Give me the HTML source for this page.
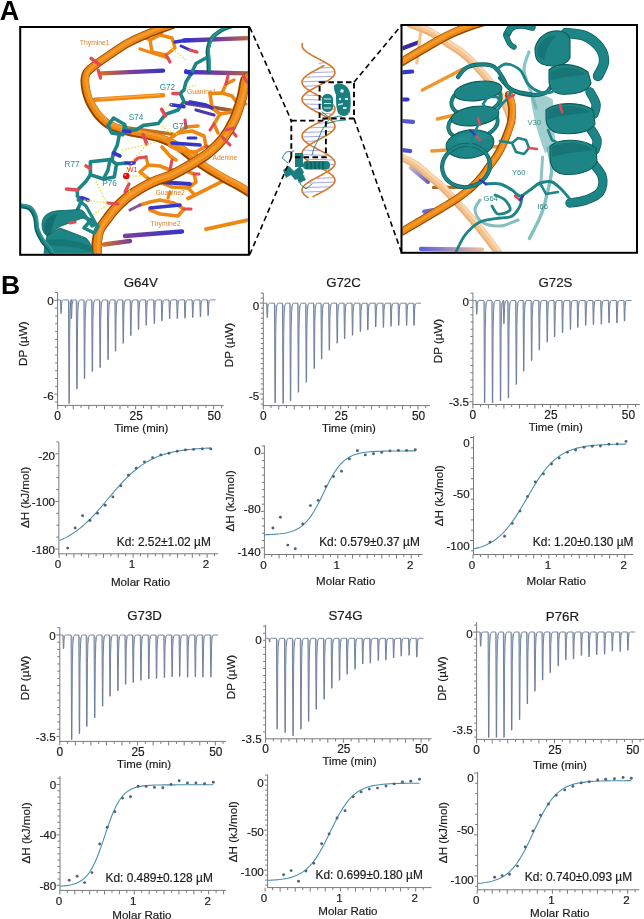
<!DOCTYPE html>
<html><head><meta charset="utf-8"><style>
html,body{margin:0;padding:0;background:#fff;}
body{width:644px;height:919px;overflow:hidden;}
svg{display:block;font-family:"Liberation Sans",sans-serif;will-change:transform;}
</style></head><body>
<svg width="644" height="919" viewBox="0 0 644 919">
<clipPath id="cl"><rect x="21.2" y="28" width="226.6" height="225.8"/></clipPath>
<g clip-path="url(#cl)">
<linearGradient id="g1" gradientUnits="userSpaceOnUse" x1="184" y1="40.5" x2="252" y2="38"><stop offset="0" stop-color="#3535c8"/><stop offset="0.55" stop-color="#7a3f9a"/><stop offset="1" stop-color="#c06a30"/></linearGradient>
<line x1="184" y1="40.5" x2="252" y2="38" stroke="url(#g1)" stroke-width="4.4" stroke-linecap="round"/>
<linearGradient id="g2" gradientUnits="userSpaceOnUse" x1="101" y1="73.4" x2="163" y2="70.6"><stop offset="0" stop-color="#d07020"/><stop offset="0.5" stop-color="#7a3f9a"/><stop offset="1" stop-color="#3535c8"/></linearGradient>
<line x1="101" y1="73.4" x2="163" y2="70.6" stroke="url(#g2)" stroke-width="4.4" stroke-linecap="round"/>
<linearGradient id="g3" gradientUnits="userSpaceOnUse" x1="186" y1="72" x2="252" y2="73.5"><stop offset="0" stop-color="#3535c8"/><stop offset="0.5" stop-color="#7a3f9a"/><stop offset="1" stop-color="#c06a30"/></linearGradient>
<line x1="186" y1="72" x2="252" y2="73.5" stroke="url(#g3)" stroke-width="4.4" stroke-linecap="round"/>
<path d="M94.6,99.8 L163.0,95.3" fill="none" stroke="#ee8812" stroke-width="4.6" stroke-linecap="round" stroke-linejoin="round" opacity="1.0"/>
<path d="M100.0,98.8 L160.0,94.7" fill="none" stroke="#f7a33c" stroke-width="1.4" stroke-linecap="round" stroke-linejoin="round" opacity="1.0"/>
<path d="M140.0,49.0 L168.0,58.0" fill="none" stroke="#ee8812" stroke-width="3.2" stroke-linecap="round" stroke-linejoin="round" opacity="1.0"/>
<linearGradient id="g4" gradientUnits="userSpaceOnUse" x1="125" y1="236" x2="182" y2="231.5"><stop offset="0" stop-color="#7a3f9a"/><stop offset="1" stop-color="#3535c8"/></linearGradient>
<line x1="125" y1="236" x2="182" y2="231.5" stroke="url(#g4)" stroke-width="4.4" stroke-linecap="round"/>
<linearGradient id="g5" gradientUnits="userSpaceOnUse" x1="104" y1="244.5" x2="130" y2="241"><stop offset="0" stop-color="#d07020"/><stop offset="1" stop-color="#7a3f9a"/></linearGradient>
<line x1="104" y1="244.5" x2="130" y2="241" stroke="url(#g5)" stroke-width="4.4" stroke-linecap="round"/>
<path d="M188.0,198.5 L222.3,181.4" fill="none" stroke="#ee8812" stroke-width="3.8" stroke-linecap="round" stroke-linejoin="round" opacity="1.0"/>
<path d="M206.0,229.2 L247.5,220.2" fill="none" stroke="#ee8812" stroke-width="3.8" stroke-linecap="round" stroke-linejoin="round" opacity="1.0"/>
<linearGradient id="g6" gradientUnits="userSpaceOnUse" x1="186" y1="103" x2="231" y2="110.3"><stop offset="0" stop-color="#5a3aa0"/><stop offset="1" stop-color="#a8641c"/></linearGradient>
<line x1="186" y1="103" x2="231" y2="110.3" stroke="url(#g6)" stroke-width="3.8" stroke-linecap="round"/>
<path d="M128.4,128.0 L173.2,134.2" fill="none" stroke="#c07020" stroke-width="3.4" stroke-linecap="round" stroke-linejoin="round" opacity="1.0"/>
<path d="M150.0,40.0 L160.0,35.0 L172.0,38.0 L175.0,48.0 L166.0,55.0 L152.0,52.0 L150.0,40.0" fill="none" stroke="#ee8812" stroke-width="3.4" stroke-linecap="round" stroke-linejoin="round" opacity="1.0"/>
<path d="M166.0,55.0 L170.0,62.0" fill="none" stroke="#e24a55" stroke-width="3.1" stroke-linecap="round" stroke-linejoin="round" opacity="1.0"/>
<path d="M160.0,35.0 L165.0,28.0" fill="none" stroke="#ee8812" stroke-width="3.2" stroke-linecap="round" stroke-linejoin="round" opacity="1.0"/>
<path d="M175.0,42.0 L188.0,40.0" fill="none" stroke="#3535c8" stroke-width="3.6" stroke-linecap="round" stroke-linejoin="round" opacity="1.0"/>
<path d="M181.0,46.0 L190.0,50.0" fill="none" stroke="#3535c8" stroke-width="3.0" stroke-linecap="round" stroke-linejoin="round" opacity="1.0"/>
<path d="M190.0,50.0 L197.0,52.0" fill="none" stroke="#e24a55" stroke-width="3.2" stroke-linecap="round" stroke-linejoin="round" opacity="1.0"/>
<path d="M143.0,37.0 L150.0,40.0" fill="none" stroke="#ee8812" stroke-width="3.2" stroke-linecap="round" stroke-linejoin="round" opacity="1.0"/>
<g fill="none" stroke-linecap="round" stroke-linejoin="round" opacity="1.0"><path d="M172.0,25.0 C168.3,26.3 157.3,30.0 150.0,33.0 C142.7,36.0 135.0,39.2 128.0,43.0 C121.0,46.8 113.7,52.2 108.0,56.0 C102.3,59.8 97.6,63.2 94.0,66.0 C90.4,68.8 88.0,70.7 86.5,73.0 C85.0,75.3 85.0,77.3 84.8,80.0 C84.6,82.7 85.1,86.0 85.6,89.0 C86.1,92.0 87.1,95.3 88.0,98.0 C88.9,100.7 89.4,102.0 91.2,105.0 C93.0,108.0 95.5,112.6 98.6,116.0 C101.7,119.4 105.1,122.9 109.8,125.4 C114.5,127.9 120.7,129.4 126.6,131.0 C132.5,132.6 139.6,133.5 145.2,134.7 C150.8,135.9 155.4,136.8 160.1,138.4 C164.8,140.0 169.2,141.9 173.2,144.0 C177.2,146.1 180.4,148.3 184.0,151.0 C187.6,153.7 191.0,157.0 195.0,160.0 C199.0,163.0 203.0,165.8 208.0,169.0 C213.0,172.2 219.7,176.0 225.0,179.0 C230.3,182.0 235.2,184.2 240.0,187.0 C244.8,189.8 251.7,194.5 254.0,196.0" stroke="#8e4500" stroke-width="8.6"/><path d="M172.0,25.0 C168.3,26.3 157.3,30.0 150.0,33.0 C142.7,36.0 135.0,39.2 128.0,43.0 C121.0,46.8 113.7,52.2 108.0,56.0 C102.3,59.8 97.6,63.2 94.0,66.0 C90.4,68.8 88.0,70.7 86.5,73.0 C85.0,75.3 85.0,77.3 84.8,80.0 C84.6,82.7 85.1,86.0 85.6,89.0 C86.1,92.0 87.1,95.3 88.0,98.0 C88.9,100.7 89.4,102.0 91.2,105.0 C93.0,108.0 95.5,112.6 98.6,116.0 C101.7,119.4 105.1,122.9 109.8,125.4 C114.5,127.9 120.7,129.4 126.6,131.0 C132.5,132.6 139.6,133.5 145.2,134.7 C150.8,135.9 155.4,136.8 160.1,138.4 C164.8,140.0 169.2,141.9 173.2,144.0 C177.2,146.1 180.4,148.3 184.0,151.0 C187.6,153.7 191.0,157.0 195.0,160.0 C199.0,163.0 203.0,165.8 208.0,169.0 C213.0,172.2 219.7,176.0 225.0,179.0 C230.3,182.0 235.2,184.2 240.0,187.0 C244.8,189.8 251.7,194.5 254.0,196.0" stroke="#ee8812" stroke-width="6.7" transform="translate(0.75,-0.75)"/><path d="M172.0,25.0 C168.3,26.3 157.3,30.0 150.0,33.0 C142.7,36.0 135.0,39.2 128.0,43.0 C121.0,46.8 113.7,52.2 108.0,56.0 C102.3,59.8 97.6,63.2 94.0,66.0 C90.4,68.8 88.0,70.7 86.5,73.0 C85.0,75.3 85.0,77.3 84.8,80.0 C84.6,82.7 85.1,86.0 85.6,89.0 C86.1,92.0 87.1,95.3 88.0,98.0 C88.9,100.7 89.4,102.0 91.2,105.0 C93.0,108.0 95.5,112.6 98.6,116.0 C101.7,119.4 105.1,122.9 109.8,125.4 C114.5,127.9 120.7,129.4 126.6,131.0 C132.5,132.6 139.6,133.5 145.2,134.7 C150.8,135.9 155.4,136.8 160.1,138.4 C164.8,140.0 169.2,141.9 173.2,144.0 C177.2,146.1 180.4,148.3 184.0,151.0 C187.6,153.7 191.0,157.0 195.0,160.0 C199.0,163.0 203.0,165.8 208.0,169.0 C213.0,172.2 219.7,176.0 225.0,179.0 C230.3,182.0 235.2,184.2 240.0,187.0 C244.8,189.8 251.7,194.5 254.0,196.0" stroke="#f7a33c" stroke-width="2.4" transform="translate(1.65,-1.65)" opacity="0.75"/></g>
<path d="M91.0,58.4 L99.5,64.7" fill="none" stroke="#e24a55" stroke-width="3.4" stroke-linecap="round" stroke-linejoin="round" opacity="1.0"/>
<path d="M98.3,70.5 L100.6,78.0" fill="none" stroke="#e24a55" stroke-width="3.4" stroke-linecap="round" stroke-linejoin="round" opacity="1.0"/>
<path d="M210.0,93.5 L222.0,93.0 L232.0,96.0 L238.0,104.0 L232.0,112.0 L220.0,114.0 L212.0,108.0 L210.0,93.5" fill="none" stroke="#ee8812" stroke-width="3.6" stroke-linecap="round" stroke-linejoin="round" opacity="1.0"/>
<path d="M222.0,93.0 L226.0,84.0 L234.0,80.0" fill="none" stroke="#ee8812" stroke-width="3.4" stroke-linecap="round" stroke-linejoin="round" opacity="1.0"/>
<path d="M232.0,112.0 L236.0,122.0 L232.0,131.0" fill="none" stroke="#ee8812" stroke-width="3.6" stroke-linecap="round" stroke-linejoin="round" opacity="1.0"/>
<path d="M220.0,114.0 L214.0,124.0 L218.0,133.0" fill="none" stroke="#ee8812" stroke-width="3.6" stroke-linecap="round" stroke-linejoin="round" opacity="1.0"/>
<path d="M214.0,124.0 L210.0,130.0" fill="none" stroke="#e24a55" stroke-width="3.1" stroke-linecap="round" stroke-linejoin="round" opacity="1.0"/>
<path d="M232.0,131.0 L236.0,136.0" fill="none" stroke="#e24a55" stroke-width="3.1" stroke-linecap="round" stroke-linejoin="round" opacity="1.0"/>
<path d="M238.0,104.0 L246.0,104.0" fill="none" stroke="#ee8812" stroke-width="3.2" stroke-linecap="round" stroke-linejoin="round" opacity="1.0"/>
<path d="M190.0,102.0 L206.0,105.0 L212.0,108.0" fill="none" stroke="#3535c8" stroke-width="3.6" stroke-linecap="round" stroke-linejoin="round" opacity="1.0"/>
<path d="M196.0,110.0 L214.0,115.0" fill="none" stroke="#4a3ab0" stroke-width="3.2" stroke-linecap="round" stroke-linejoin="round" opacity="1.0"/>
<path d="M226.0,84.0 L228.0,76.0" fill="none" stroke="#e24a55" stroke-width="3.1" stroke-linecap="round" stroke-linejoin="round" opacity="1.0"/>
<path d="M168.0,140.0 L178.0,133.0 L192.0,131.0 L204.0,136.0 L206.0,146.0 L196.0,152.0 L180.0,151.0 L170.0,146.0 L168.0,140.0" fill="none" stroke="#ee8812" stroke-width="3.6" stroke-linecap="round" stroke-linejoin="round" opacity="1.0"/>
<path d="M178.0,133.0 L186.0,127.0 L198.0,126.0" fill="none" stroke="#ee8812" stroke-width="3.6" stroke-linecap="round" stroke-linejoin="round" opacity="1.0"/>
<path d="M172.0,143.0 L200.0,145.0" fill="none" stroke="#3535c8" stroke-width="3.6" stroke-linecap="round" stroke-linejoin="round" opacity="1.0"/>
<path d="M188.0,138.0 L196.0,138.0" fill="none" stroke="#3535c8" stroke-width="3.0" stroke-linecap="round" stroke-linejoin="round" opacity="1.0"/>
<path d="M162.0,147.0 L170.0,156.0 L176.0,160.0" fill="none" stroke="#ee8812" stroke-width="3.6" stroke-linecap="round" stroke-linejoin="round" opacity="1.0"/>
<path d="M206.0,146.0 L214.0,150.0" fill="none" stroke="#e24a55" stroke-width="3.2" stroke-linecap="round" stroke-linejoin="round" opacity="1.0"/>
<path d="M185.0,120.0 L186.0,128.0" fill="none" stroke="#e24a55" stroke-width="3.1" stroke-linecap="round" stroke-linejoin="round" opacity="1.0"/>
<path d="M196.0,152.0 L198.0,160.0" fill="none" stroke="#ee8812" stroke-width="3.2" stroke-linecap="round" stroke-linejoin="round" opacity="1.0"/>
<path d="M140.0,172.0 L148.0,165.0 L160.0,166.0 L170.0,170.0 L184.0,170.0 L194.0,174.0 L196.0,182.0 L188.0,188.0 L172.0,187.0 L160.0,182.0 L150.0,180.0 L140.0,172.0" fill="none" stroke="#ee8812" stroke-width="3.6" stroke-linecap="round" stroke-linejoin="round" opacity="1.0"/>
<path d="M160.0,182.0 L190.0,184.0" fill="none" stroke="#3535c8" stroke-width="3.8" stroke-linecap="round" stroke-linejoin="round" opacity="1.0"/>
<path d="M170.0,170.0 L172.0,160.0" fill="none" stroke="#e24a55" stroke-width="3.1" stroke-linecap="round" stroke-linejoin="round" opacity="1.0"/>
<path d="M194.0,174.0 L199.0,174.0" fill="none" stroke="#e24a55" stroke-width="3.1" stroke-linecap="round" stroke-linejoin="round" opacity="1.0"/>
<path d="M148.0,165.0 L146.0,157.0" fill="none" stroke="#ee8812" stroke-width="3.2" stroke-linecap="round" stroke-linejoin="round" opacity="1.0"/>
<path d="M188.0,188.0 L194.0,194.0" fill="none" stroke="#ee8812" stroke-width="3.2" stroke-linecap="round" stroke-linejoin="round" opacity="1.0"/>
<path d="M130.0,165.0 L138.0,158.0 L146.0,157.0" fill="none" stroke="#e24a55" stroke-width="3.2" stroke-linecap="round" stroke-linejoin="round" opacity="1.0"/>
<path d="M140.0,205.0 L150.0,202.0 L160.0,200.0 L174.0,203.0 L184.0,209.0 L178.0,216.0 L160.0,214.0 L150.0,210.0" fill="none" stroke="#ee8812" stroke-width="3.6" stroke-linecap="round" stroke-linejoin="round" opacity="1.0"/>
<path d="M150.0,208.0 L180.0,205.0" fill="none" stroke="#3535c8" stroke-width="3.6" stroke-linecap="round" stroke-linejoin="round" opacity="1.0"/>
<path d="M184.0,209.0 L191.0,209.0" fill="none" stroke="#e24a55" stroke-width="3.2" stroke-linecap="round" stroke-linejoin="round" opacity="1.0"/>
<path d="M130.0,210.0 L140.0,205.0" fill="none" stroke="#8a4fa0" stroke-width="3.0" stroke-linecap="round" stroke-linejoin="round" opacity="1.0"/>
<path d="M168.0,198.0 L170.0,192.0" fill="none" stroke="#ee8812" stroke-width="3.2" stroke-linecap="round" stroke-linejoin="round" opacity="1.0"/>
<g fill="none" stroke-linecap="round" stroke-linejoin="round" opacity="1.0"><path d="M252.0,75.0 C250.9,75.8 247.2,76.3 245.5,80.0 C243.8,83.7 243.7,90.7 241.8,97.3 C239.9,103.9 237.4,112.8 234.3,119.6 C231.2,126.4 227.5,132.7 223.2,138.3 C218.9,143.9 213.6,148.9 208.3,153.2 C203.0,157.5 197.7,160.6 191.5,164.3 C185.3,168.0 176.6,172.9 171.0,175.5 C165.4,178.1 162.0,178.4 158.0,180.0 C154.0,181.6 150.8,183.0 147.0,185.0 C143.2,187.0 138.6,189.7 135.0,192.0 C131.4,194.3 128.7,196.0 125.2,199.0 C121.7,202.0 117.0,206.7 114.0,210.0 C111.0,213.3 109.4,215.7 107.0,219.0 C104.6,222.3 101.2,226.2 99.5,230.0 C97.8,233.8 97.2,237.3 96.8,242.0 C96.3,246.7 96.8,255.3 96.8,258.0" stroke="#8e4500" stroke-width="10.4"/><path d="M252.0,75.0 C250.9,75.8 247.2,76.3 245.5,80.0 C243.8,83.7 243.7,90.7 241.8,97.3 C239.9,103.9 237.4,112.8 234.3,119.6 C231.2,126.4 227.5,132.7 223.2,138.3 C218.9,143.9 213.6,148.9 208.3,153.2 C203.0,157.5 197.7,160.6 191.5,164.3 C185.3,168.0 176.6,172.9 171.0,175.5 C165.4,178.1 162.0,178.4 158.0,180.0 C154.0,181.6 150.8,183.0 147.0,185.0 C143.2,187.0 138.6,189.7 135.0,192.0 C131.4,194.3 128.7,196.0 125.2,199.0 C121.7,202.0 117.0,206.7 114.0,210.0 C111.0,213.3 109.4,215.7 107.0,219.0 C104.6,222.3 101.2,226.2 99.5,230.0 C97.8,233.8 97.2,237.3 96.8,242.0 C96.3,246.7 96.8,255.3 96.8,258.0" stroke="#ee8812" stroke-width="8.1" transform="translate(0.75,-0.75)"/><path d="M252.0,75.0 C250.9,75.8 247.2,76.3 245.5,80.0 C243.8,83.7 243.7,90.7 241.8,97.3 C239.9,103.9 237.4,112.8 234.3,119.6 C231.2,126.4 227.5,132.7 223.2,138.3 C218.9,143.9 213.6,148.9 208.3,153.2 C203.0,157.5 197.7,160.6 191.5,164.3 C185.3,168.0 176.6,172.9 171.0,175.5 C165.4,178.1 162.0,178.4 158.0,180.0 C154.0,181.6 150.8,183.0 147.0,185.0 C143.2,187.0 138.6,189.7 135.0,192.0 C131.4,194.3 128.7,196.0 125.2,199.0 C121.7,202.0 117.0,206.7 114.0,210.0 C111.0,213.3 109.4,215.7 107.0,219.0 C104.6,222.3 101.2,226.2 99.5,230.0 C97.8,233.8 97.2,237.3 96.8,242.0 C96.3,246.7 96.8,255.3 96.8,258.0" stroke="#f7a33c" stroke-width="2.9" transform="translate(1.65,-1.65)" opacity="0.75"/></g>
<path d="M243.5,76.0 L247.0,82.0" fill="none" stroke="#e24a55" stroke-width="3.2" stroke-linecap="round" stroke-linejoin="round" opacity="1.0"/>
<path d="M222.0,137.0 L230.0,145.0" fill="none" stroke="#e24a55" stroke-width="3.1" stroke-linecap="round" stroke-linejoin="round" opacity="1.0"/>
<path d="M226.0,130.0 L234.0,128.0" fill="none" stroke="#e24a55" stroke-width="3.1" stroke-linecap="round" stroke-linejoin="round" opacity="1.0"/>
<g fill="none" stroke-linecap="round" stroke-linejoin="round" opacity="1.0"><path d="M236.0,25.0 C233.7,25.8 226.0,27.8 222.0,30.0 C218.0,32.2 214.4,34.8 212.0,38.0 C209.6,41.2 208.4,45.7 207.8,49.4 C207.2,53.1 208.2,56.4 208.3,60.0 C208.5,63.6 208.6,69.2 208.7,71.0" stroke="#0c5c5c" stroke-width="4.0"/><path d="M236.0,25.0 C233.7,25.8 226.0,27.8 222.0,30.0 C218.0,32.2 214.4,34.8 212.0,38.0 C209.6,41.2 208.4,45.7 207.8,49.4 C207.2,53.1 208.2,56.4 208.3,60.0 C208.5,63.6 208.6,69.2 208.7,71.0" stroke="#1d8585" stroke-width="3.1" transform="translate(0.75,-0.75)"/><path d="M236.0,25.0 C233.7,25.8 226.0,27.8 222.0,30.0 C218.0,32.2 214.4,34.8 212.0,38.0 C209.6,41.2 208.4,45.7 207.8,49.4 C207.2,53.1 208.2,56.4 208.3,60.0 C208.5,63.6 208.6,69.2 208.7,71.0" stroke="#3aa3a3" stroke-width="1.1" transform="translate(1.65,-1.65)" opacity="0.75"/></g>
<path d="M206.0,58.0 L196.0,63.5 L191.5,73.0 L186.0,82.0 L184.0,89.8 L180.3,93.5 L184.0,101.2 L178.0,110.0 L165.7,114.2 L158.3,123.5 L143.4,125.4 L135.9,130.0 L126.6,130.0 L124.7,124.5 L113.5,118.0 L108.0,125.4 L111.7,132.9 L122.9,134.7 L124.7,124.5" fill="none" stroke="#1d8585" stroke-width="3.6" stroke-linecap="round" stroke-linejoin="round" opacity="1.0"/>
<path d="M119.1,136.0 L117.3,145.0 L113.5,153.0 L112.0,160.0" fill="none" stroke="#1d8585" stroke-width="3.6" stroke-linecap="round" stroke-linejoin="round" opacity="1.0"/>
<path d="M90.4,161.7 L110.0,159.6 L116.5,164.0 L114.3,177.0 L103.5,179.0 L90.4,174.8 L90.4,161.7" fill="none" stroke="#1d8585" stroke-width="3.6" stroke-linecap="round" stroke-linejoin="round" opacity="1.0"/>
<path d="M103.5,179.0 L108.0,170.0 L110.0,159.6" fill="none" stroke="#1d8585" stroke-width="3.6" stroke-linecap="round" stroke-linejoin="round" opacity="1.0"/>
<path d="M116.5,164.0 L126.0,163.0" fill="none" stroke="#1d8585" stroke-width="3.6" stroke-linecap="round" stroke-linejoin="round" opacity="1.0"/>
<path d="M126.0,163.0 L134.0,163.0" fill="none" stroke="#3535c8" stroke-width="3.6" stroke-linecap="round" stroke-linejoin="round" opacity="1.0"/>
<path d="M90.4,174.8 L86.0,181.3 L81.7,185.7 L77.4,190.0 L77.4,196.0 L81.7,201.0 L77.4,209.6 L81.7,216.0 L90.7,220.2" fill="none" stroke="#1d8585" stroke-width="3.6" stroke-linecap="round" stroke-linejoin="round" opacity="1.0"/>
<path d="M77.4,190.0 L66.5,189.0" fill="none" stroke="#e24a55" stroke-width="3.6" stroke-linecap="round" stroke-linejoin="round" opacity="1.0"/>
<path d="M81.7,197.6 L88.0,200.0" fill="none" stroke="#3535c8" stroke-width="3.6" stroke-linecap="round" stroke-linejoin="round" opacity="1.0"/>
<path d="M86.0,166.0 L90.4,168.3" fill="none" stroke="#e24a55" stroke-width="3.6" stroke-linecap="round" stroke-linejoin="round" opacity="1.0"/>
<path d="M161.7,109.4 L165.4,115.9" fill="none" stroke="#e24a55" stroke-width="3.6" stroke-linecap="round" stroke-linejoin="round" opacity="1.0"/>
<path d="M186.0,71.0 L191.5,74.0" fill="none" stroke="#3535c8" stroke-width="3.6" stroke-linecap="round" stroke-linejoin="round" opacity="1.0"/>
<path d="M171.0,104.7 L184.0,106.6" fill="none" stroke="#3535c8" stroke-width="3.6" stroke-linecap="round" stroke-linejoin="round" opacity="1.0"/>
<path d="M172.9,93.5 L178.0,93.5" fill="none" stroke="#e24a55" stroke-width="3.6" stroke-linecap="round" stroke-linejoin="round" opacity="1.0"/>
<path d="M143.0,134.5 L146.8,143.8" fill="none" stroke="#e24a55" stroke-width="3.6" stroke-linecap="round" stroke-linejoin="round" opacity="1.0"/>
<path d="M130.0,131.7 L124.0,131.0" fill="none" stroke="#3535c8" stroke-width="3.6" stroke-linecap="round" stroke-linejoin="round" opacity="1.0"/>
<path d="M113.5,153.0 L120.0,156.0" fill="none" stroke="#3535c8" stroke-width="3.6" stroke-linecap="round" stroke-linejoin="round" opacity="1.0"/>
<path d="M90.7,220.2 L98.0,226.0 L94.0,233.0 L84.0,228.0 L90.7,220.2" fill="none" stroke="#1d8585" stroke-width="3.6" stroke-linecap="round" stroke-linejoin="round" opacity="1.0"/>
<path d="M42,224 C42,214 52,210 64,210.5 L79,209.5 C83,210 86,213 85,217 L60,226.5 L47,236 C43,233 42,229 42,224 Z" fill="#1d8585" stroke="#0c5c5c" stroke-width="0.8"/>
<path d="M44,226 C46,218 52,214 58,214 C54,220 52,226 51,233 L47,236 C45,233 44,230 44,226 Z" fill="#0c5c5c" opacity="0.5"/>
<path d="M47,236 L60,228 L86,238 C90,242 93,248 94,258 L44,258 C44,250 45,242 47,236 Z" fill="#1d8585" stroke="#0c5c5c" stroke-width="0.8"/>
<path d="M47,240 C60,238 76,240 90,246 L92,252 C78,247 62,245 46,246 Z" fill="#0c5c5c" opacity="0.35"/>
<path d="M78.0,200.0 L86.0,206.0 L96.0,224.0 L92.0,226.0 L84.0,214.0 L76.0,212.0" fill="none" stroke="#1d8585" stroke-width="3.2" stroke-linecap="round" stroke-linejoin="round" opacity="1.0"/>
<path d="M70.0,223.0 L75.0,222.0" fill="none" stroke="#e24a55" stroke-width="3.2" stroke-linecap="round" stroke-linejoin="round" opacity="1.0"/>
<g fill="none" stroke-linecap="round" stroke-linejoin="round" opacity="1.0"><path d="M20.0,206.0 C21.6,206.4 27.3,206.5 29.8,208.4 C32.3,210.3 34.0,213.8 35.2,217.4 C36.4,221.0 35.8,226.1 37.0,230.0 C38.2,233.9 40.3,237.7 42.4,241.0 C44.5,244.3 47.8,247.2 49.6,250.0 C51.4,252.8 52.4,256.7 53.0,258.0" stroke="#0c5c5c" stroke-width="4.4"/><path d="M20.0,206.0 C21.6,206.4 27.3,206.5 29.8,208.4 C32.3,210.3 34.0,213.8 35.2,217.4 C36.4,221.0 35.8,226.1 37.0,230.0 C38.2,233.9 40.3,237.7 42.4,241.0 C44.5,244.3 47.8,247.2 49.6,250.0 C51.4,252.8 52.4,256.7 53.0,258.0" stroke="#1d8585" stroke-width="3.4" transform="translate(0.75,-0.75)"/><path d="M20.0,206.0 C21.6,206.4 27.3,206.5 29.8,208.4 C32.3,210.3 34.0,213.8 35.2,217.4 C36.4,221.0 35.8,226.1 37.0,230.0 C38.2,233.9 40.3,237.7 42.4,241.0 C44.5,244.3 47.8,247.2 49.6,250.0 C51.4,252.8 52.4,256.7 53.0,258.0" stroke="#3aa3a3" stroke-width="1.2" transform="translate(1.65,-1.65)" opacity="0.75"/></g>
<path d="M170.0,47.0 L180.0,55.0 L186.0,60.0" fill="none" stroke="#e4e44a" stroke-width="1.4" stroke-dasharray="1.6 1.6"/>
<path d="M186.0,88.0 L196.0,85.0" fill="none" stroke="#e4e44a" stroke-width="1.4" stroke-dasharray="1.6 1.6"/>
<path d="M172.0,104.0 L166.0,108.0" fill="none" stroke="#e4e44a" stroke-width="1.4" stroke-dasharray="1.6 1.6"/>
<path d="M162.0,126.0 L170.0,132.0 L178.0,134.0" fill="none" stroke="#e4e44a" stroke-width="1.4" stroke-dasharray="1.6 1.6"/>
<path d="M122.0,150.0 L140.0,146.0 L156.0,142.0" fill="none" stroke="#e4e44a" stroke-width="1.4" stroke-dasharray="1.6 1.6"/>
<path d="M126.0,172.0 L136.0,156.0 L146.0,146.0" fill="none" stroke="#e4e44a" stroke-width="1.4" stroke-dasharray="1.6 1.6"/>
<path d="M96.0,181.0 L103.0,196.0 L108.0,203.0" fill="none" stroke="#e4e44a" stroke-width="1.4" stroke-dasharray="1.6 1.6"/>
<path d="M84.0,200.0 L107.0,203.0" fill="none" stroke="#e4e44a" stroke-width="1.4" stroke-dasharray="1.6 1.6"/>
<path d="M93.0,215.0 L107.0,205.0" fill="none" stroke="#e4e44a" stroke-width="1.4" stroke-dasharray="1.6 1.6"/>
<path d="M127.0,181.0 L130.0,194.0" fill="none" stroke="#e4e44a" stroke-width="1.4" stroke-dasharray="1.6 1.6"/>
<path d="M132.0,176.0 L146.0,176.0" fill="none" stroke="#e4e44a" stroke-width="1.4" stroke-dasharray="1.6 1.6"/>
<circle cx="126.3" cy="176" r="3.3" fill="#d81010"/>
<circle cx="125.4" cy="175" r="1.1" fill="#ff8080"/>
<path d="M108.0,203.0 L118.0,204.0" fill="none" stroke="#e24a55" stroke-width="3.0" stroke-linecap="round" stroke-linejoin="round" opacity="1.0"/>
<path d="M125.0,192.0 L129.0,184.0" fill="none" stroke="#e24a55" stroke-width="3.2" stroke-linecap="round" stroke-linejoin="round" opacity="1.0"/>
<text x="79.8" y="44.6" font-size="6.8" fill="#d9822b" text-anchor="start">Thymine1</text>
<text x="159.7" y="89.6" font-size="8.2" fill="#2a8a8a" text-anchor="start">G72</text>
<text x="187" y="93.8" font-size="6.8" fill="#d9822b" text-anchor="start">Guanine1</text>
<text x="128.8" y="119.8" font-size="8.2" fill="#2a8a8a" text-anchor="start">S74</text>
<text x="172.4" y="128.8" font-size="8.2" fill="#2a8a8a" text-anchor="start">G73</text>
<text x="212.4" y="160.2" font-size="6.8" fill="#d9822b" text-anchor="start">Adenine</text>
<text x="64.5" y="167" font-size="8.2" fill="#2a8a8a" text-anchor="start">R77</text>
<text x="127" y="172" font-size="6.8" fill="#e02020" text-anchor="start">W1</text>
<text x="102.3" y="186.3" font-size="8.2" fill="#2a8a8a" text-anchor="start">P76</text>
<text x="155.4" y="194.5" font-size="6.8" fill="#d9822b" text-anchor="start">Guanine2</text>
<text x="150.6" y="225.7" font-size="6.8" fill="#d9822b" text-anchor="start">Thymine2</text>
</g>
<rect x="20.2" y="27" width="228.7" height="227.8" fill="none" stroke="#000" stroke-width="2"/>
<line x1="325.6" y1="62.6" x2="318.5" y2="63.4" stroke="#5050cc" stroke-width="0.85" opacity="0.6"/>
<line x1="332.2" y1="67.2" x2="321.2" y2="68.0" stroke="#5050cc" stroke-width="0.85" opacity="0.6"/>
<line x1="335.0" y1="71.8" x2="312.5" y2="72.6" stroke="#5050cc" stroke-width="0.85" opacity="0.6"/>
<line x1="333.2" y1="76.4" x2="305.5" y2="77.2" stroke="#5050cc" stroke-width="0.85" opacity="0.6"/>
<line x1="327.2" y1="81.0" x2="302.1" y2="81.8" stroke="#5050cc" stroke-width="0.85" opacity="0.6"/>
<line x1="318.9" y1="85.6" x2="303.3" y2="86.4" stroke="#5050cc" stroke-width="0.85" opacity="0.6"/>
<line x1="304.2" y1="94.8" x2="317.0" y2="95.6" stroke="#5050cc" stroke-width="0.85" opacity="0.6"/>
<line x1="302.0" y1="99.4" x2="325.6" y2="100.2" stroke="#5050cc" stroke-width="0.85" opacity="0.6"/>
<line x1="304.4" y1="104.0" x2="332.2" y2="104.8" stroke="#5050cc" stroke-width="0.85" opacity="0.6"/>
<line x1="310.8" y1="108.6" x2="335.0" y2="109.4" stroke="#5050cc" stroke-width="0.85" opacity="0.6"/>
<line x1="319.3" y1="113.2" x2="333.2" y2="114.0" stroke="#5050cc" stroke-width="0.85" opacity="0.6"/>
<line x1="333.3" y1="122.4" x2="318.9" y2="123.2" stroke="#5050cc" stroke-width="0.85" opacity="0.6"/>
<line x1="334.9" y1="127.0" x2="310.4" y2="127.8" stroke="#5050cc" stroke-width="0.85" opacity="0.6"/>
<line x1="332.0" y1="131.6" x2="304.2" y2="132.4" stroke="#5050cc" stroke-width="0.85" opacity="0.6"/>
<line x1="325.2" y1="136.2" x2="302.0" y2="137.0" stroke="#5050cc" stroke-width="0.85" opacity="0.6"/>
<line x1="316.6" y1="140.8" x2="304.4" y2="141.6" stroke="#5050cc" stroke-width="0.85" opacity="0.6"/>
<line x1="303.2" y1="150.0" x2="319.3" y2="150.8" stroke="#5050cc" stroke-width="0.85" opacity="0.6"/>
<line x1="302.2" y1="154.6" x2="327.6" y2="155.4" stroke="#5050cc" stroke-width="0.85" opacity="0.6"/>
<line x1="305.7" y1="159.2" x2="333.3" y2="160.0" stroke="#5050cc" stroke-width="0.85" opacity="0.6"/>
<line x1="312.9" y1="163.8" x2="334.9" y2="164.6" stroke="#5050cc" stroke-width="0.85" opacity="0.6"/>
<line x1="321.6" y1="168.4" x2="332.0" y2="169.2" stroke="#5050cc" stroke-width="0.85" opacity="0.6"/>
<line x1="334.2" y1="177.6" x2="316.6" y2="178.4" stroke="#5050cc" stroke-width="0.85" opacity="0.6"/>
<line x1="334.6" y1="182.2" x2="308.5" y2="183.0" stroke="#5050cc" stroke-width="0.85" opacity="0.6"/>
<line x1="330.5" y1="186.8" x2="303.2" y2="187.6" stroke="#5050cc" stroke-width="0.85" opacity="0.6"/>
<line x1="323.0" y1="191.4" x2="302.2" y2="192.2" stroke="#5050cc" stroke-width="0.85" opacity="0.6"/>
<path d="M302.6,43.0 L302.2,44.1 L302.0,45.2 L302.1,46.3 L302.5,47.4 L303.1,48.5 L304.0,49.6 L305.2,50.7 L306.5,51.8 L308.0,52.9 L309.8,54.0 L311.6,55.1 L313.6,56.2 L315.6,57.3 L317.7,58.4 L319.8,59.5 L321.9,60.6 L324.0,61.7 L325.9,62.8 L327.7,63.9 L329.4,65.0 L330.9,66.1 L332.2,67.2 L333.2,68.3 L334.1,69.4 L334.6,70.5 L334.9,71.6 L335.0,72.7 L334.7,73.8 L334.3,74.9 L333.5,76.0 L332.5,77.1 L331.3,78.2 L329.8,79.3 L328.2,80.4 L326.4,81.5 L324.5,82.6 L322.5,83.7 L320.4,84.8 L318.3,85.9 L316.2,87.0 L314.1,88.1 L312.1,89.2 L310.2,90.3 L308.5,91.4 L306.9,92.5 L305.5,93.6 L304.3,94.7 L303.3,95.8 L302.6,96.9 L302.2,98.0 L302.0,99.1 L302.1,100.2 L302.4,101.3 L303.1,102.4 L303.9,103.5 L305.0,104.6 L306.4,105.7 L307.9,106.8 L309.6,107.9 L311.4,109.0 L313.4,110.1 L315.4,111.2 L317.5,112.3 L319.7,113.4 L321.7,114.5 L323.8,115.6 L325.7,116.7 L327.6,117.8 L329.3,118.9 L330.8,120.0 L332.1,121.1 L333.2,122.2 L334.0,123.3 L334.6,124.4 L334.9,125.5 L335.0,126.6 L334.8,127.7 L334.3,128.8 L333.6,129.9 L332.6,131.0 L331.4,132.1 L330.0,133.2 L328.4,134.3 L326.6,135.4 L324.7,136.5 L322.7,137.6 L320.6,138.7 L318.5,139.8 L316.4,140.9 L314.3,142.0 L312.3,143.1 L310.4,144.2 L308.6,145.3 L307.0,146.4 L305.6,147.5 L304.4,148.6 L303.4,149.7 L302.7,150.8 L302.2,151.9 L302.0,153.0 L302.1,154.1 L302.4,155.2 L303.0,156.3 L303.8,157.4 L304.9,158.5 L306.2,159.6 L307.7,160.7 L309.4,161.8 L311.3,162.9 L313.2,164.0 L315.3,165.1 L317.3,166.2 L319.5,167.3 L321.6,168.4 L323.6,169.5 L325.6,170.6 L327.4,171.7 L329.1,172.8 L330.6,173.9 L332.0,175.0 L333.1,176.1 L333.9,177.2 L334.6,178.3 L334.9,179.4 L335.0,180.5 L334.8,181.6 L334.4,182.7 L333.7,183.8 L332.7,184.9 L331.5,186.0 L330.1,187.1 L328.5,188.2 L326.8,189.3 L324.9,190.4 L322.9,191.5 L320.8,192.6 L318.7,193.7 L316.6,194.8 L314.5,195.9 L312.5,197.0" fill="none" stroke="#d4782a" stroke-width="1.6"/>
<path d="M324.5,65.4 L322.8,66.3 L321.0,67.3 L319.2,68.2 L317.4,69.2 L315.6,70.1 L313.8,71.1 L312.1,72.0 L310.5,73.0 L308.9,73.9 L307.5,74.9 L306.2,75.8 L305.1,76.8 L304.1,77.7 L303.3,78.7 L302.7,79.6 L302.3,80.6 L302.0,81.5 L302.0,82.4 L302.2,83.4 L302.6,84.3 L303.1,85.3 L303.9,86.2 L304.8,87.2 L305.9,88.1 L307.1,89.1 L308.5,90.0 L310.0,91.0 L311.6,91.9 L313.3,92.9 L315.1,93.8 L316.9,94.8 L318.7,95.7 L320.5,96.7 L322.3,97.6 L324.1,98.6 L325.7,99.5 L327.3,100.4 L328.8,101.4 L330.2,102.3 L331.4,103.3 L332.4,104.2 L333.3,105.2 L334.0,106.1 L334.5,107.1 L334.9,108.0 L335.0,109.0 L334.9,109.9 L334.7,110.9 L334.2,111.8 L333.5,112.8 L332.7,113.7 L331.7,114.7 L330.5,115.6 L329.2,116.5 L327.7,117.5 L326.2,118.4 L324.5,119.4 L322.8,120.3 L321.0,121.3 L319.2,122.2 L317.4,123.2 L315.6,124.1 L313.8,125.1 L312.1,126.0 L310.5,127.0 L308.9,127.9 L307.5,128.9 L306.2,129.8 L305.1,130.8 L304.1,131.7 L303.3,132.6 L302.7,133.6 L302.3,134.5 L302.0,135.5 L302.0,136.4 L302.2,137.4 L302.6,138.3 L303.1,139.3 L303.9,140.2 L304.8,141.2 L305.9,142.1 L307.1,143.1 L308.5,144.0 L310.0,145.0 L311.6,145.9 L313.3,146.9 L315.1,147.8 L316.9,148.7 L318.7,149.7 L320.5,150.6 L322.3,151.6 L324.0,152.5 L325.7,153.5 L327.3,154.4 L328.8,155.4 L330.1,156.3 L331.4,157.3 L332.4,158.2 L333.3,159.2 L334.0,160.1 L334.5,161.1 L334.9,162.0 L335.0,163.0 L334.9,163.9 L334.7,164.9 L334.2,165.8 L333.5,166.7 L332.7,167.7 L331.7,168.6 L330.5,169.6 L329.2,170.5 L327.8,171.5 L326.2,172.4 L324.5,173.4 L322.8,174.3 L321.0,175.3 L319.2,176.2 L317.4,177.2 L315.6,178.1 L313.8,179.1 L312.1,180.0 L310.5,181.0 L309.0,181.9 L307.5,182.8 L306.2,183.8 L305.1,184.7 L304.1,185.7 L303.3,186.6 L302.7,187.6 L302.3,188.5 L302.0,189.5 L302.0,190.4 L302.2,191.4 L302.5,192.3 L303.1,193.3 L303.9,194.2 L304.8,195.2 L305.9,196.1 L307.1,197.1 L308.5,198.0" fill="none" stroke="#d4782a" stroke-width="1.6"/>
<path d="M334,88 C333,84 338,82.5 342,84 C346,85 349,88 350,93 C351,100 351,108 349.5,113 C347,117 341,117 338,113 C336,108 336,100 336,95 C335,92 334,90 334,88 Z" fill="#1b7f7f"/>
<path d="M341,89 l3,1 l-1,3 l-3,-1 z M345,98 l3,0 l0,2 l-3,0 z M338,104 l5,-1 l0,1.5 l-5,1 z M343,107 l4,0 l-1,2 l-3,0 z M339,98 l2,0 l0,2 l-2,0 z" fill="#e8f4f4" opacity="0.9"/>
<path d="M336,110 C336,114 340,118 345,117 C348,117 349,114 349,112" fill="none" stroke="#fff" stroke-width="0.8" opacity="0.7"/>
<rect x="322" y="94" width="11" height="18" rx="5" fill="#1b7f7f"/>
<path d="M324,99 h7 M324,103.5 h7 M324,108 h7" stroke="#e8f4f4" stroke-width="1.1"/>
<path d="M322.0,112.0 L330.0,118.0 L340.0,116.0 L346.0,120.0 L336.0,121.0 L326.0,124.0" fill="none" stroke="#1b7f7f" stroke-width="0.9" stroke-linecap="round" stroke-linejoin="round" opacity="1.0"/>
<path d="M330.0,118.0 L322.0,130.0 L318.0,140.0 L314.0,148.0 L312.0,155.0" fill="none" stroke="#1b7f7f" stroke-width="0.9" stroke-linecap="round" stroke-linejoin="round" opacity="1.0"/>
<rect x="303" y="161" width="27" height="8.5" rx="4" fill="#1b7f7f"/>
<path d="M307,162 v7 M311,162 v7 M315,162 v7 M319,162 v7 M323,162 v7" stroke="#0b4f4f" stroke-width="1.1"/>
<path d="M283,170 l6,-4 l5,5 l6,-5 l4,6 l-3,6 l-6,2 l-4,-5 l-5,3 z" fill="#1b7f7f"/>
<path d="M295,153 h8 v14 h-8 z" fill="#1b7f7f"/>
<path d="M296,176 l7,-2 l3,6 l-7,3 z" fill="#1b7f7f"/>
<path d="M288.0,163.0 L282.0,158.0 L286.0,152.0 L294.0,151.0" fill="none" stroke="#1b7f7f" stroke-width="0.9" stroke-linecap="round" stroke-linejoin="round" opacity="1.0"/>
<path d="M304.0,176.0 L300.0,184.0 L306.0,189.0 L312.0,184.0" fill="none" stroke="#1b7f7f" stroke-width="0.9" stroke-linecap="round" stroke-linejoin="round" opacity="1.0"/>
<rect x="319.6" y="82.2" width="34.4" height="36.3" stroke="#000" stroke-width="1.9" fill="none" stroke-dasharray="5.5 3.3"/>
<rect x="291.3" y="120.6" width="34.6" height="36.7" stroke="#000" stroke-width="1.9" fill="none" stroke-dasharray="5.5 3.3"/>
<line x1="249.8" y1="27.3" x2="291.3" y2="120.6" stroke="#000" stroke-width="1.6" fill="none" stroke-dasharray="5.5 3.6"/>
<line x1="249.8" y1="254.5" x2="291.3" y2="157.3" stroke="#000" stroke-width="1.6" fill="none" stroke-dasharray="5.5 3.6"/>
<line x1="354" y1="82.2" x2="401.5" y2="25.3" stroke="#000" stroke-width="1.6" fill="none" stroke-dasharray="5.5 3.6"/>
<line x1="354" y1="118.5" x2="401.5" y2="252.5" stroke="#000" stroke-width="1.6" fill="none" stroke-dasharray="5.5 3.6"/>
<clipPath id="cr"><rect x="402.5" y="26" width="233.5" height="225.8"/></clipPath>
<g clip-path="url(#cr)">
<path d="M402.0,48.6 L417.7,42.6" fill="none" stroke="#3a2aa8" stroke-width="4.2" stroke-linecap="round" stroke-linejoin="round" opacity="1.0"/>
<path d="M402.0,72.4 L412.1,71.5" fill="none" stroke="#3535c8" stroke-width="4.2" stroke-linecap="round" stroke-linejoin="round" opacity="1.0"/>
<path d="M402.0,99.5 L407.5,99.5" fill="none" stroke="#3535c8" stroke-width="4.2" stroke-linecap="round" stroke-linejoin="round" opacity="1.0"/>
<path d="M402.0,121.0 L413.0,121.8" fill="none" stroke="#5555d8" stroke-width="4.2" stroke-linecap="round" stroke-linejoin="round" opacity="1.0"/>
<path d="M402.0,150.1 L410.2,151.0" fill="none" stroke="#5050d0" stroke-width="4.2" stroke-linecap="round" stroke-linejoin="round" opacity="1.0"/>
<path d="M424.2,211.6 L435.4,209.7" fill="none" stroke="#6b6bd8" stroke-width="4.2" stroke-linecap="round" stroke-linejoin="round" opacity="1.0"/>
<linearGradient id="gr1" gradientUnits="userSpaceOnUse" x1="411" y1="167.8" x2="428" y2="181.8"><stop offset="0" stop-color="#c0b8c8"/><stop offset="1" stop-color="#6060d0"/></linearGradient>
<line x1="411" y1="167.8" x2="428" y2="181.8" stroke="url(#gr1)" stroke-width="4.2" stroke-linecap="round"/>
<linearGradient id="gr2" gradientUnits="userSpaceOnUse" x1="421" y1="249" x2="482" y2="249.8"><stop offset="0" stop-color="#6060e0"/><stop offset="1" stop-color="#e8c0a0"/></linearGradient>
<line x1="421" y1="249" x2="482" y2="249.8" stroke="url(#gr2)" stroke-width="4.4" stroke-linecap="round"/>
<path d="M422.4,90.1 L463.3,68.7" fill="none" stroke="#f0962e" stroke-width="3.4" stroke-linecap="round" stroke-linejoin="round" opacity="1.0"/>
<path d="M437.3,119.0 L461.5,113.4" fill="none" stroke="#f0962e" stroke-width="3.4" stroke-linecap="round" stroke-linejoin="round" opacity="1.0"/>
<path d="M431.7,151.0 L500.6,146.4" fill="none" stroke="#f0962e" stroke-width="3.4" stroke-linecap="round" stroke-linejoin="round" opacity="1.0"/>
<path d="M433.5,187.4 L470.8,187.4" fill="none" stroke="#a86a30" stroke-width="3.4" stroke-linecap="round" stroke-linejoin="round" opacity="1.0"/>
<path d="M420.5,33.3 L416.8,63.0" fill="none" stroke="#f6c48e" stroke-width="3.2" stroke-linecap="round" stroke-linejoin="round" opacity="1.0"/>
<g fill="none" stroke-linecap="round" stroke-linejoin="round" opacity="1.0"><path d="M410.0,24.0 C413.3,25.3 423.8,28.8 430.0,32.0 C436.2,35.2 441.7,39.5 447.0,43.0 C452.3,46.5 457.3,49.3 462.0,53.0 C466.7,56.7 469.8,59.5 475.0,65.0 C480.2,70.5 488.2,79.8 493.0,86.0 C497.8,92.2 500.8,96.0 504.0,102.0 C507.2,108.0 510.7,118.7 512.0,122.0" stroke="#e8b07a" stroke-width="7.6"/><path d="M410.0,24.0 C413.3,25.3 423.8,28.8 430.0,32.0 C436.2,35.2 441.7,39.5 447.0,43.0 C452.3,46.5 457.3,49.3 462.0,53.0 C466.7,56.7 469.8,59.5 475.0,65.0 C480.2,70.5 488.2,79.8 493.0,86.0 C497.8,92.2 500.8,96.0 504.0,102.0 C507.2,108.0 510.7,118.7 512.0,122.0" stroke="#f6c48e" stroke-width="5.9" transform="translate(0.75,-0.75)"/><path d="M410.0,24.0 C413.3,25.3 423.8,28.8 430.0,32.0 C436.2,35.2 441.7,39.5 447.0,43.0 C452.3,46.5 457.3,49.3 462.0,53.0 C466.7,56.7 469.8,59.5 475.0,65.0 C480.2,70.5 488.2,79.8 493.0,86.0 C497.8,92.2 500.8,96.0 504.0,102.0 C507.2,108.0 510.7,118.7 512.0,122.0" stroke="#fde0c0" stroke-width="2.1" transform="translate(1.65,-1.65)" opacity="0.75"/></g>
<g fill="none" stroke-linecap="round" stroke-linejoin="round" opacity="1.0"><path d="M400.0,157.0 C402.7,158.3 411.3,161.9 416.0,165.0 C420.7,168.1 423.8,171.8 428.0,175.3 C432.2,178.8 437.0,182.3 441.0,186.0 C445.0,189.7 448.7,193.9 452.2,197.6 C455.7,201.3 458.9,204.6 462.0,208.0 C465.1,211.4 467.8,214.6 470.8,218.1 C473.8,221.6 477.2,225.6 480.0,229.0 C482.8,232.4 484.4,234.4 487.6,238.6 C490.8,242.8 497.1,251.4 499.0,254.0" stroke="#e8b07a" stroke-width="7.6"/><path d="M400.0,157.0 C402.7,158.3 411.3,161.9 416.0,165.0 C420.7,168.1 423.8,171.8 428.0,175.3 C432.2,178.8 437.0,182.3 441.0,186.0 C445.0,189.7 448.7,193.9 452.2,197.6 C455.7,201.3 458.9,204.6 462.0,208.0 C465.1,211.4 467.8,214.6 470.8,218.1 C473.8,221.6 477.2,225.6 480.0,229.0 C482.8,232.4 484.4,234.4 487.6,238.6 C490.8,242.8 497.1,251.4 499.0,254.0" stroke="#f6c48e" stroke-width="5.9" transform="translate(0.75,-0.75)"/><path d="M400.0,157.0 C402.7,158.3 411.3,161.9 416.0,165.0 C420.7,168.1 423.8,171.8 428.0,175.3 C432.2,178.8 437.0,182.3 441.0,186.0 C445.0,189.7 448.7,193.9 452.2,197.6 C455.7,201.3 458.9,204.6 462.0,208.0 C465.1,211.4 467.8,214.6 470.8,218.1 C473.8,221.6 477.2,225.6 480.0,229.0 C482.8,232.4 484.4,234.4 487.6,238.6 C490.8,242.8 497.1,251.4 499.0,254.0" stroke="#fde0c0" stroke-width="2.1" transform="translate(1.65,-1.65)" opacity="0.75"/></g>
<g fill="none" stroke-linecap="round" stroke-linejoin="round" opacity="1.0"><path d="M400.0,63.0 C402.5,61.5 410.3,56.8 415.0,54.0 C419.7,51.2 423.8,48.8 428.0,46.4 C432.2,44.0 436.0,41.7 440.0,39.5 C444.0,37.3 447.1,35.6 452.2,33.3 C457.3,31.0 464.5,28.1 470.8,25.9 C477.1,23.7 486.8,21.0 490.0,20.0" stroke="#8e4500" stroke-width="8.6"/><path d="M400.0,63.0 C402.5,61.5 410.3,56.8 415.0,54.0 C419.7,51.2 423.8,48.8 428.0,46.4 C432.2,44.0 436.0,41.7 440.0,39.5 C444.0,37.3 447.1,35.6 452.2,33.3 C457.3,31.0 464.5,28.1 470.8,25.9 C477.1,23.7 486.8,21.0 490.0,20.0" stroke="#ee8812" stroke-width="6.7" transform="translate(0.75,-0.75)"/><path d="M400.0,63.0 C402.5,61.5 410.3,56.8 415.0,54.0 C419.7,51.2 423.8,48.8 428.0,46.4 C432.2,44.0 436.0,41.7 440.0,39.5 C444.0,37.3 447.1,35.6 452.2,33.3 C457.3,31.0 464.5,28.1 470.8,25.9 C477.1,23.7 486.8,21.0 490.0,20.0" stroke="#f7a33c" stroke-width="2.4" transform="translate(1.65,-1.65)" opacity="0.75"/></g>
<g fill="none" stroke-linecap="round" stroke-linejoin="round" opacity="1.0"><path d="M398.0,234.0 C400.8,232.3 410.0,226.9 415.0,224.0 C420.0,221.1 423.5,219.0 428.0,216.3 C432.5,213.6 437.4,210.8 442.0,208.0 C446.6,205.2 451.9,202.2 455.9,199.5 C459.9,196.8 462.9,194.5 466.0,192.0 C469.1,189.5 471.7,187.4 474.5,184.6 C477.3,181.8 480.5,178.1 483.0,175.0 C485.5,171.9 487.2,169.0 489.4,166.0 C491.6,163.0 494.1,159.8 496.0,157.0 C497.9,154.2 498.9,152.5 500.6,149.2 C502.3,145.9 504.3,141.5 506.0,137.0 C507.7,132.5 510.0,126.8 511.0,122.0 C512.0,117.2 512.3,112.5 512.0,108.0 C511.7,103.5 509.5,97.2 509.0,95.0" stroke="#8e4500" stroke-width="8.0"/><path d="M398.0,234.0 C400.8,232.3 410.0,226.9 415.0,224.0 C420.0,221.1 423.5,219.0 428.0,216.3 C432.5,213.6 437.4,210.8 442.0,208.0 C446.6,205.2 451.9,202.2 455.9,199.5 C459.9,196.8 462.9,194.5 466.0,192.0 C469.1,189.5 471.7,187.4 474.5,184.6 C477.3,181.8 480.5,178.1 483.0,175.0 C485.5,171.9 487.2,169.0 489.4,166.0 C491.6,163.0 494.1,159.8 496.0,157.0 C497.9,154.2 498.9,152.5 500.6,149.2 C502.3,145.9 504.3,141.5 506.0,137.0 C507.7,132.5 510.0,126.8 511.0,122.0 C512.0,117.2 512.3,112.5 512.0,108.0 C511.7,103.5 509.5,97.2 509.0,95.0" stroke="#ee8812" stroke-width="6.2" transform="translate(0.75,-0.75)"/><path d="M398.0,234.0 C400.8,232.3 410.0,226.9 415.0,224.0 C420.0,221.1 423.5,219.0 428.0,216.3 C432.5,213.6 437.4,210.8 442.0,208.0 C446.6,205.2 451.9,202.2 455.9,199.5 C459.9,196.8 462.9,194.5 466.0,192.0 C469.1,189.5 471.7,187.4 474.5,184.6 C477.3,181.8 480.5,178.1 483.0,175.0 C485.5,171.9 487.2,169.0 489.4,166.0 C491.6,163.0 494.1,159.8 496.0,157.0 C497.9,154.2 498.9,152.5 500.6,149.2 C502.3,145.9 504.3,141.5 506.0,137.0 C507.7,132.5 510.0,126.8 511.0,122.0 C512.0,117.2 512.3,112.5 512.0,108.0 C511.7,103.5 509.5,97.2 509.0,95.0" stroke="#f7a33c" stroke-width="2.2" transform="translate(1.65,-1.65)" opacity="0.75"/></g>
<path d="M530,92 C538,92 548,96 553,100 L555,140 C552,146 548,152 545,153 C540,140 533,120 530,92 Z" fill="#6fb4b4" opacity="0.65"/>
<path d="M529.0,52.0 C528.2,55.0 523.7,63.3 524.0,70.0 C524.3,76.7 529.0,85.7 531.0,92.0 C533.0,98.3 535.2,105.3 536.0,108.0" fill="none" stroke="#6fb4b4" stroke-width="3.2" stroke-linecap="round" stroke-linejoin="round" opacity="0.8"/>
<path d="M529.4,238.4 C531.4,234.3 538.3,222.1 541.4,214.0 C544.5,205.9 546.3,197.5 548.0,190.0 C549.7,182.5 551.7,176.0 551.7,169.0 C551.7,162.0 548.6,151.5 548.0,148.0" fill="none" stroke="#6fb4b4" stroke-width="3.4" stroke-linecap="round" stroke-linejoin="round" opacity="0.85"/>
<path d="M542.6,157.0 L540.7,185.4" fill="none" stroke="#6fb4b4" stroke-width="3.0" stroke-linecap="round" stroke-linejoin="round" opacity="0.8"/>
<path d="M480.0,200.0 C479.2,201.7 474.7,206.3 475.0,210.0 C475.3,213.7 477.8,219.3 482.0,222.0 C486.2,224.7 494.0,226.3 500.0,226.0 C506.0,225.7 515.0,221.0 518.0,220.0" fill="none" stroke="#6fb4b4" stroke-width="3.0" stroke-linecap="round" stroke-linejoin="round" opacity="0.85"/>
<path d="M500.0,78.0 C502.0,80.0 507.0,87.2 512.0,90.0 C517.0,92.8 524.5,94.5 530.0,95.0 C535.5,95.5 541.7,94.2 545.0,93.0 C548.3,91.8 549.2,88.8 550.0,88.0" fill="none" stroke="#0c5c5c" stroke-width="4.0" stroke-linecap="round" opacity="1"/>
<path d="M500.0,78.0 C502.0,80.0 507.0,87.2 512.0,90.0 C517.0,92.8 524.5,94.5 530.0,95.0 C535.5,95.5 541.7,94.2 545.0,93.0 C548.3,91.8 549.2,88.8 550.0,88.0" fill="none" stroke="#1d8585" stroke-width="2.6" stroke-linecap="round" opacity="1"/>
<path d="M507.0,34.0 C507.8,32.8 509.5,28.5 512.0,27.0 C514.5,25.5 518.7,25.0 522.0,25.0 C525.3,25.0 530.3,26.7 532.0,27.0" fill="none" stroke="#0c5c5c" stroke-width="7.4" stroke-linecap="round" opacity="1"/>
<path d="M507.0,34.0 C507.8,32.8 509.5,28.5 512.0,27.0 C514.5,25.5 518.7,25.0 522.0,25.0 C525.3,25.0 530.3,26.7 532.0,27.0" fill="none" stroke="#1d8585" stroke-width="6" stroke-linecap="round" opacity="1"/>
<path d="M506.0,36.0 C506.7,37.3 508.7,42.2 510.0,44.0 C511.3,45.8 513.3,46.5 514.0,47.0" fill="none" stroke="#0c5c5c" stroke-width="5.4" stroke-linecap="round" opacity="1"/>
<path d="M506.0,36.0 C506.7,37.3 508.7,42.2 510.0,44.0 C511.3,45.8 513.3,46.5 514.0,47.0" fill="none" stroke="#1d8585" stroke-width="4" stroke-linecap="round" opacity="1"/>
<path d="M566.0,33.0 C569.2,33.5 579.3,33.5 585.0,36.0 C590.7,38.5 596.8,43.7 600.0,48.0 C603.2,52.3 604.3,57.3 604.0,62.0 C603.7,66.7 599.0,73.7 598.0,76.0" fill="none" stroke="#0c5c5c" stroke-width="10.4" stroke-linecap="round" opacity="1"/>
<path d="M566.0,33.0 C569.2,33.5 579.3,33.5 585.0,36.0 C590.7,38.5 596.8,43.7 600.0,48.0 C603.2,52.3 604.3,57.3 604.0,62.0 C603.7,66.7 599.0,73.7 598.0,76.0" fill="none" stroke="#1d8585" stroke-width="9" stroke-linecap="round" opacity="1"/>
<path d="M590.0,92.0 C591.0,94.0 595.3,100.3 596.0,104.0 C596.7,107.7 594.3,112.3 594.0,114.0" fill="none" stroke="#0c5c5c" stroke-width="9.4" stroke-linecap="round" opacity="1"/>
<path d="M590.0,92.0 C591.0,94.0 595.3,100.3 596.0,104.0 C596.7,107.7 594.3,112.3 594.0,114.0" fill="none" stroke="#1d8585" stroke-width="8" stroke-linecap="round" opacity="1"/>
<path d="M590.0,128.0 C591.2,130.0 596.2,136.3 597.0,140.0 C597.8,143.7 595.3,148.3 595.0,150.0" fill="none" stroke="#0c5c5c" stroke-width="9.4" stroke-linecap="round" opacity="1"/>
<path d="M590.0,128.0 C591.2,130.0 596.2,136.3 597.0,140.0 C597.8,143.7 595.3,148.3 595.0,150.0" fill="none" stroke="#1d8585" stroke-width="8" stroke-linecap="round" opacity="1"/>
<path d="M590.0,160.0 C592.0,162.7 600.3,170.7 602.0,176.0 C603.7,181.3 602.7,188.0 600.0,192.0 C597.3,196.0 591.0,198.2 586.0,200.0 C581.0,201.8 572.7,202.5 570.0,203.0" fill="none" stroke="#0c5c5c" stroke-width="9.4" stroke-linecap="round" opacity="1"/>
<path d="M590.0,160.0 C592.0,162.7 600.3,170.7 602.0,176.0 C603.7,181.3 602.7,188.0 600.0,192.0 C597.3,196.0 591.0,198.2 586.0,200.0 C581.0,201.8 572.7,202.5 570.0,203.0" fill="none" stroke="#1d8585" stroke-width="8" stroke-linecap="round" opacity="1"/>
<path d="M535,48 C538,36 548,30 560,31 C566,32 570,36 570,40 L570,58 C566,66 552,68 542,64 C537,62 535,58 535,48 Z" fill="#1d8585" stroke="#0c5c5c" stroke-width="1.1"/>
<path d="M537,50 C540,40 548,35 556,36 C550,42 546,50 544,60 C539,58 537,55 537,50 Z" fill="#156d6d" opacity="0.7"/>
<path d="M549,70 C556,63 574,62 588,72 L591,83 C588,92 575,95 560,94 C552,92 549,88 549,80 Z" fill="#1d8585" stroke="#0c5c5c" stroke-width="1.1"/>
<path d="M551,72 C560,66 576,66 586,74 C576,76 562,77 551,80 Z" fill="#156d6d" opacity="0.7"/>
<path d="M546,110 C556,102 580,101 593,110 L595,124 C590,133 572,135 558,133 C549,131 546,126 546,118 Z" fill="#1d8585" stroke="#0c5c5c" stroke-width="1.1"/>
<path d="M548,111 C558,105 578,104 591,112 C578,114 562,115 548,119 Z" fill="#156d6d" opacity="0.7"/>
<path d="M550,146 C560,138 584,138 596,148 L597,162 C592,172 576,176 562,174 C553,172 550,166 550,156 Z" fill="#1d8585" stroke="#0c5c5c" stroke-width="1.1"/>
<path d="M552,147 C562,141 582,141 594,150 C582,152 566,153 552,157 Z" fill="#156d6d" opacity="0.7"/>
<path d="M458.0,77.0 C459.3,75.5 462.8,70.0 466.0,68.0 C469.2,66.0 473.0,65.2 477.0,64.7 C481.0,64.2 486.7,64.2 490.0,65.0 C493.3,65.8 494.7,66.8 497.0,69.3 C499.3,71.8 502.2,77.0 504.0,80.0 C505.8,83.0 505.7,85.0 508.0,87.0 C510.3,89.0 514.3,90.8 518.0,92.0 C521.7,93.2 528.0,93.7 530.0,94.0" fill="none" stroke="#0c5c5c" stroke-width="4.199999999999999" stroke-linecap="round" opacity="1"/>
<path d="M458.0,77.0 C459.3,75.5 462.8,70.0 466.0,68.0 C469.2,66.0 473.0,65.2 477.0,64.7 C481.0,64.2 486.7,64.2 490.0,65.0 C493.3,65.8 494.7,66.8 497.0,69.3 C499.3,71.8 502.2,77.0 504.0,80.0 C505.8,83.0 505.7,85.0 508.0,87.0 C510.3,89.0 514.3,90.8 518.0,92.0 C521.7,93.2 528.0,93.7 530.0,94.0" fill="none" stroke="#1d8585" stroke-width="2.8" stroke-linecap="round" opacity="1"/>
<ellipse cx="476" cy="100" rx="25" ry="15" fill="none" stroke="#0c5c5c" stroke-width="3.9000000000000004" transform="rotate(-12 476 100)"/>
<ellipse cx="476" cy="100" rx="25" ry="15" fill="none" stroke="#1d8585" stroke-width="2.6" transform="rotate(-12 476 100)"/>
<ellipse cx="473" cy="124" rx="25" ry="15" fill="none" stroke="#0c5c5c" stroke-width="3.9000000000000004" transform="rotate(-12 473 124)"/>
<ellipse cx="473" cy="124" rx="25" ry="15" fill="none" stroke="#1d8585" stroke-width="2.6" transform="rotate(-12 473 124)"/>
<ellipse cx="478" cy="91" rx="24" ry="9.5" fill="#1d8585" stroke="#0c5c5c" stroke-width="1.1" transform="rotate(-8 478 91)"/>
<ellipse cx="475" cy="116" rx="24" ry="9.5" fill="#1d8585" stroke="#0c5c5c" stroke-width="1.1" transform="rotate(-8 475 116)"/>
<ellipse cx="470" cy="144" rx="24" ry="14" fill="#1d8585" stroke="#0c5c5c" stroke-width="1.1" transform="rotate(-8 470 144)"/>
<ellipse cx="472" cy="138" rx="16" ry="5" fill="#238d8d" transform="rotate(-8 472 138)"/>
<ellipse cx="466" cy="166" rx="24" ry="21" fill="none" stroke="#0c5c5c" stroke-width="4.1" transform="rotate(-12 466 166)"/>
<ellipse cx="466" cy="166" rx="24" ry="21" fill="none" stroke="#1d8585" stroke-width="2.8" transform="rotate(-12 466 166)"/>
<path d="M496.0,70.0 C497.7,69.0 502.0,64.0 506.0,64.0 C510.0,64.0 516.3,66.7 520.0,70.0 C523.7,73.3 524.7,80.3 528.0,84.0 C531.3,87.7 536.0,90.7 540.0,92.0 C544.0,93.3 549.3,93.0 552.0,92.0 C554.7,91.0 555.3,87.0 556.0,86.0" fill="none" stroke="#1d8585" stroke-width="2.8" stroke-linecap="round" stroke-linejoin="round" opacity="1.0"/>
<path d="M486.0,184.0 C488.3,184.0 495.7,183.0 500.0,184.0 C504.3,185.0 508.7,188.0 512.0,190.0 C515.3,192.0 517.0,196.0 520.0,196.0 C523.0,196.0 526.7,192.2 530.0,190.0 C533.3,187.8 536.3,184.3 540.0,183.0 C543.7,181.7 548.3,180.8 552.0,182.0 C555.7,183.2 558.8,186.9 562.0,190.0 C565.2,193.1 569.5,198.8 571.0,200.5" fill="none" stroke="#1d8585" stroke-width="3.0" stroke-linecap="round" stroke-linejoin="round" opacity="1.0"/>
<path d="M455.9,252.0 C457.4,249.2 461.2,239.9 465.2,234.9 C469.2,229.9 474.2,224.8 480.0,222.0 C485.8,219.2 494.7,218.9 500.0,218.0 C505.3,217.1 508.5,218.3 511.8,216.3 C515.1,214.3 518.3,209.4 520.0,206.0 C521.7,202.6 521.7,197.7 522.0,196.0" fill="none" stroke="#1d8585" stroke-width="2.8" stroke-linecap="round" stroke-linejoin="round" opacity="1.0"/>
<path d="M495.0,195.0 C496.7,195.8 502.5,197.5 505.0,200.0 C507.5,202.5 511.2,207.7 510.0,210.0 C508.8,212.3 501.0,214.7 498.0,214.0 C495.0,213.3 493.0,207.3 492.0,206.0" fill="none" stroke="#1d8585" stroke-width="2.8" stroke-linecap="round" stroke-linejoin="round" opacity="1.0"/>
<path d="M512.0,143.0 L518.0,138.0 L526.0,140.0 L529.0,148.0 L524.0,154.0 L516.0,152.0 L512.0,143.0" fill="none" stroke="#1d8585" stroke-width="2.6" stroke-linecap="round" stroke-linejoin="round" opacity="1.0"/>
<path d="M529.0,148.0 L537.0,149.0" fill="none" stroke="#e24a55" stroke-width="2.6" stroke-linecap="round" stroke-linejoin="round" opacity="1.0"/>
<path d="M500.0,141.0 L512.0,143.0" fill="none" stroke="#1d8585" stroke-width="2.6" stroke-linecap="round" stroke-linejoin="round" opacity="1.0"/>
<path d="M483.0,104.0 L488.0,97.0 L497.0,97.0 L502.0,104.0 L497.0,111.0 L488.0,111.0 L483.0,104.0" fill="none" stroke="#1d8585" stroke-width="2.6" stroke-linecap="round" stroke-linejoin="round" opacity="1.0"/>
<path d="M502.0,104.0 L508.0,98.0 L512.0,90.0" fill="none" stroke="#1d8585" stroke-width="2.6" stroke-linecap="round" stroke-linejoin="round" opacity="1.0"/>
<path d="M488.0,111.0 L481.0,119.0 L474.0,134.0 L470.0,146.0" fill="none" stroke="#1d8585" stroke-width="2.6" stroke-linecap="round" stroke-linejoin="round" opacity="1.0"/>
<path d="M508.0,98.0 L514.0,95.0" fill="none" stroke="#e24a55" stroke-width="2.6" stroke-linecap="round" stroke-linejoin="round" opacity="1.0"/>
<path d="M478.0,118.0 L480.0,125.0" fill="none" stroke="#e24a55" stroke-width="2.4" stroke-linecap="round" stroke-linejoin="round" opacity="1.0"/>
<path d="M470.0,130.0 L476.0,136.0" fill="none" stroke="#3535c8" stroke-width="2.4" stroke-linecap="round" stroke-linejoin="round" opacity="1.0"/>
<path d="M476.0,136.0 L480.0,140.0" fill="none" stroke="#e24a55" stroke-width="2.4" stroke-linecap="round" stroke-linejoin="round" opacity="1.0"/>
<path d="M560.0,105.0 L562.0,112.0" fill="none" stroke="#e24a55" stroke-width="2.6" stroke-linecap="round" stroke-linejoin="round" opacity="1.0"/>
<path d="M548.0,130.0 L552.0,140.0 L560.0,144.0" fill="none" stroke="#1d8585" stroke-width="2.6" stroke-linecap="round" stroke-linejoin="round" opacity="1.0"/>
<path d="M515.0,196.0 L520.0,200.0" fill="none" stroke="#e24a55" stroke-width="2.6" stroke-linecap="round" stroke-linejoin="round" opacity="1.0"/>
<path d="M520.0,200.0 L523.0,196.0" fill="none" stroke="#3535c8" stroke-width="2.6" stroke-linecap="round" stroke-linejoin="round" opacity="1.0"/>
<path d="M540.0,183.0 L546.0,194.0 L558.0,192.0" fill="none" stroke="#1d8585" stroke-width="2.6" stroke-linecap="round" stroke-linejoin="round" opacity="1.0"/>
<path d="M480.0,180.0 L486.0,184.0" fill="none" stroke="#3535c8" stroke-width="2.6" stroke-linecap="round" stroke-linejoin="round" opacity="1.0"/>
<text x="527.5" y="124.5" font-size="7.6" fill="#3a9090" text-anchor="start">V30</text>
<text x="512" y="174.5" font-size="7.6" fill="#2a8484" text-anchor="start">Y60</text>
<text x="483.5" y="200.5" font-size="7.6" fill="#2a8484" text-anchor="start">G64</text>
<text x="537.5" y="208.5" font-size="7.6" fill="#2a8484" text-anchor="start">I66</text>
</g>
<rect x="401.5" y="25" width="235.5" height="227.8" fill="none" stroke="#000" stroke-width="2"/>
<line x1="57.60" y1="292.50" x2="57.60" y2="405.90" stroke="#7a7a7a" stroke-width="1.0"/>
<line x1="57.10" y1="405.40" x2="223.70" y2="405.40" stroke="#7a7a7a" stroke-width="1.0"/>
<line x1="55.10" y1="292.50" x2="57.60" y2="292.50" stroke="#7a7a7a" stroke-width="1.0"/>
<line x1="54.10" y1="300.32" x2="57.60" y2="300.32" stroke="#7a7a7a" stroke-width="1.0"/>
<line x1="55.10" y1="308.14" x2="57.60" y2="308.14" stroke="#7a7a7a" stroke-width="1.0"/>
<line x1="55.10" y1="315.96" x2="57.60" y2="315.96" stroke="#7a7a7a" stroke-width="1.0"/>
<line x1="55.10" y1="323.78" x2="57.60" y2="323.78" stroke="#7a7a7a" stroke-width="1.0"/>
<line x1="55.10" y1="331.60" x2="57.60" y2="331.60" stroke="#7a7a7a" stroke-width="1.0"/>
<line x1="55.10" y1="339.42" x2="57.60" y2="339.42" stroke="#7a7a7a" stroke-width="1.0"/>
<line x1="55.10" y1="347.24" x2="57.60" y2="347.24" stroke="#7a7a7a" stroke-width="1.0"/>
<line x1="55.10" y1="355.06" x2="57.60" y2="355.06" stroke="#7a7a7a" stroke-width="1.0"/>
<line x1="55.10" y1="362.88" x2="57.60" y2="362.88" stroke="#7a7a7a" stroke-width="1.0"/>
<line x1="55.10" y1="370.70" x2="57.60" y2="370.70" stroke="#7a7a7a" stroke-width="1.0"/>
<line x1="55.10" y1="378.52" x2="57.60" y2="378.52" stroke="#7a7a7a" stroke-width="1.0"/>
<line x1="55.10" y1="386.34" x2="57.60" y2="386.34" stroke="#7a7a7a" stroke-width="1.0"/>
<line x1="54.10" y1="394.16" x2="57.60" y2="394.16" stroke="#7a7a7a" stroke-width="1.0"/>
<line x1="55.10" y1="401.98" x2="57.60" y2="401.98" stroke="#7a7a7a" stroke-width="1.0"/>
<line x1="57.60" y1="405.40" x2="57.60" y2="409.40" stroke="#7a7a7a" stroke-width="1.0"/>
<line x1="65.41" y1="405.40" x2="65.41" y2="407.90" stroke="#7a7a7a" stroke-width="1.0"/>
<line x1="73.21" y1="405.40" x2="73.21" y2="409.40" stroke="#7a7a7a" stroke-width="1.0"/>
<line x1="81.02" y1="405.40" x2="81.02" y2="407.90" stroke="#7a7a7a" stroke-width="1.0"/>
<line x1="88.82" y1="405.40" x2="88.82" y2="409.40" stroke="#7a7a7a" stroke-width="1.0"/>
<line x1="96.62" y1="405.40" x2="96.62" y2="407.90" stroke="#7a7a7a" stroke-width="1.0"/>
<line x1="104.43" y1="405.40" x2="104.43" y2="409.40" stroke="#7a7a7a" stroke-width="1.0"/>
<line x1="112.23" y1="405.40" x2="112.23" y2="407.90" stroke="#7a7a7a" stroke-width="1.0"/>
<line x1="120.04" y1="405.40" x2="120.04" y2="409.40" stroke="#7a7a7a" stroke-width="1.0"/>
<line x1="127.84" y1="405.40" x2="127.84" y2="407.90" stroke="#7a7a7a" stroke-width="1.0"/>
<line x1="135.65" y1="405.40" x2="135.65" y2="409.40" stroke="#7a7a7a" stroke-width="1.0"/>
<line x1="143.45" y1="405.40" x2="143.45" y2="407.90" stroke="#7a7a7a" stroke-width="1.0"/>
<line x1="151.26" y1="405.40" x2="151.26" y2="409.40" stroke="#7a7a7a" stroke-width="1.0"/>
<line x1="159.06" y1="405.40" x2="159.06" y2="407.90" stroke="#7a7a7a" stroke-width="1.0"/>
<line x1="166.87" y1="405.40" x2="166.87" y2="409.40" stroke="#7a7a7a" stroke-width="1.0"/>
<line x1="174.67" y1="405.40" x2="174.67" y2="407.90" stroke="#7a7a7a" stroke-width="1.0"/>
<line x1="182.48" y1="405.40" x2="182.48" y2="409.40" stroke="#7a7a7a" stroke-width="1.0"/>
<line x1="190.28" y1="405.40" x2="190.28" y2="407.90" stroke="#7a7a7a" stroke-width="1.0"/>
<line x1="198.09" y1="405.40" x2="198.09" y2="409.40" stroke="#7a7a7a" stroke-width="1.0"/>
<line x1="205.89" y1="405.40" x2="205.89" y2="407.90" stroke="#7a7a7a" stroke-width="1.0"/>
<line x1="213.70" y1="405.40" x2="213.70" y2="409.40" stroke="#7a7a7a" stroke-width="1.0"/>
<line x1="221.50" y1="405.40" x2="221.50" y2="407.90" stroke="#7a7a7a" stroke-width="1.0"/>
<text x="53.60" y="305.05" font-size="11.6" text-anchor="end" fill="#1a1a1a" stroke="#1a1a1a" stroke-width="0.18" >0</text>
<text x="53.60" y="399.75" font-size="11.6" text-anchor="end" fill="#1a1a1a" stroke="#1a1a1a" stroke-width="0.18" >-6</text>
<text x="57.60" y="419.50" font-size="11.9" text-anchor="middle" fill="#1a1a1a" stroke="#1a1a1a" stroke-width="0.18" >0</text>
<text x="136.15" y="419.50" font-size="11.9" text-anchor="middle" fill="#1a1a1a" stroke="#1a1a1a" stroke-width="0.18" >25</text>
<text x="214.20" y="419.50" font-size="11.9" text-anchor="middle" fill="#1a1a1a" stroke="#1a1a1a" stroke-width="0.18" >50</text>
<text x="140.80" y="287.40" font-size="13.3" text-anchor="middle" fill="#1a1a1a" stroke="#1a1a1a" stroke-width="0.18" >G64V</text>
<text x="141.30" y="432.30" font-size="11.4" text-anchor="middle" fill="#1a1a1a" stroke="#1a1a1a" stroke-width="0.18" >Time (min)</text>
<text x="27.00" y="343.70" font-size="11.6" text-anchor="middle" fill="#1a1a1a" stroke="#1a1a1a" stroke-width="0.18" transform="rotate(-90 27.00 343.70)">DP (&#181;W)</text>
<path d="M60.35,299.90 L60.85,313.50 L61.25,313.00 L61.65,303.98 L62.10,301.26 L62.70,300.31Z M68.45,299.90 L68.95,403.50 L69.35,403.00 L69.75,330.98 L70.20,310.26 L70.80,303.01Z M70.75,299.90 L71.25,318.70 L71.65,318.20 L72.05,305.54 L72.50,301.78 L73.10,300.46Z M76.25,299.90 L76.75,389.20 L77.15,388.70 L77.55,326.69 L78.00,308.83 L78.60,302.58Z M83.85,299.90 L84.35,378.70 L84.75,378.20 L85.15,323.54 L85.60,307.78 L86.20,302.26Z M91.65,299.90 L92.15,371.60 L92.55,371.10 L92.95,321.41 L93.40,307.07 L94.00,302.05Z M99.45,299.90 L99.95,367.70 L100.35,367.20 L100.75,320.24 L101.20,306.68 L101.80,301.93Z M107.35,299.90 L107.85,359.80 L108.25,359.30 L108.65,317.87 L109.10,305.89 L109.70,301.70Z M114.85,299.90 L115.35,351.30 L115.75,350.80 L116.15,315.32 L116.60,305.04 L117.20,301.44Z M122.55,299.90 L123.05,343.50 L123.45,343.00 L123.85,312.98 L124.30,304.26 L124.90,301.21Z M130.15,299.90 L130.65,335.70 L131.05,335.20 L131.45,310.64 L131.90,303.48 L132.50,300.97Z M137.85,299.90 L138.35,329.70 L138.75,329.20 L139.15,308.84 L139.60,302.88 L140.20,300.79Z M145.55,299.90 L146.05,325.50 L146.45,325.00 L146.85,307.58 L147.30,302.46 L147.90,300.67Z M153.65,299.90 L154.15,323.80 L154.55,323.30 L154.95,307.07 L155.40,302.29 L156.00,300.62Z M161.25,299.90 L161.75,320.90 L162.15,320.40 L162.55,306.20 L163.00,302.00 L163.60,300.53Z M168.95,299.90 L169.45,319.00 L169.85,318.50 L170.25,305.63 L170.70,301.81 L171.30,300.47Z M176.65,299.90 L177.15,318.60 L177.55,318.10 L177.95,305.51 L178.40,301.77 L179.00,300.46Z M184.35,299.90 L184.85,318.30 L185.25,317.80 L185.65,305.42 L186.10,301.74 L186.70,300.45Z M192.05,299.90 L192.55,317.50 L192.95,317.00 L193.35,305.18 L193.80,301.66 L194.40,300.43Z M199.75,299.90 L200.25,317.00 L200.65,316.50 L201.05,305.03 L201.50,301.61 L202.10,300.41Z M207.45,299.90 L207.95,315.70 L208.35,315.20 L208.75,304.64 L209.20,301.48 L209.80,300.37Z" fill="#b4c3d8" stroke="none"/>
<path d="M58.10,299.90 L60.35,299.90 L60.85,313.50 L61.25,313.00 L61.65,303.98 L62.10,301.26 L62.70,300.31 Q63.20,299.40 64.30,299.90 L68.45,299.90 L68.95,403.50 L69.35,403.00 L69.75,330.98 L70.20,310.26 L70.80,303.01 Q71.30,299.40 72.40,299.90 L70.75,299.90 L71.25,318.70 L71.65,318.20 L72.05,305.54 L72.50,301.78 L73.10,300.46 Q73.60,299.40 74.70,299.90 L76.25,299.90 L76.75,389.20 L77.15,388.70 L77.55,326.69 L78.00,308.83 L78.60,302.58 Q79.10,299.40 80.20,299.90 L83.85,299.90 L84.35,378.70 L84.75,378.20 L85.15,323.54 L85.60,307.78 L86.20,302.26 Q86.70,299.40 87.80,299.90 L91.65,299.90 L92.15,371.60 L92.55,371.10 L92.95,321.41 L93.40,307.07 L94.00,302.05 Q94.50,299.40 95.60,299.90 L99.45,299.90 L99.95,367.70 L100.35,367.20 L100.75,320.24 L101.20,306.68 L101.80,301.93 Q102.30,299.40 103.40,299.90 L107.35,299.90 L107.85,359.80 L108.25,359.30 L108.65,317.87 L109.10,305.89 L109.70,301.70 Q110.20,299.40 111.30,299.90 L114.85,299.90 L115.35,351.30 L115.75,350.80 L116.15,315.32 L116.60,305.04 L117.20,301.44 Q117.70,299.40 118.80,299.90 L122.55,299.90 L123.05,343.50 L123.45,343.00 L123.85,312.98 L124.30,304.26 L124.90,301.21 Q125.40,299.40 126.50,299.90 L130.15,299.90 L130.65,335.70 L131.05,335.20 L131.45,310.64 L131.90,303.48 L132.50,300.97 Q133.00,299.40 134.10,299.90 L137.85,299.90 L138.35,329.70 L138.75,329.20 L139.15,308.84 L139.60,302.88 L140.20,300.79 Q140.70,299.40 141.80,299.90 L145.55,299.90 L146.05,325.50 L146.45,325.00 L146.85,307.58 L147.30,302.46 L147.90,300.67 Q148.40,299.40 149.50,299.90 L153.65,299.90 L154.15,323.80 L154.55,323.30 L154.95,307.07 L155.40,302.29 L156.00,300.62 Q156.50,299.40 157.60,299.90 L161.25,299.90 L161.75,320.90 L162.15,320.40 L162.55,306.20 L163.00,302.00 L163.60,300.53 Q164.10,299.40 165.20,299.90 L168.95,299.90 L169.45,319.00 L169.85,318.50 L170.25,305.63 L170.70,301.81 L171.30,300.47 Q171.80,299.40 172.90,299.90 L176.65,299.90 L177.15,318.60 L177.55,318.10 L177.95,305.51 L178.40,301.77 L179.00,300.46 Q179.50,299.40 180.60,299.90 L184.35,299.90 L184.85,318.30 L185.25,317.80 L185.65,305.42 L186.10,301.74 L186.70,300.45 Q187.20,299.40 188.30,299.90 L192.05,299.90 L192.55,317.50 L192.95,317.00 L193.35,305.18 L193.80,301.66 L194.40,300.43 Q194.90,299.40 196.00,299.90 L199.75,299.90 L200.25,317.00 L200.65,316.50 L201.05,305.03 L201.50,301.61 L202.10,300.41 Q202.60,299.40 203.70,299.90 L207.45,299.90 L207.95,315.70 L208.35,315.20 L208.75,304.64 L209.20,301.48 L209.80,300.37 Q210.30,299.40 211.40,299.90 L215.60,299.90" fill="none" stroke="#63748f" stroke-width="0.85" stroke-linejoin="round"/>
<line x1="263.30" y1="293.00" x2="263.30" y2="406.10" stroke="#7a7a7a" stroke-width="1.0"/>
<line x1="262.80" y1="405.60" x2="430.00" y2="405.60" stroke="#7a7a7a" stroke-width="1.0"/>
<line x1="260.80" y1="293.00" x2="263.30" y2="293.00" stroke="#7a7a7a" stroke-width="1.0"/>
<line x1="260.80" y1="298.05" x2="263.30" y2="298.05" stroke="#7a7a7a" stroke-width="1.0"/>
<line x1="259.80" y1="303.10" x2="263.30" y2="303.10" stroke="#7a7a7a" stroke-width="1.0"/>
<line x1="260.80" y1="308.15" x2="263.30" y2="308.15" stroke="#7a7a7a" stroke-width="1.0"/>
<line x1="260.80" y1="313.20" x2="263.30" y2="313.20" stroke="#7a7a7a" stroke-width="1.0"/>
<line x1="260.80" y1="318.25" x2="263.30" y2="318.25" stroke="#7a7a7a" stroke-width="1.0"/>
<line x1="260.80" y1="323.30" x2="263.30" y2="323.30" stroke="#7a7a7a" stroke-width="1.0"/>
<line x1="260.80" y1="328.35" x2="263.30" y2="328.35" stroke="#7a7a7a" stroke-width="1.0"/>
<line x1="260.80" y1="333.40" x2="263.30" y2="333.40" stroke="#7a7a7a" stroke-width="1.0"/>
<line x1="260.80" y1="338.45" x2="263.30" y2="338.45" stroke="#7a7a7a" stroke-width="1.0"/>
<line x1="260.80" y1="343.50" x2="263.30" y2="343.50" stroke="#7a7a7a" stroke-width="1.0"/>
<line x1="260.80" y1="348.55" x2="263.30" y2="348.55" stroke="#7a7a7a" stroke-width="1.0"/>
<line x1="260.80" y1="353.60" x2="263.30" y2="353.60" stroke="#7a7a7a" stroke-width="1.0"/>
<line x1="260.80" y1="358.65" x2="263.30" y2="358.65" stroke="#7a7a7a" stroke-width="1.0"/>
<line x1="260.80" y1="363.70" x2="263.30" y2="363.70" stroke="#7a7a7a" stroke-width="1.0"/>
<line x1="260.80" y1="368.75" x2="263.30" y2="368.75" stroke="#7a7a7a" stroke-width="1.0"/>
<line x1="260.80" y1="373.80" x2="263.30" y2="373.80" stroke="#7a7a7a" stroke-width="1.0"/>
<line x1="260.80" y1="378.85" x2="263.30" y2="378.85" stroke="#7a7a7a" stroke-width="1.0"/>
<line x1="260.80" y1="383.90" x2="263.30" y2="383.90" stroke="#7a7a7a" stroke-width="1.0"/>
<line x1="260.80" y1="388.95" x2="263.30" y2="388.95" stroke="#7a7a7a" stroke-width="1.0"/>
<line x1="259.80" y1="394.00" x2="263.30" y2="394.00" stroke="#7a7a7a" stroke-width="1.0"/>
<line x1="260.80" y1="399.05" x2="263.30" y2="399.05" stroke="#7a7a7a" stroke-width="1.0"/>
<line x1="260.80" y1="404.10" x2="263.30" y2="404.10" stroke="#7a7a7a" stroke-width="1.0"/>
<line x1="263.30" y1="405.60" x2="263.30" y2="409.60" stroke="#7a7a7a" stroke-width="1.0"/>
<line x1="271.04" y1="405.60" x2="271.04" y2="408.10" stroke="#7a7a7a" stroke-width="1.0"/>
<line x1="278.77" y1="405.60" x2="278.77" y2="409.60" stroke="#7a7a7a" stroke-width="1.0"/>
<line x1="286.50" y1="405.60" x2="286.50" y2="408.10" stroke="#7a7a7a" stroke-width="1.0"/>
<line x1="294.24" y1="405.60" x2="294.24" y2="409.60" stroke="#7a7a7a" stroke-width="1.0"/>
<line x1="301.98" y1="405.60" x2="301.98" y2="408.10" stroke="#7a7a7a" stroke-width="1.0"/>
<line x1="309.71" y1="405.60" x2="309.71" y2="409.60" stroke="#7a7a7a" stroke-width="1.0"/>
<line x1="317.44" y1="405.60" x2="317.44" y2="408.10" stroke="#7a7a7a" stroke-width="1.0"/>
<line x1="325.18" y1="405.60" x2="325.18" y2="409.60" stroke="#7a7a7a" stroke-width="1.0"/>
<line x1="332.92" y1="405.60" x2="332.92" y2="408.10" stroke="#7a7a7a" stroke-width="1.0"/>
<line x1="340.65" y1="405.60" x2="340.65" y2="409.60" stroke="#7a7a7a" stroke-width="1.0"/>
<line x1="348.38" y1="405.60" x2="348.38" y2="408.10" stroke="#7a7a7a" stroke-width="1.0"/>
<line x1="356.12" y1="405.60" x2="356.12" y2="409.60" stroke="#7a7a7a" stroke-width="1.0"/>
<line x1="363.86" y1="405.60" x2="363.86" y2="408.10" stroke="#7a7a7a" stroke-width="1.0"/>
<line x1="371.59" y1="405.60" x2="371.59" y2="409.60" stroke="#7a7a7a" stroke-width="1.0"/>
<line x1="379.32" y1="405.60" x2="379.32" y2="408.10" stroke="#7a7a7a" stroke-width="1.0"/>
<line x1="387.06" y1="405.60" x2="387.06" y2="409.60" stroke="#7a7a7a" stroke-width="1.0"/>
<line x1="394.80" y1="405.60" x2="394.80" y2="408.10" stroke="#7a7a7a" stroke-width="1.0"/>
<line x1="402.53" y1="405.60" x2="402.53" y2="409.60" stroke="#7a7a7a" stroke-width="1.0"/>
<line x1="410.26" y1="405.60" x2="410.26" y2="408.10" stroke="#7a7a7a" stroke-width="1.0"/>
<line x1="418.00" y1="405.60" x2="418.00" y2="409.60" stroke="#7a7a7a" stroke-width="1.0"/>
<line x1="425.74" y1="405.60" x2="425.74" y2="408.10" stroke="#7a7a7a" stroke-width="1.0"/>
<text x="259.30" y="309.55" font-size="11.6" text-anchor="end" fill="#1a1a1a" stroke="#1a1a1a" stroke-width="0.18" >0</text>
<text x="259.30" y="400.15" font-size="11.6" text-anchor="end" fill="#1a1a1a" stroke="#1a1a1a" stroke-width="0.18" >-5</text>
<text x="263.30" y="419.70" font-size="11.9" text-anchor="middle" fill="#1a1a1a" stroke="#1a1a1a" stroke-width="0.18" >0</text>
<text x="341.15" y="419.70" font-size="11.9" text-anchor="middle" fill="#1a1a1a" stroke="#1a1a1a" stroke-width="0.18" >25</text>
<text x="418.50" y="419.70" font-size="11.9" text-anchor="middle" fill="#1a1a1a" stroke="#1a1a1a" stroke-width="0.18" >50</text>
<text x="343.50" y="287.40" font-size="13.3" text-anchor="middle" fill="#1a1a1a" stroke="#1a1a1a" stroke-width="0.18" >G72C</text>
<text x="348.90" y="432.30" font-size="11.4" text-anchor="middle" fill="#1a1a1a" stroke="#1a1a1a" stroke-width="0.18" >Time (min)</text>
<text x="232.70" y="345.00" font-size="11.6" text-anchor="middle" fill="#1a1a1a" stroke="#1a1a1a" stroke-width="0.18" transform="rotate(-90 232.70 345.00)">DP (&#181;W)</text>
<path d="M266.55,303.20 L267.05,317.70 L267.45,317.20 L267.85,307.55 L268.30,304.65 L268.90,303.63Z M274.45,303.20 L274.95,403.00 L275.35,402.50 L275.75,333.14 L276.20,313.18 L276.80,306.19Z M282.45,303.20 L282.95,403.50 L283.35,403.00 L283.75,333.29 L284.20,313.23 L284.80,306.21Z M289.85,303.20 L290.35,400.90 L290.75,400.40 L291.15,332.51 L291.60,312.97 L292.20,306.13Z M297.75,303.20 L298.25,392.40 L298.65,391.90 L299.05,329.96 L299.50,312.12 L300.10,305.88Z M305.65,303.20 L306.15,382.40 L306.55,381.90 L306.95,326.96 L307.40,311.12 L308.00,305.58Z M313.55,303.20 L314.05,368.70 L314.45,368.20 L314.85,322.85 L315.30,309.75 L315.90,305.16Z M320.95,303.20 L321.45,359.20 L321.85,358.70 L322.25,320.00 L322.70,308.80 L323.30,304.88Z M328.65,303.20 L329.15,350.20 L329.55,349.70 L329.95,317.30 L330.40,307.90 L331.00,304.61Z M336.55,303.20 L337.05,343.30 L337.45,342.80 L337.85,315.23 L338.30,307.21 L338.90,304.40Z M343.95,303.20 L344.45,338.80 L344.85,338.30 L345.25,313.88 L345.70,306.76 L346.30,304.27Z M351.85,303.20 L352.35,335.40 L352.75,334.90 L353.15,312.86 L353.60,306.42 L354.20,304.17Z M359.75,303.20 L360.25,331.70 L360.65,331.20 L361.05,311.75 L361.50,306.05 L362.10,304.06Z M367.15,303.20 L367.65,330.10 L368.05,329.60 L368.45,311.27 L368.90,305.89 L369.50,304.01Z M375.05,303.20 L375.55,327.00 L375.95,326.50 L376.35,310.34 L376.80,305.58 L377.40,303.91Z M382.75,303.20 L383.25,327.50 L383.65,327.00 L384.05,310.49 L384.50,305.63 L385.10,303.93Z M390.35,303.20 L390.85,326.40 L391.25,325.90 L391.65,310.16 L392.10,305.52 L392.70,303.90Z M398.05,303.20 L398.55,325.60 L398.95,325.10 L399.35,309.92 L399.80,305.44 L400.40,303.87Z M405.95,303.20 L406.45,325.60 L406.85,325.10 L407.25,309.92 L407.70,305.44 L408.30,303.87Z M413.35,303.20 L413.85,325.60 L414.25,325.10 L414.65,309.92 L415.10,305.44 L415.70,303.87Z" fill="#b4c3d8" stroke="none"/>
<path d="M263.80,303.20 L266.55,303.20 L267.05,317.70 L267.45,317.20 L267.85,307.55 L268.30,304.65 L268.90,303.63 Q269.40,302.70 270.50,303.20 L274.45,303.20 L274.95,403.00 L275.35,402.50 L275.75,333.14 L276.20,313.18 L276.80,306.19 Q277.30,302.70 278.40,303.20 L282.45,303.20 L282.95,403.50 L283.35,403.00 L283.75,333.29 L284.20,313.23 L284.80,306.21 Q285.30,302.70 286.40,303.20 L289.85,303.20 L290.35,400.90 L290.75,400.40 L291.15,332.51 L291.60,312.97 L292.20,306.13 Q292.70,302.70 293.80,303.20 L297.75,303.20 L298.25,392.40 L298.65,391.90 L299.05,329.96 L299.50,312.12 L300.10,305.88 Q300.60,302.70 301.70,303.20 L305.65,303.20 L306.15,382.40 L306.55,381.90 L306.95,326.96 L307.40,311.12 L308.00,305.58 Q308.50,302.70 309.60,303.20 L313.55,303.20 L314.05,368.70 L314.45,368.20 L314.85,322.85 L315.30,309.75 L315.90,305.16 Q316.40,302.70 317.50,303.20 L320.95,303.20 L321.45,359.20 L321.85,358.70 L322.25,320.00 L322.70,308.80 L323.30,304.88 Q323.80,302.70 324.90,303.20 L328.65,303.20 L329.15,350.20 L329.55,349.70 L329.95,317.30 L330.40,307.90 L331.00,304.61 Q331.50,302.70 332.60,303.20 L336.55,303.20 L337.05,343.30 L337.45,342.80 L337.85,315.23 L338.30,307.21 L338.90,304.40 Q339.40,302.70 340.50,303.20 L343.95,303.20 L344.45,338.80 L344.85,338.30 L345.25,313.88 L345.70,306.76 L346.30,304.27 Q346.80,302.70 347.90,303.20 L351.85,303.20 L352.35,335.40 L352.75,334.90 L353.15,312.86 L353.60,306.42 L354.20,304.17 Q354.70,302.70 355.80,303.20 L359.75,303.20 L360.25,331.70 L360.65,331.20 L361.05,311.75 L361.50,306.05 L362.10,304.06 Q362.60,302.70 363.70,303.20 L367.15,303.20 L367.65,330.10 L368.05,329.60 L368.45,311.27 L368.90,305.89 L369.50,304.01 Q370.00,302.70 371.10,303.20 L375.05,303.20 L375.55,327.00 L375.95,326.50 L376.35,310.34 L376.80,305.58 L377.40,303.91 Q377.90,302.70 379.00,303.20 L382.75,303.20 L383.25,327.50 L383.65,327.00 L384.05,310.49 L384.50,305.63 L385.10,303.93 Q385.60,302.70 386.70,303.20 L390.35,303.20 L390.85,326.40 L391.25,325.90 L391.65,310.16 L392.10,305.52 L392.70,303.90 Q393.20,302.70 394.30,303.20 L398.05,303.20 L398.55,325.60 L398.95,325.10 L399.35,309.92 L399.80,305.44 L400.40,303.87 Q400.90,302.70 402.00,303.20 L405.95,303.20 L406.45,325.60 L406.85,325.10 L407.25,309.92 L407.70,305.44 L408.30,303.87 Q408.80,302.70 409.90,303.20 L413.35,303.20 L413.85,325.60 L414.25,325.10 L414.65,309.92 L415.10,305.44 L415.70,303.87 Q416.20,302.70 417.30,303.20 L421.00,303.20" fill="none" stroke="#63748f" stroke-width="0.85" stroke-linejoin="round"/>
<line x1="472.90" y1="292.70" x2="472.90" y2="405.00" stroke="#7a7a7a" stroke-width="1.0"/>
<line x1="472.40" y1="404.50" x2="639.90" y2="404.50" stroke="#7a7a7a" stroke-width="1.0"/>
<line x1="470.40" y1="293.10" x2="472.90" y2="293.10" stroke="#7a7a7a" stroke-width="1.0"/>
<line x1="469.40" y1="300.34" x2="472.90" y2="300.34" stroke="#7a7a7a" stroke-width="1.0"/>
<line x1="470.40" y1="307.58" x2="472.90" y2="307.58" stroke="#7a7a7a" stroke-width="1.0"/>
<line x1="470.40" y1="314.82" x2="472.90" y2="314.82" stroke="#7a7a7a" stroke-width="1.0"/>
<line x1="470.40" y1="322.06" x2="472.90" y2="322.06" stroke="#7a7a7a" stroke-width="1.0"/>
<line x1="470.40" y1="329.30" x2="472.90" y2="329.30" stroke="#7a7a7a" stroke-width="1.0"/>
<line x1="470.40" y1="336.54" x2="472.90" y2="336.54" stroke="#7a7a7a" stroke-width="1.0"/>
<line x1="470.40" y1="343.78" x2="472.90" y2="343.78" stroke="#7a7a7a" stroke-width="1.0"/>
<line x1="470.40" y1="351.02" x2="472.90" y2="351.02" stroke="#7a7a7a" stroke-width="1.0"/>
<line x1="470.40" y1="358.26" x2="472.90" y2="358.26" stroke="#7a7a7a" stroke-width="1.0"/>
<line x1="470.40" y1="365.50" x2="472.90" y2="365.50" stroke="#7a7a7a" stroke-width="1.0"/>
<line x1="470.40" y1="372.74" x2="472.90" y2="372.74" stroke="#7a7a7a" stroke-width="1.0"/>
<line x1="470.40" y1="379.98" x2="472.90" y2="379.98" stroke="#7a7a7a" stroke-width="1.0"/>
<line x1="470.40" y1="387.22" x2="472.90" y2="387.22" stroke="#7a7a7a" stroke-width="1.0"/>
<line x1="470.40" y1="394.46" x2="472.90" y2="394.46" stroke="#7a7a7a" stroke-width="1.0"/>
<line x1="469.40" y1="401.70" x2="472.90" y2="401.70" stroke="#7a7a7a" stroke-width="1.0"/>
<line x1="472.90" y1="404.50" x2="472.90" y2="408.50" stroke="#7a7a7a" stroke-width="1.0"/>
<line x1="480.65" y1="404.50" x2="480.65" y2="407.00" stroke="#7a7a7a" stroke-width="1.0"/>
<line x1="488.40" y1="404.50" x2="488.40" y2="408.50" stroke="#7a7a7a" stroke-width="1.0"/>
<line x1="496.15" y1="404.50" x2="496.15" y2="407.00" stroke="#7a7a7a" stroke-width="1.0"/>
<line x1="503.90" y1="404.50" x2="503.90" y2="408.50" stroke="#7a7a7a" stroke-width="1.0"/>
<line x1="511.65" y1="404.50" x2="511.65" y2="407.00" stroke="#7a7a7a" stroke-width="1.0"/>
<line x1="519.40" y1="404.50" x2="519.40" y2="408.50" stroke="#7a7a7a" stroke-width="1.0"/>
<line x1="527.15" y1="404.50" x2="527.15" y2="407.00" stroke="#7a7a7a" stroke-width="1.0"/>
<line x1="534.90" y1="404.50" x2="534.90" y2="408.50" stroke="#7a7a7a" stroke-width="1.0"/>
<line x1="542.65" y1="404.50" x2="542.65" y2="407.00" stroke="#7a7a7a" stroke-width="1.0"/>
<line x1="550.40" y1="404.50" x2="550.40" y2="408.50" stroke="#7a7a7a" stroke-width="1.0"/>
<line x1="558.15" y1="404.50" x2="558.15" y2="407.00" stroke="#7a7a7a" stroke-width="1.0"/>
<line x1="565.90" y1="404.50" x2="565.90" y2="408.50" stroke="#7a7a7a" stroke-width="1.0"/>
<line x1="573.65" y1="404.50" x2="573.65" y2="407.00" stroke="#7a7a7a" stroke-width="1.0"/>
<line x1="581.40" y1="404.50" x2="581.40" y2="408.50" stroke="#7a7a7a" stroke-width="1.0"/>
<line x1="589.15" y1="404.50" x2="589.15" y2="407.00" stroke="#7a7a7a" stroke-width="1.0"/>
<line x1="596.90" y1="404.50" x2="596.90" y2="408.50" stroke="#7a7a7a" stroke-width="1.0"/>
<line x1="604.65" y1="404.50" x2="604.65" y2="407.00" stroke="#7a7a7a" stroke-width="1.0"/>
<line x1="612.40" y1="404.50" x2="612.40" y2="408.50" stroke="#7a7a7a" stroke-width="1.0"/>
<line x1="620.15" y1="404.50" x2="620.15" y2="407.00" stroke="#7a7a7a" stroke-width="1.0"/>
<line x1="627.90" y1="404.50" x2="627.90" y2="408.50" stroke="#7a7a7a" stroke-width="1.0"/>
<line x1="635.65" y1="404.50" x2="635.65" y2="407.00" stroke="#7a7a7a" stroke-width="1.0"/>
<text x="468.90" y="305.65" font-size="11.6" text-anchor="end" fill="#1a1a1a" stroke="#1a1a1a" stroke-width="0.18" >0</text>
<text x="468.90" y="406.05" font-size="11.6" text-anchor="end" fill="#1a1a1a" stroke="#1a1a1a" stroke-width="0.18" >-3.5</text>
<text x="472.90" y="418.60" font-size="11.9" text-anchor="middle" fill="#1a1a1a" stroke="#1a1a1a" stroke-width="0.18" >0</text>
<text x="550.90" y="418.60" font-size="11.9" text-anchor="middle" fill="#1a1a1a" stroke="#1a1a1a" stroke-width="0.18" >25</text>
<text x="628.40" y="418.60" font-size="11.9" text-anchor="middle" fill="#1a1a1a" stroke="#1a1a1a" stroke-width="0.18" >50</text>
<text x="555.50" y="287.40" font-size="13.3" text-anchor="middle" fill="#1a1a1a" stroke="#1a1a1a" stroke-width="0.18" >G72S</text>
<text x="555.80" y="430.60" font-size="11.4" text-anchor="middle" fill="#1a1a1a" stroke="#1a1a1a" stroke-width="0.18" >Time (min)</text>
<text x="442.30" y="341.00" font-size="11.6" text-anchor="middle" fill="#1a1a1a" stroke="#1a1a1a" stroke-width="0.18" transform="rotate(-90 442.30 341.00)">DP (&#181;W)</text>
<path d="M476.05,300.50 L476.55,314.30 L476.95,313.80 L477.35,304.64 L477.80,301.88 L478.40,300.91Z M483.95,300.50 L484.45,403.00 L484.85,402.50 L485.25,331.25 L485.70,310.75 L486.30,303.57Z M491.85,300.50 L492.35,403.00 L492.75,402.50 L493.15,331.25 L493.60,310.75 L494.20,303.57Z M499.85,300.50 L500.35,400.90 L500.75,400.40 L501.15,330.62 L501.60,310.54 L502.20,303.51Z M503.25,300.50 L503.75,323.80 L504.15,323.30 L504.55,307.49 L505.00,302.83 L505.60,301.20Z M507.75,300.50 L508.25,398.20 L508.65,397.70 L509.05,329.81 L509.50,310.27 L510.10,303.43Z M515.65,300.50 L516.15,384.50 L516.55,384.00 L516.95,325.70 L517.40,308.90 L518.00,303.02Z M523.05,300.50 L523.55,371.30 L523.95,370.80 L524.35,321.74 L524.80,307.58 L525.40,302.62Z M530.95,300.50 L531.45,360.70 L531.85,360.20 L532.25,318.56 L532.70,306.52 L533.30,302.31Z M538.65,300.50 L539.15,350.20 L539.55,349.70 L539.95,315.41 L540.40,305.47 L541.00,301.99Z M546.55,300.50 L547.05,342.30 L547.45,341.80 L547.85,313.04 L548.30,304.68 L548.90,301.75Z M553.95,300.50 L554.45,337.00 L554.85,336.50 L555.25,311.45 L555.70,304.15 L556.30,301.60Z M561.85,300.50 L562.35,332.80 L562.75,332.30 L563.15,310.19 L563.60,303.73 L564.20,301.47Z M569.75,300.50 L570.25,329.60 L570.65,329.10 L571.05,309.23 L571.50,303.41 L572.10,301.37Z M577.15,300.50 L577.65,327.50 L578.05,327.00 L578.45,308.60 L578.90,303.20 L579.50,301.31Z M585.05,300.50 L585.55,325.60 L585.95,325.10 L586.35,308.03 L586.80,303.01 L587.40,301.25Z M592.75,300.50 L593.25,324.80 L593.65,324.30 L594.05,307.79 L594.50,302.93 L595.10,301.23Z M600.65,300.50 L601.15,324.30 L601.55,323.80 L601.95,307.64 L602.40,302.88 L603.00,301.21Z M608.35,300.50 L608.85,323.00 L609.25,322.50 L609.65,307.25 L610.10,302.75 L610.70,301.18Z M616.25,300.50 L616.75,323.00 L617.15,322.50 L617.55,307.25 L618.00,302.75 L618.60,301.18Z M623.85,300.50 L624.35,321.20 L624.75,320.70 L625.15,306.71 L625.60,302.57 L626.20,301.12Z" fill="#b4c3d8" stroke="none"/>
<path d="M473.40,300.50 L476.05,300.50 L476.55,314.30 L476.95,313.80 L477.35,304.64 L477.80,301.88 L478.40,300.91 Q478.90,300.00 480.00,300.50 L483.95,300.50 L484.45,403.00 L484.85,402.50 L485.25,331.25 L485.70,310.75 L486.30,303.57 Q486.80,300.00 487.90,300.50 L491.85,300.50 L492.35,403.00 L492.75,402.50 L493.15,331.25 L493.60,310.75 L494.20,303.57 Q494.70,300.00 495.80,300.50 L499.85,300.50 L500.35,400.90 L500.75,400.40 L501.15,330.62 L501.60,310.54 L502.20,303.51 Q502.70,300.00 503.80,300.50 L503.25,300.50 L503.75,323.80 L504.15,323.30 L504.55,307.49 L505.00,302.83 L505.60,301.20 Q506.10,300.00 507.20,300.50 L507.75,300.50 L508.25,398.20 L508.65,397.70 L509.05,329.81 L509.50,310.27 L510.10,303.43 Q510.60,300.00 511.70,300.50 L515.65,300.50 L516.15,384.50 L516.55,384.00 L516.95,325.70 L517.40,308.90 L518.00,303.02 Q518.50,300.00 519.60,300.50 L523.05,300.50 L523.55,371.30 L523.95,370.80 L524.35,321.74 L524.80,307.58 L525.40,302.62 Q525.90,300.00 527.00,300.50 L530.95,300.50 L531.45,360.70 L531.85,360.20 L532.25,318.56 L532.70,306.52 L533.30,302.31 Q533.80,300.00 534.90,300.50 L538.65,300.50 L539.15,350.20 L539.55,349.70 L539.95,315.41 L540.40,305.47 L541.00,301.99 Q541.50,300.00 542.60,300.50 L546.55,300.50 L547.05,342.30 L547.45,341.80 L547.85,313.04 L548.30,304.68 L548.90,301.75 Q549.40,300.00 550.50,300.50 L553.95,300.50 L554.45,337.00 L554.85,336.50 L555.25,311.45 L555.70,304.15 L556.30,301.60 Q556.80,300.00 557.90,300.50 L561.85,300.50 L562.35,332.80 L562.75,332.30 L563.15,310.19 L563.60,303.73 L564.20,301.47 Q564.70,300.00 565.80,300.50 L569.75,300.50 L570.25,329.60 L570.65,329.10 L571.05,309.23 L571.50,303.41 L572.10,301.37 Q572.60,300.00 573.70,300.50 L577.15,300.50 L577.65,327.50 L578.05,327.00 L578.45,308.60 L578.90,303.20 L579.50,301.31 Q580.00,300.00 581.10,300.50 L585.05,300.50 L585.55,325.60 L585.95,325.10 L586.35,308.03 L586.80,303.01 L587.40,301.25 Q587.90,300.00 589.00,300.50 L592.75,300.50 L593.25,324.80 L593.65,324.30 L594.05,307.79 L594.50,302.93 L595.10,301.23 Q595.60,300.00 596.70,300.50 L600.65,300.50 L601.15,324.30 L601.55,323.80 L601.95,307.64 L602.40,302.88 L603.00,301.21 Q603.50,300.00 604.60,300.50 L608.35,300.50 L608.85,323.00 L609.25,322.50 L609.65,307.25 L610.10,302.75 L610.70,301.18 Q611.20,300.00 612.30,300.50 L616.25,300.50 L616.75,323.00 L617.15,322.50 L617.55,307.25 L618.00,302.75 L618.60,301.18 Q619.10,300.00 620.20,300.50 L623.85,300.50 L624.35,321.20 L624.75,320.70 L625.15,306.71 L625.60,302.57 L626.20,301.12 Q626.70,300.00 627.80,300.50 L631.60,300.50" fill="none" stroke="#63748f" stroke-width="0.85" stroke-linejoin="round"/>
<line x1="59.80" y1="627.40" x2="59.80" y2="741.90" stroke="#7a7a7a" stroke-width="1.0"/>
<line x1="59.30" y1="741.40" x2="226.00" y2="741.40" stroke="#7a7a7a" stroke-width="1.0"/>
<line x1="57.30" y1="627.70" x2="59.80" y2="627.70" stroke="#7a7a7a" stroke-width="1.0"/>
<line x1="56.30" y1="634.95" x2="59.80" y2="634.95" stroke="#7a7a7a" stroke-width="1.0"/>
<line x1="57.30" y1="642.20" x2="59.80" y2="642.20" stroke="#7a7a7a" stroke-width="1.0"/>
<line x1="57.30" y1="649.45" x2="59.80" y2="649.45" stroke="#7a7a7a" stroke-width="1.0"/>
<line x1="57.30" y1="656.70" x2="59.80" y2="656.70" stroke="#7a7a7a" stroke-width="1.0"/>
<line x1="57.30" y1="663.95" x2="59.80" y2="663.95" stroke="#7a7a7a" stroke-width="1.0"/>
<line x1="57.30" y1="671.20" x2="59.80" y2="671.20" stroke="#7a7a7a" stroke-width="1.0"/>
<line x1="57.30" y1="678.45" x2="59.80" y2="678.45" stroke="#7a7a7a" stroke-width="1.0"/>
<line x1="57.30" y1="685.70" x2="59.80" y2="685.70" stroke="#7a7a7a" stroke-width="1.0"/>
<line x1="57.30" y1="692.95" x2="59.80" y2="692.95" stroke="#7a7a7a" stroke-width="1.0"/>
<line x1="57.30" y1="700.20" x2="59.80" y2="700.20" stroke="#7a7a7a" stroke-width="1.0"/>
<line x1="57.30" y1="707.45" x2="59.80" y2="707.45" stroke="#7a7a7a" stroke-width="1.0"/>
<line x1="57.30" y1="714.70" x2="59.80" y2="714.70" stroke="#7a7a7a" stroke-width="1.0"/>
<line x1="57.30" y1="721.95" x2="59.80" y2="721.95" stroke="#7a7a7a" stroke-width="1.0"/>
<line x1="57.30" y1="729.20" x2="59.80" y2="729.20" stroke="#7a7a7a" stroke-width="1.0"/>
<line x1="56.30" y1="736.45" x2="59.80" y2="736.45" stroke="#7a7a7a" stroke-width="1.0"/>
<line x1="59.80" y1="741.40" x2="59.80" y2="745.40" stroke="#7a7a7a" stroke-width="1.0"/>
<line x1="67.58" y1="741.40" x2="67.58" y2="743.90" stroke="#7a7a7a" stroke-width="1.0"/>
<line x1="75.35" y1="741.40" x2="75.35" y2="745.40" stroke="#7a7a7a" stroke-width="1.0"/>
<line x1="83.12" y1="741.40" x2="83.12" y2="743.90" stroke="#7a7a7a" stroke-width="1.0"/>
<line x1="90.90" y1="741.40" x2="90.90" y2="745.40" stroke="#7a7a7a" stroke-width="1.0"/>
<line x1="98.67" y1="741.40" x2="98.67" y2="743.90" stroke="#7a7a7a" stroke-width="1.0"/>
<line x1="106.45" y1="741.40" x2="106.45" y2="745.40" stroke="#7a7a7a" stroke-width="1.0"/>
<line x1="114.22" y1="741.40" x2="114.22" y2="743.90" stroke="#7a7a7a" stroke-width="1.0"/>
<line x1="122.00" y1="741.40" x2="122.00" y2="745.40" stroke="#7a7a7a" stroke-width="1.0"/>
<line x1="129.77" y1="741.40" x2="129.77" y2="743.90" stroke="#7a7a7a" stroke-width="1.0"/>
<line x1="137.55" y1="741.40" x2="137.55" y2="745.40" stroke="#7a7a7a" stroke-width="1.0"/>
<line x1="145.32" y1="741.40" x2="145.32" y2="743.90" stroke="#7a7a7a" stroke-width="1.0"/>
<line x1="153.10" y1="741.40" x2="153.10" y2="745.40" stroke="#7a7a7a" stroke-width="1.0"/>
<line x1="160.88" y1="741.40" x2="160.88" y2="743.90" stroke="#7a7a7a" stroke-width="1.0"/>
<line x1="168.65" y1="741.40" x2="168.65" y2="745.40" stroke="#7a7a7a" stroke-width="1.0"/>
<line x1="176.43" y1="741.40" x2="176.43" y2="743.90" stroke="#7a7a7a" stroke-width="1.0"/>
<line x1="184.20" y1="741.40" x2="184.20" y2="745.40" stroke="#7a7a7a" stroke-width="1.0"/>
<line x1="191.97" y1="741.40" x2="191.97" y2="743.90" stroke="#7a7a7a" stroke-width="1.0"/>
<line x1="199.75" y1="741.40" x2="199.75" y2="745.40" stroke="#7a7a7a" stroke-width="1.0"/>
<line x1="207.52" y1="741.40" x2="207.52" y2="743.90" stroke="#7a7a7a" stroke-width="1.0"/>
<line x1="215.30" y1="741.40" x2="215.30" y2="745.40" stroke="#7a7a7a" stroke-width="1.0"/>
<line x1="223.07" y1="741.40" x2="223.07" y2="743.90" stroke="#7a7a7a" stroke-width="1.0"/>
<text x="55.80" y="639.65" font-size="11.6" text-anchor="end" fill="#1a1a1a" stroke="#1a1a1a" stroke-width="0.18" >0</text>
<text x="55.80" y="740.95" font-size="11.6" text-anchor="end" fill="#1a1a1a" stroke="#1a1a1a" stroke-width="0.18" >-3.5</text>
<text x="59.80" y="755.50" font-size="11.9" text-anchor="middle" fill="#1a1a1a" stroke="#1a1a1a" stroke-width="0.18" >0</text>
<text x="138.05" y="755.50" font-size="11.9" text-anchor="middle" fill="#1a1a1a" stroke="#1a1a1a" stroke-width="0.18" >25</text>
<text x="215.80" y="755.50" font-size="11.9" text-anchor="middle" fill="#1a1a1a" stroke="#1a1a1a" stroke-width="0.18" >50</text>
<text x="144.60" y="620.00" font-size="13.3" text-anchor="middle" fill="#1a1a1a" stroke="#1a1a1a" stroke-width="0.18" >G73D</text>
<text x="144.10" y="768.00" font-size="11.4" text-anchor="middle" fill="#1a1a1a" stroke="#1a1a1a" stroke-width="0.18" >Time (min)</text>
<text x="29.20" y="678.00" font-size="11.6" text-anchor="middle" fill="#1a1a1a" stroke="#1a1a1a" stroke-width="0.18" transform="rotate(-90 29.20 678.00)">DP (&#181;W)</text>
<path d="M62.85,635.00 L63.35,648.80 L63.75,648.30 L64.15,639.14 L64.60,636.38 L65.20,635.41Z M71.05,635.00 L71.55,739.80 L71.95,739.30 L72.35,666.44 L72.80,645.48 L73.40,638.14Z M78.75,635.00 L79.25,733.80 L79.65,733.30 L80.05,664.64 L80.50,644.88 L81.10,637.96Z M86.15,635.00 L86.65,726.60 L87.05,726.10 L87.45,662.48 L87.90,644.16 L88.50,637.75Z M94.05,635.00 L94.55,717.90 L94.95,717.40 L95.35,659.87 L95.80,643.29 L96.40,637.49Z M101.95,635.00 L102.45,706.30 L102.85,705.80 L103.25,656.39 L103.70,642.13 L104.30,637.14Z M109.35,635.00 L109.85,696.30 L110.25,695.80 L110.65,653.39 L111.10,641.13 L111.70,636.84Z M117.25,635.00 L117.75,691.00 L118.15,690.50 L118.55,651.80 L119.00,640.60 L119.60,636.68Z M124.95,635.00 L125.45,684.40 L125.85,683.90 L126.25,649.82 L126.70,639.94 L127.30,636.48Z M132.55,635.00 L133.05,682.60 L133.45,682.10 L133.85,649.28 L134.30,639.76 L134.90,636.43Z M140.25,635.00 L140.75,680.40 L141.15,679.90 L141.55,648.62 L142.00,639.54 L142.60,636.36Z M148.15,635.00 L148.65,679.10 L149.05,678.60 L149.45,648.23 L149.90,639.41 L150.50,636.32Z M155.85,635.00 L156.35,678.60 L156.75,678.10 L157.15,648.08 L157.60,639.36 L158.20,636.31Z M163.75,635.00 L164.25,677.80 L164.65,677.30 L165.05,647.84 L165.50,639.28 L166.10,636.28Z M171.45,635.00 L171.95,677.00 L172.35,676.50 L172.75,647.60 L173.20,639.20 L173.80,636.26Z M179.05,635.00 L179.55,676.50 L179.95,676.00 L180.35,647.45 L180.80,639.15 L181.40,636.25Z M186.95,635.00 L187.45,677.30 L187.85,676.80 L188.25,647.69 L188.70,639.23 L189.30,636.27Z M194.65,635.00 L195.15,677.00 L195.55,676.50 L195.95,647.60 L196.40,639.20 L197.00,636.26Z M202.25,635.00 L202.75,677.30 L203.15,676.80 L203.55,647.69 L204.00,639.23 L204.60,636.27Z M210.25,635.00 L210.75,677.30 L211.15,676.80 L211.55,647.69 L212.00,639.23 L212.60,636.27Z" fill="#b4c3d8" stroke="none"/>
<path d="M60.30,635.00 L62.85,635.00 L63.35,648.80 L63.75,648.30 L64.15,639.14 L64.60,636.38 L65.20,635.41 Q65.70,634.50 66.80,635.00 L71.05,635.00 L71.55,739.80 L71.95,739.30 L72.35,666.44 L72.80,645.48 L73.40,638.14 Q73.90,634.50 75.00,635.00 L78.75,635.00 L79.25,733.80 L79.65,733.30 L80.05,664.64 L80.50,644.88 L81.10,637.96 Q81.60,634.50 82.70,635.00 L86.15,635.00 L86.65,726.60 L87.05,726.10 L87.45,662.48 L87.90,644.16 L88.50,637.75 Q89.00,634.50 90.10,635.00 L94.05,635.00 L94.55,717.90 L94.95,717.40 L95.35,659.87 L95.80,643.29 L96.40,637.49 Q96.90,634.50 98.00,635.00 L101.95,635.00 L102.45,706.30 L102.85,705.80 L103.25,656.39 L103.70,642.13 L104.30,637.14 Q104.80,634.50 105.90,635.00 L109.35,635.00 L109.85,696.30 L110.25,695.80 L110.65,653.39 L111.10,641.13 L111.70,636.84 Q112.20,634.50 113.30,635.00 L117.25,635.00 L117.75,691.00 L118.15,690.50 L118.55,651.80 L119.00,640.60 L119.60,636.68 Q120.10,634.50 121.20,635.00 L124.95,635.00 L125.45,684.40 L125.85,683.90 L126.25,649.82 L126.70,639.94 L127.30,636.48 Q127.80,634.50 128.90,635.00 L132.55,635.00 L133.05,682.60 L133.45,682.10 L133.85,649.28 L134.30,639.76 L134.90,636.43 Q135.40,634.50 136.50,635.00 L140.25,635.00 L140.75,680.40 L141.15,679.90 L141.55,648.62 L142.00,639.54 L142.60,636.36 Q143.10,634.50 144.20,635.00 L148.15,635.00 L148.65,679.10 L149.05,678.60 L149.45,648.23 L149.90,639.41 L150.50,636.32 Q151.00,634.50 152.10,635.00 L155.85,635.00 L156.35,678.60 L156.75,678.10 L157.15,648.08 L157.60,639.36 L158.20,636.31 Q158.70,634.50 159.80,635.00 L163.75,635.00 L164.25,677.80 L164.65,677.30 L165.05,647.84 L165.50,639.28 L166.10,636.28 Q166.60,634.50 167.70,635.00 L171.45,635.00 L171.95,677.00 L172.35,676.50 L172.75,647.60 L173.20,639.20 L173.80,636.26 Q174.30,634.50 175.40,635.00 L179.05,635.00 L179.55,676.50 L179.95,676.00 L180.35,647.45 L180.80,639.15 L181.40,636.25 Q181.90,634.50 183.00,635.00 L186.95,635.00 L187.45,677.30 L187.85,676.80 L188.25,647.69 L188.70,639.23 L189.30,636.27 Q189.80,634.50 190.90,635.00 L194.65,635.00 L195.15,677.00 L195.55,676.50 L195.95,647.60 L196.40,639.20 L197.00,636.26 Q197.50,634.50 198.60,635.00 L202.25,635.00 L202.75,677.30 L203.15,676.80 L203.55,647.69 L204.00,639.23 L204.60,636.27 Q205.10,634.50 206.20,635.00 L210.25,635.00 L210.75,677.30 L211.15,676.80 L211.55,647.69 L212.00,639.23 L212.60,636.27 Q213.10,634.50 214.20,635.00 L218.10,635.00" fill="none" stroke="#63748f" stroke-width="0.85" stroke-linejoin="round"/>
<line x1="265.60" y1="624.70" x2="265.60" y2="739.30" stroke="#7a7a7a" stroke-width="1.0"/>
<line x1="265.10" y1="738.80" x2="431.50" y2="738.80" stroke="#7a7a7a" stroke-width="1.0"/>
<line x1="263.10" y1="626.20" x2="265.60" y2="626.20" stroke="#7a7a7a" stroke-width="1.0"/>
<line x1="263.10" y1="633.25" x2="265.60" y2="633.25" stroke="#7a7a7a" stroke-width="1.0"/>
<line x1="263.10" y1="640.30" x2="265.60" y2="640.30" stroke="#7a7a7a" stroke-width="1.0"/>
<line x1="263.10" y1="647.35" x2="265.60" y2="647.35" stroke="#7a7a7a" stroke-width="1.0"/>
<line x1="263.10" y1="654.40" x2="265.60" y2="654.40" stroke="#7a7a7a" stroke-width="1.0"/>
<line x1="263.10" y1="661.45" x2="265.60" y2="661.45" stroke="#7a7a7a" stroke-width="1.0"/>
<line x1="263.10" y1="668.50" x2="265.60" y2="668.50" stroke="#7a7a7a" stroke-width="1.0"/>
<line x1="263.10" y1="675.55" x2="265.60" y2="675.55" stroke="#7a7a7a" stroke-width="1.0"/>
<line x1="263.10" y1="682.60" x2="265.60" y2="682.60" stroke="#7a7a7a" stroke-width="1.0"/>
<line x1="263.10" y1="689.65" x2="265.60" y2="689.65" stroke="#7a7a7a" stroke-width="1.0"/>
<line x1="263.10" y1="696.70" x2="265.60" y2="696.70" stroke="#7a7a7a" stroke-width="1.0"/>
<line x1="263.10" y1="703.75" x2="265.60" y2="703.75" stroke="#7a7a7a" stroke-width="1.0"/>
<line x1="263.10" y1="710.80" x2="265.60" y2="710.80" stroke="#7a7a7a" stroke-width="1.0"/>
<line x1="263.10" y1="717.85" x2="265.60" y2="717.85" stroke="#7a7a7a" stroke-width="1.0"/>
<line x1="263.10" y1="724.90" x2="265.60" y2="724.90" stroke="#7a7a7a" stroke-width="1.0"/>
<line x1="263.10" y1="731.95" x2="265.60" y2="731.95" stroke="#7a7a7a" stroke-width="1.0"/>
<line x1="265.60" y1="738.80" x2="265.60" y2="742.80" stroke="#7a7a7a" stroke-width="1.0"/>
<line x1="273.38" y1="738.80" x2="273.38" y2="741.30" stroke="#7a7a7a" stroke-width="1.0"/>
<line x1="281.15" y1="738.80" x2="281.15" y2="742.80" stroke="#7a7a7a" stroke-width="1.0"/>
<line x1="288.93" y1="738.80" x2="288.93" y2="741.30" stroke="#7a7a7a" stroke-width="1.0"/>
<line x1="296.70" y1="738.80" x2="296.70" y2="742.80" stroke="#7a7a7a" stroke-width="1.0"/>
<line x1="304.48" y1="738.80" x2="304.48" y2="741.30" stroke="#7a7a7a" stroke-width="1.0"/>
<line x1="312.25" y1="738.80" x2="312.25" y2="742.80" stroke="#7a7a7a" stroke-width="1.0"/>
<line x1="320.03" y1="738.80" x2="320.03" y2="741.30" stroke="#7a7a7a" stroke-width="1.0"/>
<line x1="327.80" y1="738.80" x2="327.80" y2="742.80" stroke="#7a7a7a" stroke-width="1.0"/>
<line x1="335.58" y1="738.80" x2="335.58" y2="741.30" stroke="#7a7a7a" stroke-width="1.0"/>
<line x1="343.35" y1="738.80" x2="343.35" y2="742.80" stroke="#7a7a7a" stroke-width="1.0"/>
<line x1="351.12" y1="738.80" x2="351.12" y2="741.30" stroke="#7a7a7a" stroke-width="1.0"/>
<line x1="358.90" y1="738.80" x2="358.90" y2="742.80" stroke="#7a7a7a" stroke-width="1.0"/>
<line x1="366.68" y1="738.80" x2="366.68" y2="741.30" stroke="#7a7a7a" stroke-width="1.0"/>
<line x1="374.45" y1="738.80" x2="374.45" y2="742.80" stroke="#7a7a7a" stroke-width="1.0"/>
<line x1="382.23" y1="738.80" x2="382.23" y2="741.30" stroke="#7a7a7a" stroke-width="1.0"/>
<line x1="390.00" y1="738.80" x2="390.00" y2="742.80" stroke="#7a7a7a" stroke-width="1.0"/>
<line x1="397.77" y1="738.80" x2="397.77" y2="741.30" stroke="#7a7a7a" stroke-width="1.0"/>
<line x1="405.55" y1="738.80" x2="405.55" y2="742.80" stroke="#7a7a7a" stroke-width="1.0"/>
<line x1="413.33" y1="738.80" x2="413.33" y2="741.30" stroke="#7a7a7a" stroke-width="1.0"/>
<line x1="421.10" y1="738.80" x2="421.10" y2="742.80" stroke="#7a7a7a" stroke-width="1.0"/>
<line x1="428.88" y1="738.80" x2="428.88" y2="741.30" stroke="#7a7a7a" stroke-width="1.0"/>
<text x="261.60" y="643.95" font-size="11.6" text-anchor="end" fill="#1a1a1a" stroke="#1a1a1a" stroke-width="0.18" >0</text>
<text x="261.60" y="742.55" font-size="11.6" text-anchor="end" fill="#1a1a1a" stroke="#1a1a1a" stroke-width="0.18" >-3.5</text>
<text x="265.60" y="752.90" font-size="11.9" text-anchor="middle" fill="#1a1a1a" stroke="#1a1a1a" stroke-width="0.18" >0</text>
<text x="343.85" y="752.90" font-size="11.9" text-anchor="middle" fill="#1a1a1a" stroke="#1a1a1a" stroke-width="0.18" >25</text>
<text x="421.60" y="752.90" font-size="11.9" text-anchor="middle" fill="#1a1a1a" stroke="#1a1a1a" stroke-width="0.18" >50</text>
<text x="345.50" y="620.00" font-size="13.3" text-anchor="middle" fill="#1a1a1a" stroke="#1a1a1a" stroke-width="0.18" >S74G</text>
<text x="349.50" y="765.20" font-size="11.4" text-anchor="middle" fill="#1a1a1a" stroke="#1a1a1a" stroke-width="0.18" >Time (min)</text>
<text x="235.00" y="677.00" font-size="11.6" text-anchor="middle" fill="#1a1a1a" stroke="#1a1a1a" stroke-width="0.18" transform="rotate(-90 235.00 677.00)">DP (&#181;W)</text>
<path d="M268.85,638.30 L269.35,642.20 L269.75,641.70 L270.15,639.47 L270.60,638.69 L271.20,638.42Z M276.45,638.30 L276.95,729.30 L277.35,728.80 L277.75,665.60 L278.20,647.40 L278.80,641.03Z M284.45,638.30 L284.95,732.70 L285.35,732.20 L285.75,666.62 L286.20,647.74 L286.80,641.13Z M292.35,638.30 L292.85,735.90 L293.25,735.40 L293.65,667.58 L294.10,648.06 L294.70,641.23Z M300.25,638.30 L300.75,729.30 L301.15,728.80 L301.55,665.60 L302.00,647.40 L302.60,641.03Z M307.95,638.30 L308.45,721.40 L308.85,720.90 L309.25,663.23 L309.70,646.61 L310.30,640.79Z M315.55,638.30 L316.05,709.50 L316.45,709.00 L316.85,659.66 L317.30,645.42 L317.90,640.44Z M323.45,638.30 L323.95,699.40 L324.35,698.90 L324.75,656.63 L325.20,644.41 L325.80,640.13Z M331.15,638.30 L331.65,688.40 L332.05,687.90 L332.45,653.33 L332.90,643.31 L333.50,639.80Z M338.85,638.30 L339.35,680.40 L339.75,679.90 L340.15,650.93 L340.60,642.51 L341.20,639.56Z M346.45,638.30 L346.95,674.40 L347.35,673.90 L347.75,649.13 L348.20,641.91 L348.80,639.38Z M354.35,638.30 L354.85,669.40 L355.25,668.90 L355.65,647.63 L356.10,641.41 L356.70,639.23Z M362.05,638.30 L362.55,664.10 L362.95,663.60 L363.35,646.04 L363.80,640.88 L364.40,639.07Z M369.65,638.30 L370.15,663.30 L370.55,662.80 L370.95,645.80 L371.40,640.80 L372.00,639.05Z M377.65,638.30 L378.15,660.60 L378.55,660.10 L378.95,644.99 L379.40,640.53 L380.00,638.97Z M385.25,638.30 L385.75,660.10 L386.15,659.60 L386.55,644.84 L387.00,640.48 L387.60,638.95Z M392.95,638.30 L393.45,658.00 L393.85,657.50 L394.25,644.21 L394.70,640.27 L395.30,638.89Z M400.55,638.30 L401.05,656.20 L401.45,655.70 L401.85,643.67 L402.30,640.09 L402.90,638.84Z M408.45,638.30 L408.95,655.40 L409.35,654.90 L409.75,643.43 L410.20,640.01 L410.80,638.81Z M416.15,638.30 L416.65,657.20 L417.05,656.70 L417.45,643.97 L417.90,640.19 L418.50,638.87Z" fill="#b4c3d8" stroke="none"/>
<path d="M266.10,638.30 L268.85,638.30 L269.35,642.20 L269.75,641.70 L270.15,639.47 L270.60,638.69 L271.20,638.42 Q271.70,637.80 272.80,638.30 L276.45,638.30 L276.95,729.30 L277.35,728.80 L277.75,665.60 L278.20,647.40 L278.80,641.03 Q279.30,637.80 280.40,638.30 L284.45,638.30 L284.95,732.70 L285.35,732.20 L285.75,666.62 L286.20,647.74 L286.80,641.13 Q287.30,637.80 288.40,638.30 L292.35,638.30 L292.85,735.90 L293.25,735.40 L293.65,667.58 L294.10,648.06 L294.70,641.23 Q295.20,637.80 296.30,638.30 L300.25,638.30 L300.75,729.30 L301.15,728.80 L301.55,665.60 L302.00,647.40 L302.60,641.03 Q303.10,637.80 304.20,638.30 L307.95,638.30 L308.45,721.40 L308.85,720.90 L309.25,663.23 L309.70,646.61 L310.30,640.79 Q310.80,637.80 311.90,638.30 L315.55,638.30 L316.05,709.50 L316.45,709.00 L316.85,659.66 L317.30,645.42 L317.90,640.44 Q318.40,637.80 319.50,638.30 L323.45,638.30 L323.95,699.40 L324.35,698.90 L324.75,656.63 L325.20,644.41 L325.80,640.13 Q326.30,637.80 327.40,638.30 L331.15,638.30 L331.65,688.40 L332.05,687.90 L332.45,653.33 L332.90,643.31 L333.50,639.80 Q334.00,637.80 335.10,638.30 L338.85,638.30 L339.35,680.40 L339.75,679.90 L340.15,650.93 L340.60,642.51 L341.20,639.56 Q341.70,637.80 342.80,638.30 L346.45,638.30 L346.95,674.40 L347.35,673.90 L347.75,649.13 L348.20,641.91 L348.80,639.38 Q349.30,637.80 350.40,638.30 L354.35,638.30 L354.85,669.40 L355.25,668.90 L355.65,647.63 L356.10,641.41 L356.70,639.23 Q357.20,637.80 358.30,638.30 L362.05,638.30 L362.55,664.10 L362.95,663.60 L363.35,646.04 L363.80,640.88 L364.40,639.07 Q364.90,637.80 366.00,638.30 L369.65,638.30 L370.15,663.30 L370.55,662.80 L370.95,645.80 L371.40,640.80 L372.00,639.05 Q372.50,637.80 373.60,638.30 L377.65,638.30 L378.15,660.60 L378.55,660.10 L378.95,644.99 L379.40,640.53 L380.00,638.97 Q380.50,637.80 381.60,638.30 L385.25,638.30 L385.75,660.10 L386.15,659.60 L386.55,644.84 L387.00,640.48 L387.60,638.95 Q388.10,637.80 389.20,638.30 L392.95,638.30 L393.45,658.00 L393.85,657.50 L394.25,644.21 L394.70,640.27 L395.30,638.89 Q395.80,637.80 396.90,638.30 L400.55,638.30 L401.05,656.20 L401.45,655.70 L401.85,643.67 L402.30,640.09 L402.90,638.84 Q403.40,637.80 404.50,638.30 L408.45,638.30 L408.95,655.40 L409.35,654.90 L409.75,643.43 L410.20,640.01 L410.80,638.81 Q411.30,637.80 412.40,638.30 L416.15,638.30 L416.65,657.20 L417.05,656.70 L417.45,643.97 L417.90,640.19 L418.50,638.87 Q419.00,637.80 420.10,638.30 L423.60,638.30" fill="none" stroke="#63748f" stroke-width="0.85" stroke-linejoin="round"/>
<line x1="476.60" y1="622.00" x2="476.60" y2="739.90" stroke="#7a7a7a" stroke-width="1.0"/>
<line x1="476.10" y1="739.40" x2="644.00" y2="739.40" stroke="#7a7a7a" stroke-width="1.0"/>
<line x1="474.10" y1="625.10" x2="476.60" y2="625.10" stroke="#7a7a7a" stroke-width="1.0"/>
<line x1="473.10" y1="632.10" x2="476.60" y2="632.10" stroke="#7a7a7a" stroke-width="1.0"/>
<line x1="474.10" y1="639.10" x2="476.60" y2="639.10" stroke="#7a7a7a" stroke-width="1.0"/>
<line x1="474.10" y1="646.10" x2="476.60" y2="646.10" stroke="#7a7a7a" stroke-width="1.0"/>
<line x1="474.10" y1="653.10" x2="476.60" y2="653.10" stroke="#7a7a7a" stroke-width="1.0"/>
<line x1="474.10" y1="660.10" x2="476.60" y2="660.10" stroke="#7a7a7a" stroke-width="1.0"/>
<line x1="474.10" y1="667.10" x2="476.60" y2="667.10" stroke="#7a7a7a" stroke-width="1.0"/>
<line x1="474.10" y1="674.10" x2="476.60" y2="674.10" stroke="#7a7a7a" stroke-width="1.0"/>
<line x1="474.10" y1="681.10" x2="476.60" y2="681.10" stroke="#7a7a7a" stroke-width="1.0"/>
<line x1="474.10" y1="688.10" x2="476.60" y2="688.10" stroke="#7a7a7a" stroke-width="1.0"/>
<line x1="474.10" y1="695.10" x2="476.60" y2="695.10" stroke="#7a7a7a" stroke-width="1.0"/>
<line x1="474.10" y1="702.10" x2="476.60" y2="702.10" stroke="#7a7a7a" stroke-width="1.0"/>
<line x1="474.10" y1="709.10" x2="476.60" y2="709.10" stroke="#7a7a7a" stroke-width="1.0"/>
<line x1="474.10" y1="716.10" x2="476.60" y2="716.10" stroke="#7a7a7a" stroke-width="1.0"/>
<line x1="474.10" y1="723.10" x2="476.60" y2="723.10" stroke="#7a7a7a" stroke-width="1.0"/>
<line x1="474.10" y1="730.10" x2="476.60" y2="730.10" stroke="#7a7a7a" stroke-width="1.0"/>
<line x1="474.10" y1="737.10" x2="476.60" y2="737.10" stroke="#7a7a7a" stroke-width="1.0"/>
<line x1="476.60" y1="739.40" x2="476.60" y2="743.40" stroke="#7a7a7a" stroke-width="1.0"/>
<line x1="484.39" y1="739.40" x2="484.39" y2="741.90" stroke="#7a7a7a" stroke-width="1.0"/>
<line x1="492.17" y1="739.40" x2="492.17" y2="743.40" stroke="#7a7a7a" stroke-width="1.0"/>
<line x1="499.96" y1="739.40" x2="499.96" y2="741.90" stroke="#7a7a7a" stroke-width="1.0"/>
<line x1="507.74" y1="739.40" x2="507.74" y2="743.40" stroke="#7a7a7a" stroke-width="1.0"/>
<line x1="515.52" y1="739.40" x2="515.52" y2="741.90" stroke="#7a7a7a" stroke-width="1.0"/>
<line x1="523.31" y1="739.40" x2="523.31" y2="743.40" stroke="#7a7a7a" stroke-width="1.0"/>
<line x1="531.10" y1="739.40" x2="531.10" y2="741.90" stroke="#7a7a7a" stroke-width="1.0"/>
<line x1="538.88" y1="739.40" x2="538.88" y2="743.40" stroke="#7a7a7a" stroke-width="1.0"/>
<line x1="546.66" y1="739.40" x2="546.66" y2="741.90" stroke="#7a7a7a" stroke-width="1.0"/>
<line x1="554.45" y1="739.40" x2="554.45" y2="743.40" stroke="#7a7a7a" stroke-width="1.0"/>
<line x1="562.24" y1="739.40" x2="562.24" y2="741.90" stroke="#7a7a7a" stroke-width="1.0"/>
<line x1="570.02" y1="739.40" x2="570.02" y2="743.40" stroke="#7a7a7a" stroke-width="1.0"/>
<line x1="577.81" y1="739.40" x2="577.81" y2="741.90" stroke="#7a7a7a" stroke-width="1.0"/>
<line x1="585.59" y1="739.40" x2="585.59" y2="743.40" stroke="#7a7a7a" stroke-width="1.0"/>
<line x1="593.38" y1="739.40" x2="593.38" y2="741.90" stroke="#7a7a7a" stroke-width="1.0"/>
<line x1="601.16" y1="739.40" x2="601.16" y2="743.40" stroke="#7a7a7a" stroke-width="1.0"/>
<line x1="608.95" y1="739.40" x2="608.95" y2="741.90" stroke="#7a7a7a" stroke-width="1.0"/>
<line x1="616.73" y1="739.40" x2="616.73" y2="743.40" stroke="#7a7a7a" stroke-width="1.0"/>
<line x1="624.51" y1="739.40" x2="624.51" y2="741.90" stroke="#7a7a7a" stroke-width="1.0"/>
<line x1="632.30" y1="739.40" x2="632.30" y2="743.40" stroke="#7a7a7a" stroke-width="1.0"/>
<line x1="640.09" y1="739.40" x2="640.09" y2="741.90" stroke="#7a7a7a" stroke-width="1.0"/>
<text x="472.60" y="637.75" font-size="11.6" text-anchor="end" fill="#1a1a1a" stroke="#1a1a1a" stroke-width="0.18" >0</text>
<text x="472.60" y="733.95" font-size="11.6" text-anchor="end" fill="#1a1a1a" stroke="#1a1a1a" stroke-width="0.18" >-3.5</text>
<text x="476.60" y="753.50" font-size="11.9" text-anchor="middle" fill="#1a1a1a" stroke="#1a1a1a" stroke-width="0.18" >0</text>
<text x="554.95" y="753.50" font-size="11.9" text-anchor="middle" fill="#1a1a1a" stroke="#1a1a1a" stroke-width="0.18" >25</text>
<text x="632.80" y="753.50" font-size="11.9" text-anchor="middle" fill="#1a1a1a" stroke="#1a1a1a" stroke-width="0.18" >50</text>
<text x="562.40" y="620.50" font-size="13.3" text-anchor="middle" fill="#1a1a1a" stroke="#1a1a1a" stroke-width="0.18" >P76R</text>
<text x="559.90" y="768.60" font-size="11.4" text-anchor="middle" fill="#1a1a1a" stroke="#1a1a1a" stroke-width="0.18" >Time (min)</text>
<text x="446.00" y="678.60" font-size="11.6" text-anchor="middle" fill="#1a1a1a" stroke="#1a1a1a" stroke-width="0.18" transform="rotate(-90 446.00 678.60)">DP (&#181;W)</text>
<path d="M479.95,632.00 L480.45,646.40 L480.85,645.90 L481.25,636.32 L481.70,633.44 L482.30,632.43Z M488.05,632.00 L488.55,737.50 L488.95,737.00 L489.35,663.65 L489.80,642.55 L490.40,635.16Z M495.75,632.00 L496.25,737.50 L496.65,737.00 L497.05,663.65 L497.50,642.55 L498.10,635.16Z M503.35,632.00 L503.85,737.50 L504.25,737.00 L504.65,663.65 L505.10,642.55 L505.70,635.16Z M511.05,632.00 L511.55,730.30 L511.95,729.80 L512.35,661.49 L512.80,641.83 L513.40,634.95Z M518.95,632.00 L519.45,719.80 L519.85,719.30 L520.25,658.34 L520.70,640.78 L521.30,634.63Z M526.65,632.00 L527.15,704.00 L527.55,703.50 L527.95,653.60 L528.40,639.20 L529.00,634.16Z M534.25,632.00 L534.75,691.30 L535.15,690.80 L535.55,649.79 L536.00,637.93 L536.60,633.78Z M541.95,632.00 L542.45,680.20 L542.85,679.70 L543.25,646.46 L543.70,636.82 L544.30,633.45Z M549.55,632.00 L550.05,672.80 L550.45,672.30 L550.85,644.24 L551.30,636.08 L551.90,633.22Z M557.55,632.00 L558.05,666.20 L558.45,665.70 L558.85,642.26 L559.30,635.42 L559.90,633.03Z M565.15,632.00 L565.65,660.10 L566.05,659.60 L566.45,640.43 L566.90,634.81 L567.50,632.84Z M572.85,632.00 L573.35,659.10 L573.75,658.60 L574.15,640.13 L574.60,634.71 L575.20,632.81Z M580.75,632.00 L581.25,655.60 L581.65,655.10 L582.05,639.08 L582.50,634.36 L583.10,632.71Z M588.35,632.00 L588.85,657.00 L589.25,656.50 L589.65,639.50 L590.10,634.50 L590.70,632.75Z M596.05,632.00 L596.55,654.80 L596.95,654.30 L597.35,638.84 L597.80,634.28 L598.40,632.68Z M603.95,632.00 L604.45,654.30 L604.85,653.80 L605.25,638.69 L605.70,634.23 L606.30,632.67Z M611.65,632.00 L612.15,651.20 L612.55,650.70 L612.95,637.76 L613.40,633.92 L614.00,632.58Z M619.55,632.00 L620.05,651.70 L620.45,651.20 L620.85,637.91 L621.30,633.97 L621.90,632.59Z M627.25,632.00 L627.75,650.40 L628.15,649.90 L628.55,637.52 L629.00,633.84 L629.60,632.55Z" fill="#b4c3d8" stroke="none"/>
<path d="M477.10,632.00 L479.95,632.00 L480.45,646.40 L480.85,645.90 L481.25,636.32 L481.70,633.44 L482.30,632.43 Q482.80,631.50 483.90,632.00 L488.05,632.00 L488.55,737.50 L488.95,737.00 L489.35,663.65 L489.80,642.55 L490.40,635.16 Q490.90,631.50 492.00,632.00 L495.75,632.00 L496.25,737.50 L496.65,737.00 L497.05,663.65 L497.50,642.55 L498.10,635.16 Q498.60,631.50 499.70,632.00 L503.35,632.00 L503.85,737.50 L504.25,737.00 L504.65,663.65 L505.10,642.55 L505.70,635.16 Q506.20,631.50 507.30,632.00 L511.05,632.00 L511.55,730.30 L511.95,729.80 L512.35,661.49 L512.80,641.83 L513.40,634.95 Q513.90,631.50 515.00,632.00 L518.95,632.00 L519.45,719.80 L519.85,719.30 L520.25,658.34 L520.70,640.78 L521.30,634.63 Q521.80,631.50 522.90,632.00 L526.65,632.00 L527.15,704.00 L527.55,703.50 L527.95,653.60 L528.40,639.20 L529.00,634.16 Q529.50,631.50 530.60,632.00 L534.25,632.00 L534.75,691.30 L535.15,690.80 L535.55,649.79 L536.00,637.93 L536.60,633.78 Q537.10,631.50 538.20,632.00 L541.95,632.00 L542.45,680.20 L542.85,679.70 L543.25,646.46 L543.70,636.82 L544.30,633.45 Q544.80,631.50 545.90,632.00 L549.55,632.00 L550.05,672.80 L550.45,672.30 L550.85,644.24 L551.30,636.08 L551.90,633.22 Q552.40,631.50 553.50,632.00 L557.55,632.00 L558.05,666.20 L558.45,665.70 L558.85,642.26 L559.30,635.42 L559.90,633.03 Q560.40,631.50 561.50,632.00 L565.15,632.00 L565.65,660.10 L566.05,659.60 L566.45,640.43 L566.90,634.81 L567.50,632.84 Q568.00,631.50 569.10,632.00 L572.85,632.00 L573.35,659.10 L573.75,658.60 L574.15,640.13 L574.60,634.71 L575.20,632.81 Q575.70,631.50 576.80,632.00 L580.75,632.00 L581.25,655.60 L581.65,655.10 L582.05,639.08 L582.50,634.36 L583.10,632.71 Q583.60,631.50 584.70,632.00 L588.35,632.00 L588.85,657.00 L589.25,656.50 L589.65,639.50 L590.10,634.50 L590.70,632.75 Q591.20,631.50 592.30,632.00 L596.05,632.00 L596.55,654.80 L596.95,654.30 L597.35,638.84 L597.80,634.28 L598.40,632.68 Q598.90,631.50 600.00,632.00 L603.95,632.00 L604.45,654.30 L604.85,653.80 L605.25,638.69 L605.70,634.23 L606.30,632.67 Q606.80,631.50 607.90,632.00 L611.65,632.00 L612.15,651.20 L612.55,650.70 L612.95,637.76 L613.40,633.92 L614.00,632.58 Q614.50,631.50 615.60,632.00 L619.55,632.00 L620.05,651.70 L620.45,651.20 L620.85,637.91 L621.30,633.97 L621.90,632.59 Q622.40,631.50 623.50,632.00 L627.25,632.00 L627.75,650.40 L628.15,649.90 L628.55,637.52 L629.00,633.84 L629.60,632.55 Q630.10,631.50 631.20,632.00 L635.10,632.00" fill="none" stroke="#63748f" stroke-width="0.85" stroke-linejoin="round"/>
<line x1="58.85" y1="442.10" x2="58.85" y2="554.30" stroke="#7a7a7a" stroke-width="1.0"/>
<line x1="58.35" y1="553.80" x2="218.00" y2="553.80" stroke="#7a7a7a" stroke-width="1.0"/>
<line x1="56.35" y1="441.90" x2="58.85" y2="441.90" stroke="#7a7a7a" stroke-width="1.0"/>
<line x1="55.35" y1="453.80" x2="58.85" y2="453.80" stroke="#7a7a7a" stroke-width="1.0"/>
<line x1="56.35" y1="465.70" x2="58.85" y2="465.70" stroke="#7a7a7a" stroke-width="1.0"/>
<line x1="56.35" y1="477.60" x2="58.85" y2="477.60" stroke="#7a7a7a" stroke-width="1.0"/>
<line x1="56.35" y1="489.50" x2="58.85" y2="489.50" stroke="#7a7a7a" stroke-width="1.0"/>
<line x1="55.35" y1="501.40" x2="58.85" y2="501.40" stroke="#7a7a7a" stroke-width="1.0"/>
<line x1="56.35" y1="513.30" x2="58.85" y2="513.30" stroke="#7a7a7a" stroke-width="1.0"/>
<line x1="56.35" y1="525.20" x2="58.85" y2="525.20" stroke="#7a7a7a" stroke-width="1.0"/>
<line x1="56.35" y1="537.10" x2="58.85" y2="537.10" stroke="#7a7a7a" stroke-width="1.0"/>
<line x1="55.35" y1="549.00" x2="58.85" y2="549.00" stroke="#7a7a7a" stroke-width="1.0"/>
<line x1="59.10" y1="553.80" x2="59.10" y2="557.80" stroke="#7a7a7a" stroke-width="1.0"/>
<line x1="66.50" y1="553.80" x2="66.50" y2="556.30" stroke="#7a7a7a" stroke-width="1.0"/>
<line x1="73.90" y1="553.80" x2="73.90" y2="557.80" stroke="#7a7a7a" stroke-width="1.0"/>
<line x1="81.30" y1="553.80" x2="81.30" y2="556.30" stroke="#7a7a7a" stroke-width="1.0"/>
<line x1="88.70" y1="553.80" x2="88.70" y2="557.80" stroke="#7a7a7a" stroke-width="1.0"/>
<line x1="96.10" y1="553.80" x2="96.10" y2="556.30" stroke="#7a7a7a" stroke-width="1.0"/>
<line x1="103.50" y1="553.80" x2="103.50" y2="557.80" stroke="#7a7a7a" stroke-width="1.0"/>
<line x1="110.90" y1="553.80" x2="110.90" y2="556.30" stroke="#7a7a7a" stroke-width="1.0"/>
<line x1="118.30" y1="553.80" x2="118.30" y2="557.80" stroke="#7a7a7a" stroke-width="1.0"/>
<line x1="125.70" y1="553.80" x2="125.70" y2="556.30" stroke="#7a7a7a" stroke-width="1.0"/>
<line x1="133.10" y1="553.80" x2="133.10" y2="557.80" stroke="#7a7a7a" stroke-width="1.0"/>
<line x1="140.50" y1="553.80" x2="140.50" y2="556.30" stroke="#7a7a7a" stroke-width="1.0"/>
<line x1="147.90" y1="553.80" x2="147.90" y2="557.80" stroke="#7a7a7a" stroke-width="1.0"/>
<line x1="155.30" y1="553.80" x2="155.30" y2="556.30" stroke="#7a7a7a" stroke-width="1.0"/>
<line x1="162.70" y1="553.80" x2="162.70" y2="557.80" stroke="#7a7a7a" stroke-width="1.0"/>
<line x1="170.10" y1="553.80" x2="170.10" y2="556.30" stroke="#7a7a7a" stroke-width="1.0"/>
<line x1="177.50" y1="553.80" x2="177.50" y2="557.80" stroke="#7a7a7a" stroke-width="1.0"/>
<line x1="184.90" y1="553.80" x2="184.90" y2="556.30" stroke="#7a7a7a" stroke-width="1.0"/>
<line x1="192.30" y1="553.80" x2="192.30" y2="557.80" stroke="#7a7a7a" stroke-width="1.0"/>
<line x1="199.70" y1="553.80" x2="199.70" y2="556.30" stroke="#7a7a7a" stroke-width="1.0"/>
<line x1="207.10" y1="553.80" x2="207.10" y2="557.80" stroke="#7a7a7a" stroke-width="1.0"/>
<line x1="214.50" y1="553.80" x2="214.50" y2="556.30" stroke="#7a7a7a" stroke-width="1.0"/>
<text x="55.05" y="459.75" font-size="11.6" text-anchor="end" fill="#1a1a1a" stroke="#1a1a1a" stroke-width="0.18" >-20</text>
<text x="55.05" y="506.15" font-size="11.6" text-anchor="end" fill="#1a1a1a" stroke="#1a1a1a" stroke-width="0.18" >-100</text>
<text x="55.05" y="553.85" font-size="11.6" text-anchor="end" fill="#1a1a1a" stroke="#1a1a1a" stroke-width="0.18" >-180</text>
<text x="58.10" y="568.30" font-size="11.6" text-anchor="middle" fill="#1a1a1a" stroke="#1a1a1a" stroke-width="0.18" >0</text>
<text x="132.10" y="568.30" font-size="11.6" text-anchor="middle" fill="#1a1a1a" stroke="#1a1a1a" stroke-width="0.18" >1</text>
<text x="206.10" y="568.30" font-size="11.6" text-anchor="middle" fill="#1a1a1a" stroke="#1a1a1a" stroke-width="0.18" >2</text>
<text x="140.60" y="585.80" font-size="11.6" text-anchor="middle" fill="#1a1a1a" stroke="#1a1a1a" stroke-width="0.18" >Molar Ratio</text>
<text x="28.65" y="497.50" font-size="11.7" text-anchor="middle" fill="#1a1a1a" stroke="#1a1a1a" stroke-width="0.18" transform="rotate(-90 28.65 497.50)">&#916;H (kJ/mol)</text>
<path d="M59.35,540.49 L61.27,539.68 L63.18,538.80 L65.10,537.87 L67.02,536.87 L68.94,535.80 L70.85,534.66 L72.77,533.45 L74.69,532.16 L76.60,530.80 L78.52,529.36 L80.44,527.84 L82.36,526.25 L84.27,524.58 L86.19,522.83 L88.11,521.01 L90.02,519.12 L91.94,517.16 L93.86,515.13 L95.77,513.05 L97.69,510.92 L99.61,508.74 L101.53,506.53 L103.44,504.28 L105.36,502.01 L107.28,499.73 L109.19,497.45 L111.11,495.17 L113.03,492.91 L114.95,490.66 L116.86,488.45 L118.78,486.28 L120.70,484.15 L122.61,482.08 L124.53,480.06 L126.45,478.10 L128.37,476.22 L130.28,474.40 L132.20,472.66 L134.12,471.00 L136.03,469.41 L137.95,467.90 L139.87,466.47 L141.78,465.12 L143.70,463.84 L145.62,462.63 L147.54,461.50 L149.45,460.44 L151.37,459.45 L153.29,458.52 L155.20,457.65 L157.12,456.84 L159.04,456.09 L160.96,455.39 L162.87,454.74 L164.79,454.13 L166.71,453.58 L168.62,453.06 L170.54,452.58 L172.46,452.14 L174.38,451.73 L176.29,451.36 L178.21,451.01 L180.13,450.69 L182.04,450.40 L183.96,450.13 L185.88,449.88 L187.79,449.65 L189.71,449.44 L191.63,449.24 L193.55,449.07 L195.46,448.90 L197.38,448.75 L199.30,448.62 L201.21,448.49 L203.13,448.37 L205.05,448.27 L206.97,448.17 L208.88,448.08 L210.80,448.00" fill="none" stroke="#4a8fae" stroke-width="1.1"/>
<circle cx="67.70" cy="548.10" r="1.45" fill="#4d6478"/>
<circle cx="75.10" cy="527.90" r="1.45" fill="#4d6478"/>
<circle cx="82.60" cy="515.80" r="1.45" fill="#4d6478"/>
<circle cx="90.00" cy="520.50" r="1.45" fill="#4d6478"/>
<circle cx="97.50" cy="513.30" r="1.45" fill="#4d6478"/>
<circle cx="105.20" cy="505.30" r="1.45" fill="#4d6478"/>
<circle cx="112.90" cy="496.90" r="1.45" fill="#4d6478"/>
<circle cx="120.80" cy="485.70" r="1.45" fill="#4d6478"/>
<circle cx="128.50" cy="475.30" r="1.45" fill="#4d6478"/>
<circle cx="136.20" cy="468.30" r="1.45" fill="#4d6478"/>
<circle cx="144.40" cy="461.90" r="1.45" fill="#4d6478"/>
<circle cx="152.60" cy="457.60" r="1.45" fill="#4d6478"/>
<circle cx="160.80" cy="454.90" r="1.45" fill="#4d6478"/>
<circle cx="169.00" cy="453.20" r="1.45" fill="#4d6478"/>
<circle cx="177.20" cy="451.20" r="1.45" fill="#4d6478"/>
<circle cx="185.40" cy="449.90" r="1.45" fill="#4d6478"/>
<circle cx="193.60" cy="449.40" r="1.45" fill="#4d6478"/>
<circle cx="202.30" cy="448.90" r="1.45" fill="#4d6478"/>
<circle cx="210.80" cy="448.90" r="1.45" fill="#4d6478"/>
<text x="210.80" y="546.10" font-size="11.9" text-anchor="end" fill="#1a1a1a" stroke="#1a1a1a" stroke-width="0.18" >Kd: 2.52&#177;1.02 &#181;M</text>
<line x1="264.40" y1="445.40" x2="264.40" y2="555.00" stroke="#7a7a7a" stroke-width="1.0"/>
<line x1="263.90" y1="554.50" x2="422.60" y2="554.50" stroke="#7a7a7a" stroke-width="1.0"/>
<line x1="261.90" y1="446.00" x2="264.40" y2="446.00" stroke="#7a7a7a" stroke-width="1.0"/>
<line x1="260.90" y1="453.27" x2="264.40" y2="453.27" stroke="#7a7a7a" stroke-width="1.0"/>
<line x1="261.90" y1="460.54" x2="264.40" y2="460.54" stroke="#7a7a7a" stroke-width="1.0"/>
<line x1="261.90" y1="467.81" x2="264.40" y2="467.81" stroke="#7a7a7a" stroke-width="1.0"/>
<line x1="261.90" y1="475.08" x2="264.40" y2="475.08" stroke="#7a7a7a" stroke-width="1.0"/>
<line x1="261.90" y1="482.35" x2="264.40" y2="482.35" stroke="#7a7a7a" stroke-width="1.0"/>
<line x1="261.90" y1="489.62" x2="264.40" y2="489.62" stroke="#7a7a7a" stroke-width="1.0"/>
<line x1="261.90" y1="496.89" x2="264.40" y2="496.89" stroke="#7a7a7a" stroke-width="1.0"/>
<line x1="261.90" y1="504.16" x2="264.40" y2="504.16" stroke="#7a7a7a" stroke-width="1.0"/>
<line x1="260.90" y1="511.43" x2="264.40" y2="511.43" stroke="#7a7a7a" stroke-width="1.0"/>
<line x1="261.90" y1="518.70" x2="264.40" y2="518.70" stroke="#7a7a7a" stroke-width="1.0"/>
<line x1="261.90" y1="525.97" x2="264.40" y2="525.97" stroke="#7a7a7a" stroke-width="1.0"/>
<line x1="261.90" y1="533.24" x2="264.40" y2="533.24" stroke="#7a7a7a" stroke-width="1.0"/>
<line x1="261.90" y1="540.51" x2="264.40" y2="540.51" stroke="#7a7a7a" stroke-width="1.0"/>
<line x1="260.90" y1="547.78" x2="264.40" y2="547.78" stroke="#7a7a7a" stroke-width="1.0"/>
<line x1="264.40" y1="554.50" x2="264.40" y2="558.50" stroke="#7a7a7a" stroke-width="1.0"/>
<line x1="271.74" y1="554.50" x2="271.74" y2="557.00" stroke="#7a7a7a" stroke-width="1.0"/>
<line x1="279.08" y1="554.50" x2="279.08" y2="558.50" stroke="#7a7a7a" stroke-width="1.0"/>
<line x1="286.42" y1="554.50" x2="286.42" y2="557.00" stroke="#7a7a7a" stroke-width="1.0"/>
<line x1="293.76" y1="554.50" x2="293.76" y2="558.50" stroke="#7a7a7a" stroke-width="1.0"/>
<line x1="301.10" y1="554.50" x2="301.10" y2="557.00" stroke="#7a7a7a" stroke-width="1.0"/>
<line x1="308.44" y1="554.50" x2="308.44" y2="558.50" stroke="#7a7a7a" stroke-width="1.0"/>
<line x1="315.78" y1="554.50" x2="315.78" y2="557.00" stroke="#7a7a7a" stroke-width="1.0"/>
<line x1="323.12" y1="554.50" x2="323.12" y2="558.50" stroke="#7a7a7a" stroke-width="1.0"/>
<line x1="330.46" y1="554.50" x2="330.46" y2="557.00" stroke="#7a7a7a" stroke-width="1.0"/>
<line x1="337.80" y1="554.50" x2="337.80" y2="558.50" stroke="#7a7a7a" stroke-width="1.0"/>
<line x1="345.14" y1="554.50" x2="345.14" y2="557.00" stroke="#7a7a7a" stroke-width="1.0"/>
<line x1="352.48" y1="554.50" x2="352.48" y2="558.50" stroke="#7a7a7a" stroke-width="1.0"/>
<line x1="359.82" y1="554.50" x2="359.82" y2="557.00" stroke="#7a7a7a" stroke-width="1.0"/>
<line x1="367.16" y1="554.50" x2="367.16" y2="558.50" stroke="#7a7a7a" stroke-width="1.0"/>
<line x1="374.50" y1="554.50" x2="374.50" y2="557.00" stroke="#7a7a7a" stroke-width="1.0"/>
<line x1="381.84" y1="554.50" x2="381.84" y2="558.50" stroke="#7a7a7a" stroke-width="1.0"/>
<line x1="389.18" y1="554.50" x2="389.18" y2="557.00" stroke="#7a7a7a" stroke-width="1.0"/>
<line x1="396.52" y1="554.50" x2="396.52" y2="558.50" stroke="#7a7a7a" stroke-width="1.0"/>
<line x1="403.86" y1="554.50" x2="403.86" y2="557.00" stroke="#7a7a7a" stroke-width="1.0"/>
<line x1="411.20" y1="554.50" x2="411.20" y2="558.50" stroke="#7a7a7a" stroke-width="1.0"/>
<line x1="418.54" y1="554.50" x2="418.54" y2="557.00" stroke="#7a7a7a" stroke-width="1.0"/>
<text x="260.60" y="454.65" font-size="11.6" text-anchor="end" fill="#1a1a1a" stroke="#1a1a1a" stroke-width="0.18" >0</text>
<text x="260.60" y="513.45" font-size="11.6" text-anchor="end" fill="#1a1a1a" stroke="#1a1a1a" stroke-width="0.18" >-80</text>
<text x="260.60" y="556.45" font-size="11.6" text-anchor="end" fill="#1a1a1a" stroke="#1a1a1a" stroke-width="0.18" >-140</text>
<text x="263.40" y="569.00" font-size="11.6" text-anchor="middle" fill="#1a1a1a" stroke="#1a1a1a" stroke-width="0.18" >0</text>
<text x="336.80" y="569.00" font-size="11.6" text-anchor="middle" fill="#1a1a1a" stroke="#1a1a1a" stroke-width="0.18" >1</text>
<text x="410.20" y="569.00" font-size="11.6" text-anchor="middle" fill="#1a1a1a" stroke="#1a1a1a" stroke-width="0.18" >2</text>
<text x="345.70" y="584.80" font-size="11.6" text-anchor="middle" fill="#1a1a1a" stroke="#1a1a1a" stroke-width="0.18" >Molar Ratio</text>
<text x="234.20" y="501.00" font-size="11.7" text-anchor="middle" fill="#1a1a1a" stroke="#1a1a1a" stroke-width="0.18" transform="rotate(-90 234.20 501.00)">&#916;H (kJ/mol)</text>
<path d="M264.90,534.70 L266.80,534.64 L268.71,534.58 L270.61,534.50 L272.52,534.41 L274.42,534.29 L276.32,534.16 L278.23,533.99 L280.13,533.80 L282.03,533.56 L283.94,533.28 L285.84,532.94 L287.75,532.54 L289.65,532.06 L291.55,531.48 L293.46,530.80 L295.36,530.00 L297.26,529.05 L299.17,527.94 L301.07,526.64 L302.98,525.14 L304.88,523.40 L306.78,521.40 L308.69,519.14 L310.59,516.61 L312.49,513.79 L314.40,510.69 L316.30,507.35 L318.21,503.78 L320.11,500.04 L322.01,496.18 L323.92,492.26 L325.82,488.35 L327.73,484.53 L329.63,480.84 L331.53,477.34 L333.44,474.08 L335.34,471.08 L337.24,468.35 L339.15,465.91 L341.05,463.74 L342.96,461.84 L344.86,460.18 L346.76,458.75 L348.67,457.52 L350.57,456.46 L352.47,455.57 L354.38,454.81 L356.28,454.17 L358.19,453.63 L360.09,453.17 L361.99,452.79 L363.90,452.48 L365.80,452.21 L367.71,451.99 L369.61,451.80 L371.51,451.65 L373.42,451.52 L375.32,451.42 L377.22,451.33 L379.13,451.25 L381.03,451.19 L382.94,451.14 L384.84,451.10 L386.74,451.06 L388.65,451.04 L390.55,451.01 L392.45,450.99 L394.36,450.97 L396.26,450.96 L398.17,450.95 L400.07,450.94 L401.97,450.93 L403.88,450.93 L405.78,450.92 L407.68,450.92 L409.59,450.91 L411.49,450.91 L413.40,450.91 L415.30,450.90" fill="none" stroke="#4a8fae" stroke-width="1.1"/>
<circle cx="272.90" cy="528.00" r="1.45" fill="#4d6478"/>
<circle cx="280.40" cy="517.30" r="1.45" fill="#4d6478"/>
<circle cx="287.80" cy="545.10" r="1.45" fill="#4d6478"/>
<circle cx="295.30" cy="548.80" r="1.45" fill="#4d6478"/>
<circle cx="302.70" cy="524.00" r="1.45" fill="#4d6478"/>
<circle cx="310.40" cy="505.60" r="1.45" fill="#4d6478"/>
<circle cx="318.10" cy="500.40" r="1.45" fill="#4d6478"/>
<circle cx="325.80" cy="486.50" r="1.45" fill="#4d6478"/>
<circle cx="333.50" cy="476.50" r="1.45" fill="#4d6478"/>
<circle cx="341.50" cy="471.30" r="1.45" fill="#4d6478"/>
<circle cx="349.40" cy="458.90" r="1.45" fill="#4d6478"/>
<circle cx="357.40" cy="450.70" r="1.45" fill="#4d6478"/>
<circle cx="365.30" cy="454.90" r="1.45" fill="#4d6478"/>
<circle cx="373.50" cy="453.70" r="1.45" fill="#4d6478"/>
<circle cx="381.70" cy="452.40" r="1.45" fill="#4d6478"/>
<circle cx="389.90" cy="450.90" r="1.45" fill="#4d6478"/>
<circle cx="398.40" cy="450.40" r="1.45" fill="#4d6478"/>
<circle cx="406.60" cy="450.40" r="1.45" fill="#4d6478"/>
<circle cx="415.30" cy="449.70" r="1.45" fill="#4d6478"/>
<text x="419.80" y="545.60" font-size="11.9" text-anchor="end" fill="#1a1a1a" stroke="#1a1a1a" stroke-width="0.18" >Kd: 0.579&#177;0.37 &#181;M</text>
<line x1="473.50" y1="436.10" x2="473.50" y2="555.00" stroke="#7a7a7a" stroke-width="1.0"/>
<line x1="473.00" y1="554.50" x2="633.00" y2="554.50" stroke="#7a7a7a" stroke-width="1.0"/>
<line x1="470.00" y1="437.50" x2="473.50" y2="437.50" stroke="#7a7a7a" stroke-width="1.0"/>
<line x1="471.00" y1="447.80" x2="473.50" y2="447.80" stroke="#7a7a7a" stroke-width="1.0"/>
<line x1="471.00" y1="458.10" x2="473.50" y2="458.10" stroke="#7a7a7a" stroke-width="1.0"/>
<line x1="471.00" y1="468.40" x2="473.50" y2="468.40" stroke="#7a7a7a" stroke-width="1.0"/>
<line x1="471.00" y1="478.70" x2="473.50" y2="478.70" stroke="#7a7a7a" stroke-width="1.0"/>
<line x1="470.00" y1="489.00" x2="473.50" y2="489.00" stroke="#7a7a7a" stroke-width="1.0"/>
<line x1="471.00" y1="499.30" x2="473.50" y2="499.30" stroke="#7a7a7a" stroke-width="1.0"/>
<line x1="471.00" y1="509.60" x2="473.50" y2="509.60" stroke="#7a7a7a" stroke-width="1.0"/>
<line x1="471.00" y1="519.90" x2="473.50" y2="519.90" stroke="#7a7a7a" stroke-width="1.0"/>
<line x1="471.00" y1="530.20" x2="473.50" y2="530.20" stroke="#7a7a7a" stroke-width="1.0"/>
<line x1="470.00" y1="540.50" x2="473.50" y2="540.50" stroke="#7a7a7a" stroke-width="1.0"/>
<line x1="471.00" y1="550.80" x2="473.50" y2="550.80" stroke="#7a7a7a" stroke-width="1.0"/>
<line x1="473.00" y1="554.50" x2="473.00" y2="558.50" stroke="#7a7a7a" stroke-width="1.0"/>
<line x1="480.59" y1="554.50" x2="480.59" y2="557.00" stroke="#7a7a7a" stroke-width="1.0"/>
<line x1="488.18" y1="554.50" x2="488.18" y2="558.50" stroke="#7a7a7a" stroke-width="1.0"/>
<line x1="495.77" y1="554.50" x2="495.77" y2="557.00" stroke="#7a7a7a" stroke-width="1.0"/>
<line x1="503.36" y1="554.50" x2="503.36" y2="558.50" stroke="#7a7a7a" stroke-width="1.0"/>
<line x1="510.95" y1="554.50" x2="510.95" y2="557.00" stroke="#7a7a7a" stroke-width="1.0"/>
<line x1="518.54" y1="554.50" x2="518.54" y2="558.50" stroke="#7a7a7a" stroke-width="1.0"/>
<line x1="526.13" y1="554.50" x2="526.13" y2="557.00" stroke="#7a7a7a" stroke-width="1.0"/>
<line x1="533.72" y1="554.50" x2="533.72" y2="558.50" stroke="#7a7a7a" stroke-width="1.0"/>
<line x1="541.31" y1="554.50" x2="541.31" y2="557.00" stroke="#7a7a7a" stroke-width="1.0"/>
<line x1="548.90" y1="554.50" x2="548.90" y2="558.50" stroke="#7a7a7a" stroke-width="1.0"/>
<line x1="556.49" y1="554.50" x2="556.49" y2="557.00" stroke="#7a7a7a" stroke-width="1.0"/>
<line x1="564.08" y1="554.50" x2="564.08" y2="558.50" stroke="#7a7a7a" stroke-width="1.0"/>
<line x1="571.67" y1="554.50" x2="571.67" y2="557.00" stroke="#7a7a7a" stroke-width="1.0"/>
<line x1="579.26" y1="554.50" x2="579.26" y2="558.50" stroke="#7a7a7a" stroke-width="1.0"/>
<line x1="586.85" y1="554.50" x2="586.85" y2="557.00" stroke="#7a7a7a" stroke-width="1.0"/>
<line x1="594.44" y1="554.50" x2="594.44" y2="558.50" stroke="#7a7a7a" stroke-width="1.0"/>
<line x1="602.03" y1="554.50" x2="602.03" y2="557.00" stroke="#7a7a7a" stroke-width="1.0"/>
<line x1="609.62" y1="554.50" x2="609.62" y2="558.50" stroke="#7a7a7a" stroke-width="1.0"/>
<line x1="617.21" y1="554.50" x2="617.21" y2="557.00" stroke="#7a7a7a" stroke-width="1.0"/>
<line x1="624.80" y1="554.50" x2="624.80" y2="558.50" stroke="#7a7a7a" stroke-width="1.0"/>
<text x="469.70" y="446.75" font-size="11.6" text-anchor="end" fill="#1a1a1a" stroke="#1a1a1a" stroke-width="0.18" >0</text>
<text x="469.70" y="498.05" font-size="11.6" text-anchor="end" fill="#1a1a1a" stroke="#1a1a1a" stroke-width="0.18" >-50</text>
<text x="469.70" y="549.65" font-size="11.6" text-anchor="end" fill="#1a1a1a" stroke="#1a1a1a" stroke-width="0.18" >-100</text>
<text x="472.00" y="569.00" font-size="11.6" text-anchor="middle" fill="#1a1a1a" stroke="#1a1a1a" stroke-width="0.18" >0</text>
<text x="547.90" y="569.00" font-size="11.6" text-anchor="middle" fill="#1a1a1a" stroke="#1a1a1a" stroke-width="0.18" >1</text>
<text x="623.80" y="569.00" font-size="11.6" text-anchor="middle" fill="#1a1a1a" stroke="#1a1a1a" stroke-width="0.18" >2</text>
<text x="556.20" y="585.20" font-size="11.6" text-anchor="middle" fill="#1a1a1a" stroke="#1a1a1a" stroke-width="0.18" >Molar Ratio</text>
<text x="443.30" y="495.80" font-size="11.7" text-anchor="middle" fill="#1a1a1a" stroke="#1a1a1a" stroke-width="0.18" transform="rotate(-90 443.30 495.80)">&#916;H (kJ/mol)</text>
<path d="M474.00,548.83 L475.93,548.37 L477.86,547.87 L479.78,547.30 L481.71,546.66 L483.64,545.95 L485.57,545.16 L487.49,544.28 L489.42,543.31 L491.35,542.23 L493.28,541.03 L495.21,539.72 L497.13,538.27 L499.06,536.69 L500.99,534.96 L502.92,533.09 L504.85,531.06 L506.77,528.87 L508.70,526.52 L510.63,524.02 L512.56,521.37 L514.48,518.58 L516.41,515.66 L518.34,512.61 L520.27,509.47 L522.20,506.24 L524.12,502.96 L526.05,499.63 L527.98,496.30 L529.91,492.98 L531.84,489.70 L533.76,486.48 L535.69,483.35 L537.62,480.32 L539.55,477.41 L541.47,474.63 L543.40,471.99 L545.33,469.51 L547.26,467.18 L549.19,465.01 L551.11,463.00 L553.04,461.14 L554.97,459.43 L556.90,457.86 L558.83,456.43 L560.75,455.13 L562.68,453.95 L564.61,452.88 L566.54,451.91 L568.46,451.05 L570.39,450.26 L572.32,449.56 L574.25,448.94 L576.18,448.37 L578.10,447.87 L580.03,447.42 L581.96,447.02 L583.89,446.67 L585.82,446.35 L587.74,446.07 L589.67,445.82 L591.60,445.60 L593.53,445.40 L595.45,445.22 L597.38,445.07 L599.31,444.93 L601.24,444.81 L603.17,444.70 L605.09,444.60 L607.02,444.52 L608.95,444.44 L610.88,444.38 L612.81,444.32 L614.73,444.26 L616.66,444.22 L618.59,444.18 L620.52,444.14 L622.44,444.11 L624.37,444.08 L626.30,444.06" fill="none" stroke="#4a8fae" stroke-width="1.1"/>
<circle cx="490.00" cy="542.10" r="1.45" fill="#4d6478"/>
<circle cx="504.60" cy="536.20" r="1.45" fill="#4d6478"/>
<circle cx="512.30" cy="523.40" r="1.45" fill="#4d6478"/>
<circle cx="520.00" cy="511.10" r="1.45" fill="#4d6478"/>
<circle cx="527.60" cy="496.50" r="1.45" fill="#4d6478"/>
<circle cx="535.30" cy="481.90" r="1.45" fill="#4d6478"/>
<circle cx="543.50" cy="473.90" r="1.45" fill="#4d6478"/>
<circle cx="551.50" cy="464.00" r="1.45" fill="#4d6478"/>
<circle cx="559.20" cy="458.10" r="1.45" fill="#4d6478"/>
<circle cx="567.40" cy="452.20" r="1.45" fill="#4d6478"/>
<circle cx="575.60" cy="450.10" r="1.45" fill="#4d6478"/>
<circle cx="584.00" cy="447.30" r="1.45" fill="#4d6478"/>
<circle cx="592.20" cy="446.30" r="1.45" fill="#4d6478"/>
<circle cx="600.40" cy="446.00" r="1.45" fill="#4d6478"/>
<circle cx="608.90" cy="444.20" r="1.45" fill="#4d6478"/>
<circle cx="617.30" cy="444.00" r="1.45" fill="#4d6478"/>
<circle cx="626.00" cy="441.40" r="1.45" fill="#4d6478"/>
<text x="633.50" y="546.00" font-size="11.9" text-anchor="end" fill="#1a1a1a" stroke="#1a1a1a" stroke-width="0.18" >Kd: 1.20&#177;0.130 &#181;M</text>
<line x1="60.00" y1="776.00" x2="60.00" y2="890.90" stroke="#7a7a7a" stroke-width="1.0"/>
<line x1="59.50" y1="890.40" x2="226.00" y2="890.40" stroke="#7a7a7a" stroke-width="1.0"/>
<line x1="57.50" y1="778.20" x2="60.00" y2="778.20" stroke="#7a7a7a" stroke-width="1.0"/>
<line x1="56.50" y1="784.50" x2="60.00" y2="784.50" stroke="#7a7a7a" stroke-width="1.0"/>
<line x1="57.50" y1="790.80" x2="60.00" y2="790.80" stroke="#7a7a7a" stroke-width="1.0"/>
<line x1="57.50" y1="797.10" x2="60.00" y2="797.10" stroke="#7a7a7a" stroke-width="1.0"/>
<line x1="57.50" y1="803.40" x2="60.00" y2="803.40" stroke="#7a7a7a" stroke-width="1.0"/>
<line x1="57.50" y1="809.70" x2="60.00" y2="809.70" stroke="#7a7a7a" stroke-width="1.0"/>
<line x1="57.50" y1="816.00" x2="60.00" y2="816.00" stroke="#7a7a7a" stroke-width="1.0"/>
<line x1="57.50" y1="822.30" x2="60.00" y2="822.30" stroke="#7a7a7a" stroke-width="1.0"/>
<line x1="57.50" y1="828.60" x2="60.00" y2="828.60" stroke="#7a7a7a" stroke-width="1.0"/>
<line x1="56.50" y1="834.90" x2="60.00" y2="834.90" stroke="#7a7a7a" stroke-width="1.0"/>
<line x1="57.50" y1="841.20" x2="60.00" y2="841.20" stroke="#7a7a7a" stroke-width="1.0"/>
<line x1="57.50" y1="847.50" x2="60.00" y2="847.50" stroke="#7a7a7a" stroke-width="1.0"/>
<line x1="57.50" y1="853.80" x2="60.00" y2="853.80" stroke="#7a7a7a" stroke-width="1.0"/>
<line x1="57.50" y1="860.10" x2="60.00" y2="860.10" stroke="#7a7a7a" stroke-width="1.0"/>
<line x1="57.50" y1="866.40" x2="60.00" y2="866.40" stroke="#7a7a7a" stroke-width="1.0"/>
<line x1="57.50" y1="872.70" x2="60.00" y2="872.70" stroke="#7a7a7a" stroke-width="1.0"/>
<line x1="57.50" y1="879.00" x2="60.00" y2="879.00" stroke="#7a7a7a" stroke-width="1.0"/>
<line x1="56.50" y1="885.30" x2="60.00" y2="885.30" stroke="#7a7a7a" stroke-width="1.0"/>
<line x1="59.90" y1="890.40" x2="59.90" y2="894.40" stroke="#7a7a7a" stroke-width="1.0"/>
<line x1="67.34" y1="890.40" x2="67.34" y2="892.90" stroke="#7a7a7a" stroke-width="1.0"/>
<line x1="74.78" y1="890.40" x2="74.78" y2="894.40" stroke="#7a7a7a" stroke-width="1.0"/>
<line x1="82.22" y1="890.40" x2="82.22" y2="892.90" stroke="#7a7a7a" stroke-width="1.0"/>
<line x1="89.66" y1="890.40" x2="89.66" y2="894.40" stroke="#7a7a7a" stroke-width="1.0"/>
<line x1="97.10" y1="890.40" x2="97.10" y2="892.90" stroke="#7a7a7a" stroke-width="1.0"/>
<line x1="104.54" y1="890.40" x2="104.54" y2="894.40" stroke="#7a7a7a" stroke-width="1.0"/>
<line x1="111.98" y1="890.40" x2="111.98" y2="892.90" stroke="#7a7a7a" stroke-width="1.0"/>
<line x1="119.42" y1="890.40" x2="119.42" y2="894.40" stroke="#7a7a7a" stroke-width="1.0"/>
<line x1="126.86" y1="890.40" x2="126.86" y2="892.90" stroke="#7a7a7a" stroke-width="1.0"/>
<line x1="134.30" y1="890.40" x2="134.30" y2="894.40" stroke="#7a7a7a" stroke-width="1.0"/>
<line x1="141.74" y1="890.40" x2="141.74" y2="892.90" stroke="#7a7a7a" stroke-width="1.0"/>
<line x1="149.18" y1="890.40" x2="149.18" y2="894.40" stroke="#7a7a7a" stroke-width="1.0"/>
<line x1="156.62" y1="890.40" x2="156.62" y2="892.90" stroke="#7a7a7a" stroke-width="1.0"/>
<line x1="164.06" y1="890.40" x2="164.06" y2="894.40" stroke="#7a7a7a" stroke-width="1.0"/>
<line x1="171.50" y1="890.40" x2="171.50" y2="892.90" stroke="#7a7a7a" stroke-width="1.0"/>
<line x1="178.94" y1="890.40" x2="178.94" y2="894.40" stroke="#7a7a7a" stroke-width="1.0"/>
<line x1="186.38" y1="890.40" x2="186.38" y2="892.90" stroke="#7a7a7a" stroke-width="1.0"/>
<line x1="193.82" y1="890.40" x2="193.82" y2="894.40" stroke="#7a7a7a" stroke-width="1.0"/>
<line x1="201.26" y1="890.40" x2="201.26" y2="892.90" stroke="#7a7a7a" stroke-width="1.0"/>
<line x1="208.70" y1="890.40" x2="208.70" y2="894.40" stroke="#7a7a7a" stroke-width="1.0"/>
<line x1="216.14" y1="890.40" x2="216.14" y2="892.90" stroke="#7a7a7a" stroke-width="1.0"/>
<line x1="223.58" y1="890.40" x2="223.58" y2="894.40" stroke="#7a7a7a" stroke-width="1.0"/>
<text x="56.20" y="789.15" font-size="11.6" text-anchor="end" fill="#1a1a1a" stroke="#1a1a1a" stroke-width="0.18" >0</text>
<text x="56.20" y="839.15" font-size="11.6" text-anchor="end" fill="#1a1a1a" stroke="#1a1a1a" stroke-width="0.18" >-40</text>
<text x="56.20" y="889.85" font-size="11.6" text-anchor="end" fill="#1a1a1a" stroke="#1a1a1a" stroke-width="0.18" >-80</text>
<text x="58.90" y="904.90" font-size="11.6" text-anchor="middle" fill="#1a1a1a" stroke="#1a1a1a" stroke-width="0.18" >0</text>
<text x="133.30" y="904.90" font-size="11.6" text-anchor="middle" fill="#1a1a1a" stroke="#1a1a1a" stroke-width="0.18" >1</text>
<text x="207.70" y="904.90" font-size="11.6" text-anchor="middle" fill="#1a1a1a" stroke="#1a1a1a" stroke-width="0.18" >2</text>
<text x="141.90" y="918.60" font-size="11.6" text-anchor="middle" fill="#1a1a1a" stroke="#1a1a1a" stroke-width="0.18" >Molar Ratio</text>
<text x="29.80" y="833.00" font-size="11.7" text-anchor="middle" fill="#1a1a1a" stroke="#1a1a1a" stroke-width="0.18" transform="rotate(-90 29.80 833.00)">&#916;H (kJ/mol)</text>
<path d="M60.50,886.17 L62.43,886.03 L64.37,885.85 L66.30,885.63 L68.24,885.36 L70.17,885.01 L72.11,884.59 L74.04,884.05 L75.97,883.39 L77.91,882.58 L79.84,881.57 L81.78,880.33 L83.71,878.83 L85.64,877.01 L87.58,874.81 L89.51,872.21 L91.45,869.14 L93.38,865.58 L95.32,861.52 L97.25,856.97 L99.18,851.96 L101.12,846.58 L103.05,840.94 L104.99,835.16 L106.92,829.40 L108.85,823.81 L110.79,818.50 L112.72,813.58 L114.66,809.12 L116.59,805.17 L118.53,801.71 L120.46,798.74 L122.39,796.23 L124.33,794.11 L126.26,792.36 L128.20,790.92 L130.13,789.73 L132.06,788.77 L134.00,787.99 L135.93,787.35 L137.87,786.84 L139.80,786.44 L141.74,786.11 L143.67,785.84 L145.60,785.63 L147.54,785.46 L149.47,785.33 L151.41,785.22 L153.34,785.14 L155.27,785.07 L157.21,785.01 L159.14,784.97 L161.08,784.93 L163.01,784.91 L164.95,784.88 L166.88,784.87 L168.81,784.85 L170.75,784.84 L172.68,784.83 L174.62,784.83 L176.55,784.82 L178.48,784.82 L180.42,784.81 L182.35,784.81 L184.29,784.81 L186.22,784.81 L188.16,784.80 L190.09,784.80 L192.02,784.80 L193.96,784.80 L195.89,784.80 L197.83,784.80 L199.76,784.80 L201.69,784.80 L203.63,784.80 L205.56,784.80 L207.50,784.80 L209.43,784.80 L211.37,784.80 L213.30,784.80" fill="none" stroke="#4a8fae" stroke-width="1.1"/>
<circle cx="69.20" cy="880.30" r="1.45" fill="#4d6478"/>
<circle cx="77.10" cy="876.30" r="1.45" fill="#4d6478"/>
<circle cx="84.60" cy="882.60" r="1.45" fill="#4d6478"/>
<circle cx="92.00" cy="872.60" r="1.45" fill="#4d6478"/>
<circle cx="99.70" cy="844.00" r="1.45" fill="#4d6478"/>
<circle cx="107.20" cy="827.20" r="1.45" fill="#4d6478"/>
<circle cx="114.90" cy="811.80" r="1.45" fill="#4d6478"/>
<circle cx="122.60" cy="798.10" r="1.45" fill="#4d6478"/>
<circle cx="130.50" cy="796.80" r="1.45" fill="#4d6478"/>
<circle cx="138.20" cy="786.20" r="1.45" fill="#4d6478"/>
<circle cx="146.20" cy="786.40" r="1.45" fill="#4d6478"/>
<circle cx="154.40" cy="787.40" r="1.45" fill="#4d6478"/>
<circle cx="162.80" cy="787.70" r="1.45" fill="#4d6478"/>
<circle cx="171.00" cy="784.40" r="1.45" fill="#4d6478"/>
<circle cx="179.20" cy="780.70" r="1.45" fill="#4d6478"/>
<circle cx="187.40" cy="782.90" r="1.45" fill="#4d6478"/>
<circle cx="195.90" cy="782.90" r="1.45" fill="#4d6478"/>
<circle cx="204.60" cy="783.70" r="1.45" fill="#4d6478"/>
<circle cx="213.30" cy="782.20" r="1.45" fill="#4d6478"/>
<text x="212.80" y="882.10" font-size="11.9" text-anchor="end" fill="#1a1a1a" stroke="#1a1a1a" stroke-width="0.18" >Kd: 0.489&#177;0.128 &#181;M</text>
<line x1="267.60" y1="774.60" x2="267.60" y2="888.10" stroke="#7a7a7a" stroke-width="1.0"/>
<line x1="267.10" y1="887.60" x2="431.50" y2="887.60" stroke="#7a7a7a" stroke-width="1.0"/>
<line x1="265.10" y1="775.10" x2="267.60" y2="775.10" stroke="#7a7a7a" stroke-width="1.0"/>
<line x1="264.10" y1="780.10" x2="267.60" y2="780.10" stroke="#7a7a7a" stroke-width="1.0"/>
<line x1="265.10" y1="785.10" x2="267.60" y2="785.10" stroke="#7a7a7a" stroke-width="1.0"/>
<line x1="265.10" y1="790.10" x2="267.60" y2="790.10" stroke="#7a7a7a" stroke-width="1.0"/>
<line x1="265.10" y1="795.10" x2="267.60" y2="795.10" stroke="#7a7a7a" stroke-width="1.0"/>
<line x1="265.10" y1="800.10" x2="267.60" y2="800.10" stroke="#7a7a7a" stroke-width="1.0"/>
<line x1="265.10" y1="805.10" x2="267.60" y2="805.10" stroke="#7a7a7a" stroke-width="1.0"/>
<line x1="265.10" y1="810.10" x2="267.60" y2="810.10" stroke="#7a7a7a" stroke-width="1.0"/>
<line x1="265.10" y1="815.10" x2="267.60" y2="815.10" stroke="#7a7a7a" stroke-width="1.0"/>
<line x1="265.10" y1="820.10" x2="267.60" y2="820.10" stroke="#7a7a7a" stroke-width="1.0"/>
<line x1="265.10" y1="825.10" x2="267.60" y2="825.10" stroke="#7a7a7a" stroke-width="1.0"/>
<line x1="264.10" y1="830.10" x2="267.60" y2="830.10" stroke="#7a7a7a" stroke-width="1.0"/>
<line x1="265.10" y1="835.10" x2="267.60" y2="835.10" stroke="#7a7a7a" stroke-width="1.0"/>
<line x1="265.10" y1="840.10" x2="267.60" y2="840.10" stroke="#7a7a7a" stroke-width="1.0"/>
<line x1="265.10" y1="845.10" x2="267.60" y2="845.10" stroke="#7a7a7a" stroke-width="1.0"/>
<line x1="265.10" y1="850.10" x2="267.60" y2="850.10" stroke="#7a7a7a" stroke-width="1.0"/>
<line x1="265.10" y1="855.10" x2="267.60" y2="855.10" stroke="#7a7a7a" stroke-width="1.0"/>
<line x1="265.10" y1="860.10" x2="267.60" y2="860.10" stroke="#7a7a7a" stroke-width="1.0"/>
<line x1="265.10" y1="865.10" x2="267.60" y2="865.10" stroke="#7a7a7a" stroke-width="1.0"/>
<line x1="264.10" y1="870.10" x2="267.60" y2="870.10" stroke="#7a7a7a" stroke-width="1.0"/>
<line x1="265.10" y1="875.10" x2="267.60" y2="875.10" stroke="#7a7a7a" stroke-width="1.0"/>
<line x1="265.10" y1="880.10" x2="267.60" y2="880.10" stroke="#7a7a7a" stroke-width="1.0"/>
<line x1="265.10" y1="885.10" x2="267.60" y2="885.10" stroke="#7a7a7a" stroke-width="1.0"/>
<line x1="265.10" y1="887.60" x2="265.10" y2="891.60" stroke="#7a7a7a" stroke-width="1.0"/>
<line x1="272.63" y1="887.60" x2="272.63" y2="890.10" stroke="#7a7a7a" stroke-width="1.0"/>
<line x1="280.16" y1="887.60" x2="280.16" y2="891.60" stroke="#7a7a7a" stroke-width="1.0"/>
<line x1="287.69" y1="887.60" x2="287.69" y2="890.10" stroke="#7a7a7a" stroke-width="1.0"/>
<line x1="295.22" y1="887.60" x2="295.22" y2="891.60" stroke="#7a7a7a" stroke-width="1.0"/>
<line x1="302.75" y1="887.60" x2="302.75" y2="890.10" stroke="#7a7a7a" stroke-width="1.0"/>
<line x1="310.28" y1="887.60" x2="310.28" y2="891.60" stroke="#7a7a7a" stroke-width="1.0"/>
<line x1="317.81" y1="887.60" x2="317.81" y2="890.10" stroke="#7a7a7a" stroke-width="1.0"/>
<line x1="325.34" y1="887.60" x2="325.34" y2="891.60" stroke="#7a7a7a" stroke-width="1.0"/>
<line x1="332.87" y1="887.60" x2="332.87" y2="890.10" stroke="#7a7a7a" stroke-width="1.0"/>
<line x1="340.40" y1="887.60" x2="340.40" y2="891.60" stroke="#7a7a7a" stroke-width="1.0"/>
<line x1="347.93" y1="887.60" x2="347.93" y2="890.10" stroke="#7a7a7a" stroke-width="1.0"/>
<line x1="355.46" y1="887.60" x2="355.46" y2="891.60" stroke="#7a7a7a" stroke-width="1.0"/>
<line x1="362.99" y1="887.60" x2="362.99" y2="890.10" stroke="#7a7a7a" stroke-width="1.0"/>
<line x1="370.52" y1="887.60" x2="370.52" y2="891.60" stroke="#7a7a7a" stroke-width="1.0"/>
<line x1="378.05" y1="887.60" x2="378.05" y2="890.10" stroke="#7a7a7a" stroke-width="1.0"/>
<line x1="385.58" y1="887.60" x2="385.58" y2="891.60" stroke="#7a7a7a" stroke-width="1.0"/>
<line x1="393.11" y1="887.60" x2="393.11" y2="890.10" stroke="#7a7a7a" stroke-width="1.0"/>
<line x1="400.64" y1="887.60" x2="400.64" y2="891.60" stroke="#7a7a7a" stroke-width="1.0"/>
<line x1="408.17" y1="887.60" x2="408.17" y2="890.10" stroke="#7a7a7a" stroke-width="1.0"/>
<line x1="415.70" y1="887.60" x2="415.70" y2="891.60" stroke="#7a7a7a" stroke-width="1.0"/>
<line x1="423.23" y1="887.60" x2="423.23" y2="890.10" stroke="#7a7a7a" stroke-width="1.0"/>
<text x="263.80" y="786.65" font-size="11.6" text-anchor="end" fill="#1a1a1a" stroke="#1a1a1a" stroke-width="0.18" >0</text>
<text x="263.80" y="836.35" font-size="11.6" text-anchor="end" fill="#1a1a1a" stroke="#1a1a1a" stroke-width="0.18" >-50</text>
<text x="263.80" y="875.95" font-size="11.6" text-anchor="end" fill="#1a1a1a" stroke="#1a1a1a" stroke-width="0.18" >-100</text>
<text x="264.10" y="902.10" font-size="11.6" text-anchor="middle" fill="#1a1a1a" stroke="#1a1a1a" stroke-width="0.18" >0</text>
<text x="339.40" y="902.10" font-size="11.6" text-anchor="middle" fill="#1a1a1a" stroke="#1a1a1a" stroke-width="0.18" >1</text>
<text x="414.70" y="902.10" font-size="11.6" text-anchor="middle" fill="#1a1a1a" stroke="#1a1a1a" stroke-width="0.18" >2</text>
<text x="347.90" y="914.80" font-size="11.6" text-anchor="middle" fill="#1a1a1a" stroke="#1a1a1a" stroke-width="0.18" >Molar Ratio</text>
<text x="237.40" y="831.80" font-size="11.7" text-anchor="middle" fill="#1a1a1a" stroke="#1a1a1a" stroke-width="0.18" transform="rotate(-90 237.40 831.80)">&#916;H (kJ/mol)</text>
<path d="M268.10,880.32 L270.02,880.23 L271.93,880.13 L273.85,880.00 L275.77,879.86 L277.68,879.68 L279.60,879.48 L281.52,879.25 L283.43,878.98 L285.35,878.66 L287.26,878.29 L289.18,877.85 L291.10,877.35 L293.01,876.76 L294.93,876.08 L296.85,875.29 L298.76,874.38 L300.68,873.33 L302.60,872.13 L304.51,870.77 L306.43,869.21 L308.35,867.45 L310.26,865.47 L312.18,863.26 L314.09,860.81 L316.01,858.11 L317.93,855.17 L319.84,852.00 L321.76,848.61 L323.68,845.03 L325.59,841.30 L327.51,837.44 L329.43,833.52 L331.34,829.57 L333.26,825.66 L335.18,821.83 L337.09,818.13 L339.01,814.59 L340.93,811.24 L342.84,808.12 L344.76,805.24 L346.67,802.60 L348.59,800.21 L350.51,798.05 L352.42,796.12 L354.34,794.41 L356.26,792.90 L358.17,791.57 L360.09,790.40 L362.01,789.39 L363.92,788.51 L365.84,787.75 L367.76,787.09 L369.67,786.52 L371.59,786.03 L373.51,785.61 L375.42,785.25 L377.34,784.94 L379.25,784.68 L381.17,784.45 L383.09,784.26 L385.00,784.10 L386.92,783.96 L388.84,783.84 L390.75,783.73 L392.67,783.65 L394.59,783.57 L396.50,783.51 L398.42,783.45 L400.34,783.41 L402.25,783.37 L404.17,783.34 L406.08,783.31 L408.00,783.28 L409.92,783.26 L411.83,783.25 L413.75,783.23 L415.67,783.22 L417.58,783.21 L419.50,783.20" fill="none" stroke="#4a8fae" stroke-width="1.1"/>
<circle cx="283.60" cy="874.80" r="1.45" fill="#4d6478"/>
<circle cx="291.10" cy="870.60" r="1.45" fill="#4d6478"/>
<circle cx="298.50" cy="881.30" r="1.45" fill="#4d6478"/>
<circle cx="306.00" cy="871.10" r="1.45" fill="#4d6478"/>
<circle cx="313.70" cy="863.20" r="1.45" fill="#4d6478"/>
<circle cx="321.60" cy="843.80" r="1.45" fill="#4d6478"/>
<circle cx="329.10" cy="833.90" r="1.45" fill="#4d6478"/>
<circle cx="337.00" cy="818.00" r="1.45" fill="#4d6478"/>
<circle cx="345.00" cy="810.70" r="1.45" fill="#4d6478"/>
<circle cx="353.20" cy="796.80" r="1.45" fill="#4d6478"/>
<circle cx="361.10" cy="791.90" r="1.45" fill="#4d6478"/>
<circle cx="369.30" cy="789.10" r="1.45" fill="#4d6478"/>
<circle cx="377.50" cy="788.10" r="1.45" fill="#4d6478"/>
<circle cx="386.00" cy="786.10" r="1.45" fill="#4d6478"/>
<circle cx="394.20" cy="783.90" r="1.45" fill="#4d6478"/>
<circle cx="402.40" cy="781.90" r="1.45" fill="#4d6478"/>
<circle cx="410.80" cy="781.20" r="1.45" fill="#4d6478"/>
<circle cx="419.50" cy="779.20" r="1.45" fill="#4d6478"/>
<text x="422.80" y="878.90" font-size="11.9" text-anchor="end" fill="#1a1a1a" stroke="#1a1a1a" stroke-width="0.18" >Kd: 0.699&#177;0.180 &#181;M</text>
<line x1="477.60" y1="772.00" x2="477.60" y2="890.30" stroke="#7a7a7a" stroke-width="1.0"/>
<line x1="477.10" y1="889.80" x2="639.20" y2="889.80" stroke="#7a7a7a" stroke-width="1.0"/>
<line x1="474.10" y1="773.00" x2="477.60" y2="773.00" stroke="#7a7a7a" stroke-width="1.0"/>
<line x1="475.10" y1="783.30" x2="477.60" y2="783.30" stroke="#7a7a7a" stroke-width="1.0"/>
<line x1="475.10" y1="793.60" x2="477.60" y2="793.60" stroke="#7a7a7a" stroke-width="1.0"/>
<line x1="475.10" y1="803.90" x2="477.60" y2="803.90" stroke="#7a7a7a" stroke-width="1.0"/>
<line x1="475.10" y1="814.20" x2="477.60" y2="814.20" stroke="#7a7a7a" stroke-width="1.0"/>
<line x1="475.10" y1="824.50" x2="477.60" y2="824.50" stroke="#7a7a7a" stroke-width="1.0"/>
<line x1="474.10" y1="834.80" x2="477.60" y2="834.80" stroke="#7a7a7a" stroke-width="1.0"/>
<line x1="475.10" y1="845.10" x2="477.60" y2="845.10" stroke="#7a7a7a" stroke-width="1.0"/>
<line x1="475.10" y1="855.40" x2="477.60" y2="855.40" stroke="#7a7a7a" stroke-width="1.0"/>
<line x1="475.10" y1="865.70" x2="477.60" y2="865.70" stroke="#7a7a7a" stroke-width="1.0"/>
<line x1="474.10" y1="876.00" x2="477.60" y2="876.00" stroke="#7a7a7a" stroke-width="1.0"/>
<line x1="475.10" y1="886.30" x2="477.60" y2="886.30" stroke="#7a7a7a" stroke-width="1.0"/>
<line x1="477.20" y1="889.80" x2="477.20" y2="893.80" stroke="#7a7a7a" stroke-width="1.0"/>
<line x1="484.72" y1="889.80" x2="484.72" y2="892.30" stroke="#7a7a7a" stroke-width="1.0"/>
<line x1="492.24" y1="889.80" x2="492.24" y2="893.80" stroke="#7a7a7a" stroke-width="1.0"/>
<line x1="499.76" y1="889.80" x2="499.76" y2="892.30" stroke="#7a7a7a" stroke-width="1.0"/>
<line x1="507.28" y1="889.80" x2="507.28" y2="893.80" stroke="#7a7a7a" stroke-width="1.0"/>
<line x1="514.80" y1="889.80" x2="514.80" y2="892.30" stroke="#7a7a7a" stroke-width="1.0"/>
<line x1="522.32" y1="889.80" x2="522.32" y2="893.80" stroke="#7a7a7a" stroke-width="1.0"/>
<line x1="529.84" y1="889.80" x2="529.84" y2="892.30" stroke="#7a7a7a" stroke-width="1.0"/>
<line x1="537.36" y1="889.80" x2="537.36" y2="893.80" stroke="#7a7a7a" stroke-width="1.0"/>
<line x1="544.88" y1="889.80" x2="544.88" y2="892.30" stroke="#7a7a7a" stroke-width="1.0"/>
<line x1="552.40" y1="889.80" x2="552.40" y2="893.80" stroke="#7a7a7a" stroke-width="1.0"/>
<line x1="559.92" y1="889.80" x2="559.92" y2="892.30" stroke="#7a7a7a" stroke-width="1.0"/>
<line x1="567.44" y1="889.80" x2="567.44" y2="893.80" stroke="#7a7a7a" stroke-width="1.0"/>
<line x1="574.96" y1="889.80" x2="574.96" y2="892.30" stroke="#7a7a7a" stroke-width="1.0"/>
<line x1="582.48" y1="889.80" x2="582.48" y2="893.80" stroke="#7a7a7a" stroke-width="1.0"/>
<line x1="590.00" y1="889.80" x2="590.00" y2="892.30" stroke="#7a7a7a" stroke-width="1.0"/>
<line x1="597.52" y1="889.80" x2="597.52" y2="893.80" stroke="#7a7a7a" stroke-width="1.0"/>
<line x1="605.04" y1="889.80" x2="605.04" y2="892.30" stroke="#7a7a7a" stroke-width="1.0"/>
<line x1="612.56" y1="889.80" x2="612.56" y2="893.80" stroke="#7a7a7a" stroke-width="1.0"/>
<line x1="620.08" y1="889.80" x2="620.08" y2="892.30" stroke="#7a7a7a" stroke-width="1.0"/>
<line x1="627.60" y1="889.80" x2="627.60" y2="893.80" stroke="#7a7a7a" stroke-width="1.0"/>
<line x1="635.12" y1="889.80" x2="635.12" y2="892.30" stroke="#7a7a7a" stroke-width="1.0"/>
<text x="473.80" y="781.95" font-size="11.6" text-anchor="end" fill="#1a1a1a" stroke="#1a1a1a" stroke-width="0.18" >0</text>
<text x="473.80" y="834.15" font-size="11.6" text-anchor="end" fill="#1a1a1a" stroke="#1a1a1a" stroke-width="0.18" >-50</text>
<text x="473.80" y="883.75" font-size="11.6" text-anchor="end" fill="#1a1a1a" stroke="#1a1a1a" stroke-width="0.18" >-100</text>
<text x="476.20" y="904.30" font-size="11.6" text-anchor="middle" fill="#1a1a1a" stroke="#1a1a1a" stroke-width="0.18" >0</text>
<text x="551.40" y="904.30" font-size="11.6" text-anchor="middle" fill="#1a1a1a" stroke="#1a1a1a" stroke-width="0.18" >1</text>
<text x="626.60" y="904.30" font-size="11.6" text-anchor="middle" fill="#1a1a1a" stroke="#1a1a1a" stroke-width="0.18" >2</text>
<text x="559.70" y="917.40" font-size="11.6" text-anchor="middle" fill="#1a1a1a" stroke="#1a1a1a" stroke-width="0.18" >Molar Ratio</text>
<text x="447.40" y="832.60" font-size="11.7" text-anchor="middle" fill="#1a1a1a" stroke="#1a1a1a" stroke-width="0.18" transform="rotate(-90 447.40 832.60)">&#916;H (kJ/mol)</text>
<path d="M478.10,883.38 L480.04,883.20 L481.98,882.99 L483.92,882.73 L485.86,882.44 L487.80,882.10 L489.74,881.70 L491.67,881.24 L493.61,880.70 L495.55,880.07 L497.49,879.35 L499.43,878.51 L501.37,877.54 L503.31,876.44 L505.25,875.17 L507.19,873.72 L509.13,872.08 L511.07,870.22 L513.01,868.14 L514.95,865.81 L516.88,863.24 L518.82,860.41 L520.76,857.32 L522.70,853.99 L524.64,850.43 L526.58,846.67 L528.52,842.75 L530.46,838.69 L532.40,834.56 L534.34,830.41 L536.28,826.28 L538.22,822.23 L540.16,818.31 L542.09,814.55 L544.03,811.00 L545.97,807.68 L547.91,804.60 L549.85,801.77 L551.79,799.20 L553.73,796.88 L555.67,794.80 L557.61,792.95 L559.55,791.32 L561.49,789.87 L563.43,788.61 L565.37,787.51 L567.31,786.55 L569.24,785.71 L571.18,784.99 L573.12,784.37 L575.06,783.83 L577.00,783.37 L578.94,782.97 L580.88,782.63 L582.82,782.34 L584.76,782.09 L586.70,781.87 L588.64,781.69 L590.58,781.53 L592.52,781.40 L594.45,781.28 L596.39,781.19 L598.33,781.10 L600.27,781.03 L602.21,780.97 L604.15,780.92 L606.09,780.87 L608.03,780.84 L609.97,780.81 L611.91,780.78 L613.85,780.75 L615.79,780.73 L617.73,780.72 L619.66,780.70 L621.60,780.69 L623.54,780.68 L625.48,780.67 L627.42,780.66 L629.36,780.66 L631.30,780.65" fill="none" stroke="#4a8fae" stroke-width="1.1"/>
<circle cx="494.60" cy="877.30" r="1.45" fill="#4d6478"/>
<circle cx="502.10" cy="875.60" r="1.45" fill="#4d6478"/>
<circle cx="509.50" cy="874.30" r="1.45" fill="#4d6478"/>
<circle cx="517.50" cy="866.10" r="1.45" fill="#4d6478"/>
<circle cx="525.20" cy="847.00" r="1.45" fill="#4d6478"/>
<circle cx="532.90" cy="830.90" r="1.45" fill="#4d6478"/>
<circle cx="540.60" cy="815.20" r="1.45" fill="#4d6478"/>
<circle cx="548.50" cy="804.00" r="1.45" fill="#4d6478"/>
<circle cx="556.20" cy="795.30" r="1.45" fill="#4d6478"/>
<circle cx="564.70" cy="789.90" r="1.45" fill="#4d6478"/>
<circle cx="572.90" cy="786.40" r="1.45" fill="#4d6478"/>
<circle cx="581.10" cy="782.90" r="1.45" fill="#4d6478"/>
<circle cx="589.30" cy="781.70" r="1.45" fill="#4d6478"/>
<circle cx="597.70" cy="779.90" r="1.45" fill="#4d6478"/>
<circle cx="605.70" cy="779.20" r="1.45" fill="#4d6478"/>
<circle cx="614.40" cy="778.70" r="1.45" fill="#4d6478"/>
<circle cx="623.10" cy="777.50" r="1.45" fill="#4d6478"/>
<circle cx="631.30" cy="778.20" r="1.45" fill="#4d6478"/>
<text x="632.10" y="881.40" font-size="11.9" text-anchor="end" fill="#1a1a1a" stroke="#1a1a1a" stroke-width="0.18" >Kd: 0.740&#177;0.093 &#181;M</text>
<text x="-0.3" y="20.0" font-size="27" font-weight="bold" fill="#000">A</text>
<text x="1.0" y="293.9" font-size="26.5" font-weight="bold" fill="#000">B</text>
</svg>
</body></html>
